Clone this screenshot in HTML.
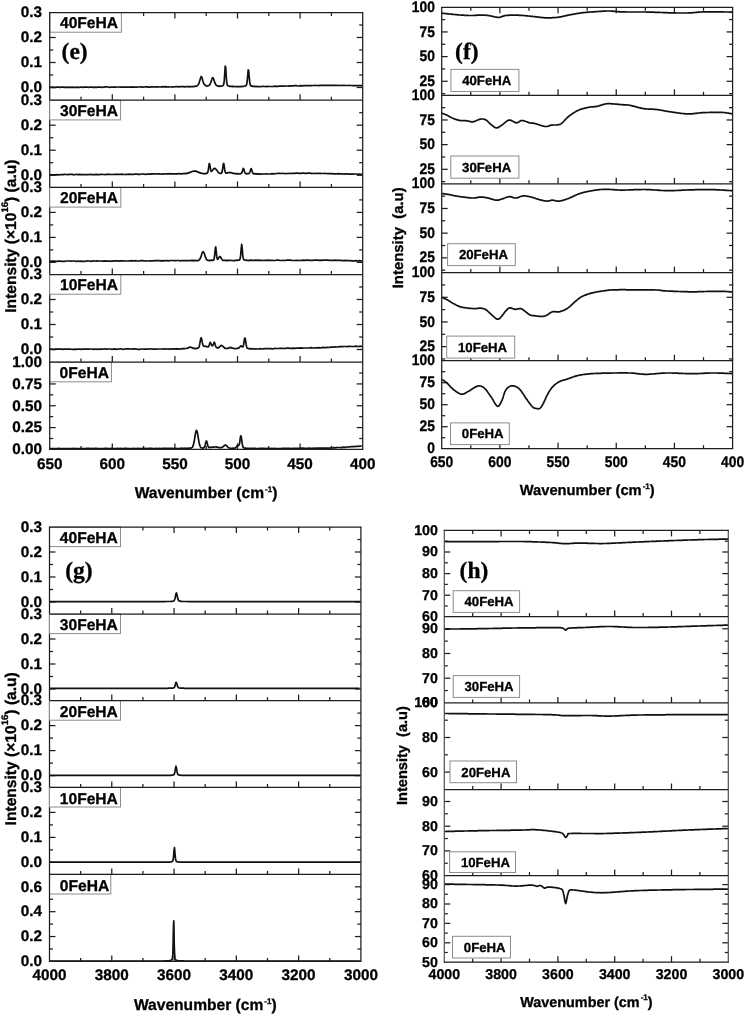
<!DOCTYPE html>
<html><head><meta charset="utf-8"><style>
html,body{margin:0;padding:0;background:#fff;}
svg{display:block;will-change:transform;}
text{text-rendering:geometricPrecision;stroke:#000;stroke-width:0.3px;}
</style></head><body>
<svg width="745" height="1015" viewBox="0 0 745 1015">
<rect width="745" height="1015" fill="#fff"/>
<line x1="81.00" y1="12.50" x2="81.00" y2="16.00" stroke="#1e1e1e" stroke-width="1.25"/>
<line x1="81.00" y1="100.20" x2="81.00" y2="96.70" stroke="#1e1e1e" stroke-width="1.25"/>
<line x1="112.30" y1="12.50" x2="112.30" y2="18.50" stroke="#1e1e1e" stroke-width="1.25"/>
<line x1="112.30" y1="100.20" x2="112.30" y2="94.20" stroke="#1e1e1e" stroke-width="1.25"/>
<line x1="143.60" y1="12.50" x2="143.60" y2="16.00" stroke="#1e1e1e" stroke-width="1.25"/>
<line x1="143.60" y1="100.20" x2="143.60" y2="96.70" stroke="#1e1e1e" stroke-width="1.25"/>
<line x1="174.90" y1="12.50" x2="174.90" y2="18.50" stroke="#1e1e1e" stroke-width="1.25"/>
<line x1="174.90" y1="100.20" x2="174.90" y2="94.20" stroke="#1e1e1e" stroke-width="1.25"/>
<line x1="206.20" y1="12.50" x2="206.20" y2="16.00" stroke="#1e1e1e" stroke-width="1.25"/>
<line x1="206.20" y1="100.20" x2="206.20" y2="96.70" stroke="#1e1e1e" stroke-width="1.25"/>
<line x1="237.50" y1="12.50" x2="237.50" y2="18.50" stroke="#1e1e1e" stroke-width="1.25"/>
<line x1="237.50" y1="100.20" x2="237.50" y2="94.20" stroke="#1e1e1e" stroke-width="1.25"/>
<line x1="268.80" y1="12.50" x2="268.80" y2="16.00" stroke="#1e1e1e" stroke-width="1.25"/>
<line x1="268.80" y1="100.20" x2="268.80" y2="96.70" stroke="#1e1e1e" stroke-width="1.25"/>
<line x1="300.10" y1="12.50" x2="300.10" y2="18.50" stroke="#1e1e1e" stroke-width="1.25"/>
<line x1="300.10" y1="100.20" x2="300.10" y2="94.20" stroke="#1e1e1e" stroke-width="1.25"/>
<line x1="331.40" y1="12.50" x2="331.40" y2="16.00" stroke="#1e1e1e" stroke-width="1.25"/>
<line x1="331.40" y1="100.20" x2="331.40" y2="96.70" stroke="#1e1e1e" stroke-width="1.25"/>
<line x1="49.70" y1="87.50" x2="55.70" y2="87.50" stroke="#1e1e1e" stroke-width="1.25"/>
<line x1="362.70" y1="87.50" x2="356.70" y2="87.50" stroke="#1e1e1e" stroke-width="1.25"/>
<line x1="49.70" y1="75.00" x2="53.20" y2="75.00" stroke="#1e1e1e" stroke-width="1.25"/>
<line x1="362.70" y1="75.00" x2="359.20" y2="75.00" stroke="#1e1e1e" stroke-width="1.25"/>
<line x1="49.70" y1="62.50" x2="55.70" y2="62.50" stroke="#1e1e1e" stroke-width="1.25"/>
<line x1="362.70" y1="62.50" x2="356.70" y2="62.50" stroke="#1e1e1e" stroke-width="1.25"/>
<line x1="49.70" y1="50.00" x2="53.20" y2="50.00" stroke="#1e1e1e" stroke-width="1.25"/>
<line x1="362.70" y1="50.00" x2="359.20" y2="50.00" stroke="#1e1e1e" stroke-width="1.25"/>
<line x1="49.70" y1="37.50" x2="55.70" y2="37.50" stroke="#1e1e1e" stroke-width="1.25"/>
<line x1="362.70" y1="37.50" x2="356.70" y2="37.50" stroke="#1e1e1e" stroke-width="1.25"/>
<line x1="49.70" y1="25.00" x2="53.20" y2="25.00" stroke="#1e1e1e" stroke-width="1.25"/>
<line x1="362.70" y1="25.00" x2="359.20" y2="25.00" stroke="#1e1e1e" stroke-width="1.25"/>
<line x1="81.00" y1="187.40" x2="81.00" y2="183.90" stroke="#1e1e1e" stroke-width="1.25"/>
<line x1="112.30" y1="187.40" x2="112.30" y2="181.40" stroke="#1e1e1e" stroke-width="1.25"/>
<line x1="143.60" y1="187.40" x2="143.60" y2="183.90" stroke="#1e1e1e" stroke-width="1.25"/>
<line x1="174.90" y1="187.40" x2="174.90" y2="181.40" stroke="#1e1e1e" stroke-width="1.25"/>
<line x1="206.20" y1="187.40" x2="206.20" y2="183.90" stroke="#1e1e1e" stroke-width="1.25"/>
<line x1="237.50" y1="187.40" x2="237.50" y2="181.40" stroke="#1e1e1e" stroke-width="1.25"/>
<line x1="268.80" y1="187.40" x2="268.80" y2="183.90" stroke="#1e1e1e" stroke-width="1.25"/>
<line x1="300.10" y1="187.40" x2="300.10" y2="181.40" stroke="#1e1e1e" stroke-width="1.25"/>
<line x1="331.40" y1="187.40" x2="331.40" y2="183.90" stroke="#1e1e1e" stroke-width="1.25"/>
<line x1="49.70" y1="175.20" x2="55.70" y2="175.20" stroke="#1e1e1e" stroke-width="1.25"/>
<line x1="362.70" y1="175.20" x2="356.70" y2="175.20" stroke="#1e1e1e" stroke-width="1.25"/>
<line x1="49.70" y1="162.70" x2="53.20" y2="162.70" stroke="#1e1e1e" stroke-width="1.25"/>
<line x1="362.70" y1="162.70" x2="359.20" y2="162.70" stroke="#1e1e1e" stroke-width="1.25"/>
<line x1="49.70" y1="150.20" x2="55.70" y2="150.20" stroke="#1e1e1e" stroke-width="1.25"/>
<line x1="362.70" y1="150.20" x2="356.70" y2="150.20" stroke="#1e1e1e" stroke-width="1.25"/>
<line x1="49.70" y1="137.70" x2="53.20" y2="137.70" stroke="#1e1e1e" stroke-width="1.25"/>
<line x1="362.70" y1="137.70" x2="359.20" y2="137.70" stroke="#1e1e1e" stroke-width="1.25"/>
<line x1="49.70" y1="125.20" x2="55.70" y2="125.20" stroke="#1e1e1e" stroke-width="1.25"/>
<line x1="362.70" y1="125.20" x2="356.70" y2="125.20" stroke="#1e1e1e" stroke-width="1.25"/>
<line x1="49.70" y1="112.70" x2="53.20" y2="112.70" stroke="#1e1e1e" stroke-width="1.25"/>
<line x1="362.70" y1="112.70" x2="359.20" y2="112.70" stroke="#1e1e1e" stroke-width="1.25"/>
<line x1="81.00" y1="274.50" x2="81.00" y2="271.00" stroke="#1e1e1e" stroke-width="1.25"/>
<line x1="112.30" y1="274.50" x2="112.30" y2="268.50" stroke="#1e1e1e" stroke-width="1.25"/>
<line x1="143.60" y1="274.50" x2="143.60" y2="271.00" stroke="#1e1e1e" stroke-width="1.25"/>
<line x1="174.90" y1="274.50" x2="174.90" y2="268.50" stroke="#1e1e1e" stroke-width="1.25"/>
<line x1="206.20" y1="274.50" x2="206.20" y2="271.00" stroke="#1e1e1e" stroke-width="1.25"/>
<line x1="237.50" y1="274.50" x2="237.50" y2="268.50" stroke="#1e1e1e" stroke-width="1.25"/>
<line x1="268.80" y1="274.50" x2="268.80" y2="271.00" stroke="#1e1e1e" stroke-width="1.25"/>
<line x1="300.10" y1="274.50" x2="300.10" y2="268.50" stroke="#1e1e1e" stroke-width="1.25"/>
<line x1="331.40" y1="274.50" x2="331.40" y2="271.00" stroke="#1e1e1e" stroke-width="1.25"/>
<line x1="49.70" y1="262.40" x2="55.70" y2="262.40" stroke="#1e1e1e" stroke-width="1.25"/>
<line x1="362.70" y1="262.40" x2="356.70" y2="262.40" stroke="#1e1e1e" stroke-width="1.25"/>
<line x1="49.70" y1="249.90" x2="53.20" y2="249.90" stroke="#1e1e1e" stroke-width="1.25"/>
<line x1="362.70" y1="249.90" x2="359.20" y2="249.90" stroke="#1e1e1e" stroke-width="1.25"/>
<line x1="49.70" y1="237.40" x2="55.70" y2="237.40" stroke="#1e1e1e" stroke-width="1.25"/>
<line x1="362.70" y1="237.40" x2="356.70" y2="237.40" stroke="#1e1e1e" stroke-width="1.25"/>
<line x1="49.70" y1="224.90" x2="53.20" y2="224.90" stroke="#1e1e1e" stroke-width="1.25"/>
<line x1="362.70" y1="224.90" x2="359.20" y2="224.90" stroke="#1e1e1e" stroke-width="1.25"/>
<line x1="49.70" y1="212.40" x2="55.70" y2="212.40" stroke="#1e1e1e" stroke-width="1.25"/>
<line x1="362.70" y1="212.40" x2="356.70" y2="212.40" stroke="#1e1e1e" stroke-width="1.25"/>
<line x1="49.70" y1="199.90" x2="53.20" y2="199.90" stroke="#1e1e1e" stroke-width="1.25"/>
<line x1="362.70" y1="199.90" x2="359.20" y2="199.90" stroke="#1e1e1e" stroke-width="1.25"/>
<line x1="81.00" y1="362.10" x2="81.00" y2="358.60" stroke="#1e1e1e" stroke-width="1.25"/>
<line x1="112.30" y1="362.10" x2="112.30" y2="356.10" stroke="#1e1e1e" stroke-width="1.25"/>
<line x1="143.60" y1="362.10" x2="143.60" y2="358.60" stroke="#1e1e1e" stroke-width="1.25"/>
<line x1="174.90" y1="362.10" x2="174.90" y2="356.10" stroke="#1e1e1e" stroke-width="1.25"/>
<line x1="206.20" y1="362.10" x2="206.20" y2="358.60" stroke="#1e1e1e" stroke-width="1.25"/>
<line x1="237.50" y1="362.10" x2="237.50" y2="356.10" stroke="#1e1e1e" stroke-width="1.25"/>
<line x1="268.80" y1="362.10" x2="268.80" y2="358.60" stroke="#1e1e1e" stroke-width="1.25"/>
<line x1="300.10" y1="362.10" x2="300.10" y2="356.10" stroke="#1e1e1e" stroke-width="1.25"/>
<line x1="331.40" y1="362.10" x2="331.40" y2="358.60" stroke="#1e1e1e" stroke-width="1.25"/>
<line x1="49.70" y1="349.50" x2="55.70" y2="349.50" stroke="#1e1e1e" stroke-width="1.25"/>
<line x1="362.70" y1="349.50" x2="356.70" y2="349.50" stroke="#1e1e1e" stroke-width="1.25"/>
<line x1="49.70" y1="337.00" x2="53.20" y2="337.00" stroke="#1e1e1e" stroke-width="1.25"/>
<line x1="362.70" y1="337.00" x2="359.20" y2="337.00" stroke="#1e1e1e" stroke-width="1.25"/>
<line x1="49.70" y1="324.50" x2="55.70" y2="324.50" stroke="#1e1e1e" stroke-width="1.25"/>
<line x1="362.70" y1="324.50" x2="356.70" y2="324.50" stroke="#1e1e1e" stroke-width="1.25"/>
<line x1="49.70" y1="312.00" x2="53.20" y2="312.00" stroke="#1e1e1e" stroke-width="1.25"/>
<line x1="362.70" y1="312.00" x2="359.20" y2="312.00" stroke="#1e1e1e" stroke-width="1.25"/>
<line x1="49.70" y1="299.50" x2="55.70" y2="299.50" stroke="#1e1e1e" stroke-width="1.25"/>
<line x1="362.70" y1="299.50" x2="356.70" y2="299.50" stroke="#1e1e1e" stroke-width="1.25"/>
<line x1="49.70" y1="287.00" x2="53.20" y2="287.00" stroke="#1e1e1e" stroke-width="1.25"/>
<line x1="362.70" y1="287.00" x2="359.20" y2="287.00" stroke="#1e1e1e" stroke-width="1.25"/>
<line x1="81.00" y1="449.40" x2="81.00" y2="445.90" stroke="#1e1e1e" stroke-width="1.25"/>
<line x1="112.30" y1="449.40" x2="112.30" y2="443.40" stroke="#1e1e1e" stroke-width="1.25"/>
<line x1="143.60" y1="449.40" x2="143.60" y2="445.90" stroke="#1e1e1e" stroke-width="1.25"/>
<line x1="174.90" y1="449.40" x2="174.90" y2="443.40" stroke="#1e1e1e" stroke-width="1.25"/>
<line x1="206.20" y1="449.40" x2="206.20" y2="445.90" stroke="#1e1e1e" stroke-width="1.25"/>
<line x1="237.50" y1="449.40" x2="237.50" y2="443.40" stroke="#1e1e1e" stroke-width="1.25"/>
<line x1="268.80" y1="449.40" x2="268.80" y2="445.90" stroke="#1e1e1e" stroke-width="1.25"/>
<line x1="300.10" y1="449.40" x2="300.10" y2="443.40" stroke="#1e1e1e" stroke-width="1.25"/>
<line x1="331.40" y1="449.40" x2="331.40" y2="445.90" stroke="#1e1e1e" stroke-width="1.25"/>
<line x1="49.70" y1="438.49" x2="53.20" y2="438.49" stroke="#1e1e1e" stroke-width="1.25"/>
<line x1="362.70" y1="438.49" x2="359.20" y2="438.49" stroke="#1e1e1e" stroke-width="1.25"/>
<line x1="49.70" y1="427.58" x2="55.70" y2="427.58" stroke="#1e1e1e" stroke-width="1.25"/>
<line x1="362.70" y1="427.58" x2="356.70" y2="427.58" stroke="#1e1e1e" stroke-width="1.25"/>
<line x1="49.70" y1="416.66" x2="53.20" y2="416.66" stroke="#1e1e1e" stroke-width="1.25"/>
<line x1="362.70" y1="416.66" x2="359.20" y2="416.66" stroke="#1e1e1e" stroke-width="1.25"/>
<line x1="49.70" y1="405.75" x2="55.70" y2="405.75" stroke="#1e1e1e" stroke-width="1.25"/>
<line x1="362.70" y1="405.75" x2="356.70" y2="405.75" stroke="#1e1e1e" stroke-width="1.25"/>
<line x1="49.70" y1="394.84" x2="53.20" y2="394.84" stroke="#1e1e1e" stroke-width="1.25"/>
<line x1="362.70" y1="394.84" x2="359.20" y2="394.84" stroke="#1e1e1e" stroke-width="1.25"/>
<line x1="49.70" y1="383.93" x2="55.70" y2="383.93" stroke="#1e1e1e" stroke-width="1.25"/>
<line x1="362.70" y1="383.93" x2="356.70" y2="383.93" stroke="#1e1e1e" stroke-width="1.25"/>
<line x1="49.70" y1="373.01" x2="53.20" y2="373.01" stroke="#1e1e1e" stroke-width="1.25"/>
<line x1="362.70" y1="373.01" x2="359.20" y2="373.01" stroke="#1e1e1e" stroke-width="1.25"/>
<path d="M49.7,87.2 L51.2,87.3 L52.7,87.2 L54.2,87.3 L55.7,87.3 L57.2,87.1 L58.7,87.1 L60.2,87.4 L61.7,87.2 L63.2,87.1 L64.7,87.4 L66.2,87.2 L67.7,87.4 L69.2,87.2 L70.7,87.3 L72.2,87.1 L73.7,87.3 L75.2,87.4 L76.7,87.2 L78.2,87.3 L79.7,87.3 L81.2,87.0 L82.7,87.3 L84.2,87.2 L85.7,87.1 L87.2,87.0 L88.7,87.3 L90.2,87.1 L91.7,87.2 L93.2,87.3 L94.7,87.2 L96.2,87.3 L97.7,87.1 L99.2,87.2 L100.7,87.1 L102.2,87.3 L103.7,87.2 L105.2,86.9 L106.7,86.9 L108.2,87.0 L109.7,87.3 L111.2,87.0 L112.7,87.1 L114.2,87.0 L115.7,87.1 L117.2,87.0 L118.7,87.0 L120.2,87.1 L121.7,87.1 L123.2,87.2 L124.7,87.1 L126.2,87.2 L127.7,87.1 L129.2,87.2 L130.7,87.1 L132.2,86.9 L133.7,87.1 L135.2,87.2 L136.7,87.1 L138.2,87.0 L139.7,87.0 L141.2,86.8 L142.7,87.1 L144.2,87.0 L145.7,86.8 L147.2,86.8 L148.7,87.1 L150.2,87.1 L151.7,86.7 L153.2,87.0 L154.7,86.9 L156.2,86.8 L157.7,86.8 L159.2,87.0 L160.7,87.0 L162.2,86.7 L163.7,86.9 L165.2,86.7 L166.7,86.9 L168.2,86.8 L169.7,87.0 L171.2,87.0 L172.7,86.8 L174.2,87.0 L175.7,86.7 L177.2,86.6 L178.7,86.8 L180.2,86.6 L181.7,86.6 L183.2,86.7 L184.7,86.8 L186.2,86.6 L187.7,86.5 L188.2,86.8 L188.7,86.6 L189.2,86.8 L189.7,86.8 L190.2,86.6 L190.7,86.6 L191.2,86.6 L191.7,86.6 L192.2,86.6 L192.7,86.6 L193.2,86.5 L193.7,86.6 L194.2,86.4 L194.7,86.3 L195.2,86.4 L195.7,86.1 L196.2,86.1 L196.7,86.2 L197.2,85.8 L197.7,85.4 L198.2,84.6 L198.7,83.8 L199.2,82.6 L199.7,80.8 L200.2,79.2 L200.7,77.6 L201.2,76.5 L201.7,77.1 L202.2,78.4 L202.7,80.3 L203.2,81.9 L203.7,83.4 L204.2,84.4 L204.7,84.8 L205.2,85.2 L205.7,85.7 L206.2,86.0 L206.7,85.8 L207.2,85.8 L207.7,85.9 L208.2,85.7 L208.7,85.5 L209.2,85.2 L209.7,84.7 L210.2,84.0 L210.7,82.8 L211.2,81.4 L211.7,79.9 L212.2,78.2 L212.7,77.6 L213.2,78.0 L213.7,79.1 L214.2,80.7 L214.7,82.5 L215.2,83.5 L215.7,84.5 L216.2,85.2 L216.7,85.7 L217.2,85.7 L217.7,85.9 L218.2,86.0 L218.7,86.3 L219.2,86.2 L219.7,86.3 L220.2,86.1 L220.7,86.1 L221.2,86.2 L221.7,86.2 L222.2,86.0 L222.7,85.7 L223.2,85.3 L223.7,84.4 L224.2,81.0 L224.7,74.2 L225.2,66.2 L225.7,67.1 L226.2,75.7 L226.7,82.2 L227.2,84.8 L227.7,85.7 L228.2,85.9 L228.7,86.0 L229.2,86.1 L229.7,86.4 L230.2,86.3 L230.7,86.3 L231.2,86.4 L231.7,86.4 L232.2,86.4 L232.7,86.7 L233.2,86.4 L233.7,86.3 L235.2,86.7 L236.7,86.7 L238.2,86.7 L239.7,86.5 L241.2,86.7 L241.7,86.6 L242.2,86.3 L242.7,86.5 L243.2,86.5 L243.7,86.4 L244.2,86.3 L244.7,86.1 L245.2,86.0 L245.7,85.8 L246.2,85.3 L246.7,84.2 L247.2,81.0 L247.7,75.6 L248.2,69.8 L248.7,70.9 L249.2,76.8 L249.7,82.1 L250.2,84.7 L250.7,85.7 L251.2,86.0 L251.7,85.9 L252.2,86.3 L252.7,86.2 L253.2,86.3 L253.7,86.5 L254.2,86.4 L254.7,86.4 L255.2,86.6 L255.7,86.5 L256.2,86.4 L256.7,86.4 L257.2,86.7 L258.7,86.5 L260.2,86.7 L261.7,86.5 L263.2,86.4 L264.7,86.5 L266.2,86.6 L267.7,86.3 L269.2,86.5 L270.7,86.5 L272.2,86.5 L273.7,86.4 L275.2,86.1 L276.7,86.3 L278.2,86.4 L279.7,86.0 L281.2,86.1 L282.7,86.0 L284.2,86.1 L285.7,86.0 L287.2,86.0 L288.7,86.1 L290.2,85.8 L291.7,85.8 L293.2,85.8 L294.7,85.7 L296.2,85.7 L297.7,86.0 L299.2,86.0 L300.7,85.6 L302.2,85.8 L303.7,85.7 L305.2,85.6 L306.7,85.6 L308.2,85.7 L309.7,85.7 L311.2,85.6 L312.7,85.5 L314.2,85.5 L315.7,85.4 L317.2,85.5 L318.7,85.6 L320.2,85.4 L321.7,85.3 L323.2,85.3 L324.7,85.3 L326.2,85.4 L327.7,85.4 L329.2,85.3 L330.7,85.4 L332.2,85.4 L333.7,85.3 L335.2,85.3 L336.7,85.4 L338.2,85.5 L339.7,85.4 L341.2,85.5 L342.7,85.4 L344.2,85.3 L345.7,85.5 L347.2,85.5 L348.7,85.3 L350.2,85.5 L351.7,85.5 L353.2,85.7 L354.7,85.7 L356.2,85.5 L357.7,85.7 L359.2,85.7 L360.7,85.5 L362.2,85.6" fill="none" stroke="#111" stroke-width="1.7" stroke-linejoin="round"/>
<path d="M49.7,174.5 L51.2,174.8 L52.7,174.8 L54.2,174.8 L55.7,174.8 L57.2,174.7 L58.7,174.8 L60.2,174.7 L61.7,174.5 L63.2,174.7 L64.7,174.4 L66.2,174.5 L67.7,174.7 L69.2,174.4 L70.7,174.4 L72.2,174.4 L73.7,174.8 L75.2,174.5 L76.7,174.4 L78.2,174.7 L79.7,174.4 L81.2,174.7 L82.7,174.6 L84.2,174.7 L85.7,174.7 L87.2,174.6 L88.7,174.7 L90.2,174.3 L91.7,174.6 L93.2,174.5 L94.7,174.6 L96.2,174.3 L97.7,174.6 L99.2,174.7 L100.7,174.3 L102.2,174.4 L103.7,174.5 L105.2,174.6 L106.7,174.4 L108.2,174.3 L109.7,174.3 L111.2,174.5 L112.7,174.5 L114.2,174.4 L115.7,174.4 L117.2,174.4 L118.7,174.3 L120.2,174.4 L121.7,174.2 L123.2,174.4 L124.7,174.5 L126.2,174.3 L127.7,174.4 L129.2,174.2 L130.7,174.4 L132.2,174.4 L133.7,174.3 L135.2,174.2 L136.7,174.2 L138.2,174.3 L139.7,174.3 L141.2,174.0 L142.7,174.0 L144.2,174.2 L145.7,174.3 L147.2,174.1 L148.7,174.1 L150.2,174.2 L151.7,173.9 L153.2,173.9 L154.7,173.9 L156.2,174.0 L157.7,173.9 L159.2,173.9 L160.7,174.0 L162.2,174.1 L163.7,173.8 L165.2,174.0 L165.7,173.9 L166.2,174.0 L166.7,173.9 L167.2,173.8 L167.7,173.8 L168.2,173.7 L168.7,173.9 L169.2,173.8 L169.7,173.7 L170.2,173.8 L170.7,173.8 L171.2,174.0 L171.7,173.7 L172.2,174.0 L172.7,173.8 L173.2,173.9 L173.7,173.8 L174.2,173.9 L174.7,173.9 L175.2,173.8 L175.7,173.8 L176.2,173.9 L176.7,173.9 L177.2,173.7 L177.7,173.9 L178.2,174.0 L178.7,173.7 L179.2,173.6 L179.7,173.6 L180.2,173.8 L180.7,173.8 L181.2,173.9 L181.7,173.9 L182.2,173.6 L182.7,173.6 L183.2,173.6 L183.7,173.5 L184.2,173.7 L184.7,173.7 L185.2,173.7 L185.7,173.4 L186.2,173.6 L186.7,173.3 L187.2,173.3 L187.7,173.3 L188.2,172.9 L188.7,172.7 L189.2,172.8 L189.7,172.4 L190.2,172.3 L190.7,172.2 L191.2,172.0 L191.7,171.5 L192.2,171.5 L192.7,171.4 L193.2,171.3 L193.7,171.1 L194.2,171.2 L194.7,171.3 L195.2,171.1 L195.7,171.3 L196.2,171.2 L196.7,171.4 L197.2,171.8 L197.7,171.7 L198.2,172.3 L198.7,172.5 L199.2,172.3 L199.7,172.9 L200.2,172.8 L200.7,173.1 L201.2,173.3 L201.7,173.2 L202.2,173.4 L202.7,173.5 L203.2,173.6 L203.7,173.5 L204.2,173.7 L204.7,173.8 L205.2,173.7 L205.7,173.6 L206.2,173.4 L206.7,173.4 L207.2,173.1 L207.7,172.5 L208.2,170.6 L208.7,167.0 L209.2,163.5 L209.7,164.0 L210.2,167.3 L210.7,169.9 L211.2,171.4 L211.7,171.3 L212.2,170.5 L212.7,170.2 L213.2,169.3 L213.7,168.8 L214.2,168.6 L214.7,168.4 L215.2,168.6 L215.7,169.0 L216.2,169.5 L216.7,170.1 L217.2,170.8 L217.7,171.4 L218.2,172.3 L218.7,172.8 L219.2,173.0 L219.7,173.3 L220.2,173.3 L220.7,173.3 L221.2,173.3 L221.7,173.0 L222.2,171.3 L222.7,168.5 L223.2,164.6 L223.7,163.4 L224.2,166.0 L224.7,169.7 L225.2,172.0 L225.7,172.9 L226.2,173.2 L226.7,173.0 L227.2,173.1 L227.7,172.8 L228.2,172.7 L228.7,172.5 L229.2,172.5 L229.7,172.7 L230.2,172.7 L230.7,172.5 L231.2,172.6 L231.7,172.8 L232.2,173.1 L232.7,173.3 L233.2,173.4 L233.7,173.5 L234.2,173.4 L234.7,173.6 L235.2,173.6 L235.7,173.8 L236.2,173.8 L236.7,173.7 L237.2,173.7 L237.7,173.9 L238.2,173.6 L238.7,173.9 L239.2,174.0 L239.7,174.0 L240.2,173.7 L240.7,173.7 L241.2,173.5 L241.7,173.0 L242.2,172.0 L242.7,170.1 L243.2,168.4 L243.7,168.8 L244.2,170.4 L244.7,172.1 L245.2,173.2 L245.7,173.3 L246.2,173.8 L246.7,173.8 L247.2,173.7 L247.7,173.7 L248.2,173.7 L248.7,173.5 L249.2,173.4 L249.7,172.5 L250.2,171.3 L250.7,169.6 L251.2,168.6 L251.7,169.6 L252.2,171.5 L252.7,172.8 L253.2,173.3 L253.7,173.8 L254.2,173.8 L254.7,173.7 L255.2,173.8 L255.7,173.8 L256.2,173.7 L256.7,173.9 L257.2,174.1 L257.7,173.9 L258.2,174.1 L258.7,174.0 L259.2,173.8 L259.7,174.1 L260.2,174.0 L261.7,174.1 L263.2,174.0 L264.7,174.0 L266.2,173.8 L267.7,174.0 L269.2,174.0 L270.7,173.9 L272.2,173.7 L273.7,173.8 L275.2,173.7 L276.7,173.5 L278.2,173.4 L279.7,173.4 L281.2,173.5 L282.7,173.4 L284.2,173.5 L285.7,173.6 L287.2,173.5 L288.7,173.4 L290.2,173.5 L291.7,173.3 L293.2,173.3 L294.7,173.4 L296.2,173.2 L297.7,173.1 L299.2,173.4 L300.7,173.3 L302.2,173.2 L303.7,173.2 L305.2,173.3 L306.7,173.4 L308.2,173.2 L309.7,173.2 L311.2,173.3 L312.7,173.5 L314.2,173.3 L315.7,173.5 L317.2,173.4 L318.7,173.4 L320.2,173.4 L321.7,173.5 L323.2,173.5 L324.7,173.4 L326.2,173.5 L327.7,173.6 L329.2,173.7 L330.7,173.6 L332.2,173.6 L333.7,173.8 L335.2,173.8 L336.7,173.9 L338.2,173.7 L339.7,173.9 L341.2,173.9 L342.7,173.8 L344.2,174.2 L345.7,173.9 L347.2,173.9 L348.7,174.1 L350.2,174.0 L351.7,174.2 L353.2,174.1 L354.7,174.0 L356.2,174.0 L357.7,174.3 L359.2,174.2 L360.7,174.4 L362.2,174.3" fill="none" stroke="#111" stroke-width="1.7" stroke-linejoin="round"/>
<path d="M49.7,261.5 L51.2,261.2 L52.7,261.2 L54.2,261.2 L55.7,261.4 L57.2,261.3 L58.7,261.2 L60.2,261.1 L61.7,261.3 L63.2,261.4 L64.7,261.3 L66.2,261.0 L67.7,261.0 L69.2,261.0 L70.7,261.1 L72.2,261.0 L73.7,261.0 L75.2,261.2 L76.7,261.3 L78.2,261.0 L79.7,261.3 L81.2,261.1 L82.7,261.3 L84.2,261.3 L85.7,261.3 L87.2,260.9 L88.7,261.0 L90.2,261.1 L91.7,261.3 L93.2,260.9 L94.7,261.0 L96.2,261.2 L97.7,260.9 L99.2,261.0 L100.7,261.0 L102.2,261.1 L103.7,261.2 L105.2,260.9 L106.7,261.1 L108.2,261.1 L109.7,261.1 L111.2,261.0 L112.7,261.2 L114.2,260.9 L115.7,260.9 L117.2,260.9 L118.7,261.1 L120.2,260.9 L121.7,260.8 L123.2,260.8 L124.7,261.0 L126.2,261.0 L127.7,261.0 L129.2,260.9 L130.7,260.9 L132.2,260.7 L133.7,261.0 L135.2,260.7 L136.7,260.9 L138.2,261.0 L139.7,260.9 L141.2,260.7 L142.7,260.7 L144.2,261.0 L145.7,260.9 L147.2,261.0 L148.7,261.0 L150.2,260.8 L151.7,260.9 L153.2,260.9 L154.7,260.7 L156.2,260.7 L157.7,260.6 L159.2,260.7 L160.7,260.9 L162.2,260.6 L163.7,260.8 L165.2,260.6 L166.7,260.5 L168.2,260.8 L169.7,260.6 L171.2,260.5 L172.7,260.5 L174.2,260.7 L175.7,260.7 L177.2,260.5 L178.7,260.5 L180.2,260.8 L181.7,260.5 L183.2,260.7 L184.7,260.6 L186.2,260.7 L187.7,260.6 L189.2,260.7 L189.7,260.6 L190.2,260.5 L190.7,260.5 L191.2,260.4 L191.7,260.7 L192.2,260.4 L192.7,260.4 L193.2,260.8 L193.7,260.5 L194.2,260.7 L194.7,260.4 L195.2,260.6 L195.7,260.5 L196.2,260.7 L196.7,260.6 L197.2,260.6 L197.7,260.6 L198.2,260.6 L198.7,260.2 L199.2,260.0 L199.7,259.4 L200.2,258.4 L200.7,257.4 L201.2,255.9 L201.7,254.4 L202.2,252.8 L202.7,252.0 L203.2,251.7 L203.7,252.4 L204.2,253.2 L204.7,254.8 L205.2,256.4 L205.7,257.6 L206.2,258.9 L206.7,259.7 L207.2,260.0 L207.7,260.3 L208.2,260.4 L208.7,260.3 L209.2,260.4 L209.7,260.7 L210.2,260.4 L210.7,260.4 L211.2,260.2 L211.7,260.3 L212.2,260.2 L212.7,260.4 L213.2,260.2 L213.7,259.9 L214.2,258.5 L214.7,254.7 L215.2,249.3 L215.7,246.9 L216.2,251.3 L216.7,256.6 L217.2,258.9 L217.7,259.4 L218.2,258.7 L218.7,258.0 L219.2,256.9 L219.7,256.6 L220.2,256.7 L220.7,257.1 L221.2,258.4 L221.7,259.0 L222.2,259.7 L222.7,260.3 L223.2,260.3 L223.7,260.4 L224.2,260.5 L224.7,260.3 L225.2,260.6 L225.7,260.4 L226.2,260.4 L226.7,260.4 L227.2,260.6 L227.7,260.6 L228.2,260.4 L228.7,260.3 L229.2,260.4 L229.7,260.4 L230.2,260.3 L230.7,260.3 L231.2,260.5 L231.7,260.5 L233.2,260.6 L234.7,260.6 L235.2,260.5 L235.7,260.3 L236.2,260.2 L236.7,260.3 L237.2,260.3 L237.7,260.3 L238.2,260.2 L238.7,260.1 L239.2,260.1 L239.7,259.6 L240.2,258.4 L240.7,254.9 L241.2,248.6 L241.7,244.4 L242.2,248.3 L242.7,254.9 L243.2,258.2 L243.7,259.5 L244.2,260.0 L244.7,260.1 L245.2,260.1 L245.7,260.1 L246.2,260.2 L246.7,260.4 L247.2,260.3 L247.7,260.5 L248.2,260.5 L248.7,260.6 L249.2,260.2 L249.7,260.3 L251.2,260.2 L252.7,260.4 L254.2,260.3 L255.7,260.2 L257.2,260.4 L258.7,260.2 L260.2,260.3 L261.7,260.3 L263.2,260.5 L264.7,260.3 L266.2,260.3 L267.7,260.2 L269.2,260.3 L270.7,260.4 L272.2,260.4 L273.7,260.5 L275.2,260.5 L276.7,260.2 L278.2,260.2 L279.7,260.4 L281.2,260.5 L282.7,260.3 L284.2,260.5 L285.7,260.3 L287.2,260.2 L288.7,260.2 L290.2,260.1 L291.7,260.4 L293.2,260.5 L294.7,260.5 L296.2,260.3 L297.7,260.4 L299.2,260.5 L300.7,260.4 L302.2,260.3 L303.7,260.2 L305.2,260.3 L306.7,260.1 L308.2,260.1 L309.7,260.3 L311.2,260.4 L312.7,260.3 L314.2,260.2 L315.7,260.2 L317.2,260.2 L318.7,260.4 L320.2,260.2 L321.7,260.4 L323.2,260.1 L324.7,260.1 L326.2,260.2 L327.7,260.2 L329.2,260.3 L330.7,260.3 L332.2,260.4 L333.7,260.3 L335.2,260.1 L336.7,260.4 L338.2,260.4 L339.7,260.4 L341.2,260.4 L342.7,260.6 L344.2,260.7 L345.7,260.4 L347.2,260.6 L348.7,260.6 L350.2,260.6 L351.7,260.8 L353.2,260.9 L354.7,260.8 L356.2,260.7 L357.7,261.0 L359.2,260.7 L360.7,260.8 L362.2,261.0" fill="none" stroke="#111" stroke-width="1.7" stroke-linejoin="round"/>
<path d="M49.7,349.1 L51.2,349.1 L52.7,349.4 L54.2,349.4 L55.7,349.1 L57.2,349.1 L58.7,349.1 L60.2,349.0 L61.7,349.1 L63.2,349.4 L64.7,349.0 L66.2,349.1 L67.7,349.1 L69.2,349.0 L70.7,349.2 L72.2,349.3 L73.7,349.3 L75.2,349.2 L76.7,349.3 L78.2,349.0 L79.7,349.1 L81.2,349.3 L82.7,349.0 L84.2,349.1 L85.7,349.1 L87.2,349.1 L88.7,349.2 L90.2,349.0 L91.7,349.0 L93.2,349.3 L94.7,349.0 L96.2,349.3 L97.7,349.0 L99.2,349.3 L100.7,349.2 L102.2,349.2 L103.7,349.0 L105.2,348.9 L106.7,349.2 L108.2,349.0 L109.7,349.0 L111.2,349.2 L112.7,349.3 L114.2,348.9 L115.7,349.3 L117.2,349.1 L118.7,349.0 L120.2,348.9 L121.7,349.0 L123.2,349.3 L124.7,349.0 L126.2,348.9 L127.7,348.9 L129.2,348.9 L130.7,349.0 L132.2,349.2 L133.7,348.9 L135.2,348.9 L136.7,349.2 L138.2,349.3 L139.7,349.3 L141.2,349.0 L142.7,349.0 L144.2,349.2 L145.7,349.0 L147.2,349.1 L148.7,349.0 L150.2,348.9 L151.7,349.0 L153.2,349.1 L154.7,349.1 L156.2,349.1 L157.7,349.0 L159.2,349.0 L160.7,349.0 L162.2,349.0 L163.7,349.1 L165.2,348.9 L166.7,349.0 L168.2,349.2 L169.7,349.1 L171.2,348.8 L172.7,349.2 L173.2,349.1 L173.7,348.8 L174.2,348.9 L174.7,348.8 L175.2,348.8 L175.7,349.1 L176.2,348.9 L176.7,349.1 L177.2,348.8 L177.7,348.7 L178.2,349.1 L178.7,349.0 L179.2,349.1 L179.7,349.0 L180.2,348.9 L180.7,349.0 L181.2,348.7 L181.7,348.8 L182.2,348.8 L182.7,348.6 L183.2,348.8 L183.7,348.7 L184.2,348.7 L184.7,348.6 L185.2,348.5 L185.7,348.5 L186.2,348.5 L186.7,348.5 L187.2,348.3 L187.7,348.1 L188.2,347.9 L188.7,347.5 L189.2,347.5 L189.7,347.1 L190.2,347.0 L190.7,347.2 L191.2,347.5 L191.7,347.5 L192.2,347.9 L192.7,347.9 L193.2,348.3 L193.7,348.2 L194.2,348.3 L194.7,348.4 L195.2,348.6 L195.7,348.6 L196.2,348.4 L196.7,348.4 L197.2,348.4 L197.7,348.1 L198.2,348.0 L198.7,347.6 L199.2,346.5 L199.7,344.2 L200.2,341.6 L200.7,338.6 L201.2,337.8 L201.7,339.2 L202.2,341.8 L202.7,344.2 L203.2,345.6 L203.7,346.0 L204.2,346.3 L204.7,346.3 L205.2,346.2 L205.7,346.3 L206.2,346.5 L206.7,346.6 L207.2,346.7 L207.7,346.9 L208.2,346.8 L208.7,346.3 L209.2,345.1 L209.7,343.6 L210.2,342.3 L210.7,343.0 L211.2,344.4 L211.7,345.4 L212.2,345.9 L212.7,345.7 L213.2,344.7 L213.7,343.3 L214.2,342.2 L214.7,342.8 L215.2,344.8 L215.7,346.3 L216.2,347.2 L216.7,347.7 L217.2,347.8 L217.7,348.0 L218.2,347.7 L218.7,347.8 L219.2,347.2 L219.7,346.7 L220.2,346.4 L220.7,345.7 L221.2,345.4 L221.7,345.6 L222.2,345.8 L222.7,346.0 L223.2,346.6 L223.7,347.3 L224.2,347.6 L224.7,348.3 L225.2,348.2 L225.7,348.4 L226.2,348.5 L226.7,348.5 L227.2,348.4 L227.7,348.4 L228.2,348.3 L228.7,348.0 L229.2,347.7 L229.7,347.8 L230.2,347.6 L230.7,347.3 L231.2,347.6 L231.7,348.0 L232.2,348.3 L232.7,348.1 L233.2,348.2 L233.7,348.5 L234.2,348.5 L234.7,348.7 L235.2,348.7 L235.7,348.5 L236.2,348.5 L236.7,348.6 L237.2,348.6 L237.7,348.3 L238.2,348.2 L238.7,347.9 L239.2,347.8 L239.7,347.1 L240.2,346.7 L240.7,345.8 L241.2,345.8 L241.7,346.3 L242.2,346.9 L242.7,347.0 L243.2,346.4 L243.7,344.2 L244.2,340.7 L244.7,338.0 L245.2,338.4 L245.7,341.7 L246.2,344.9 L246.7,347.0 L247.2,348.1 L247.7,348.2 L248.2,348.5 L248.7,348.7 L249.2,348.6 L249.7,348.8 L250.2,348.9 L250.7,348.9 L251.2,348.9 L251.7,348.7 L252.2,348.7 L252.7,348.8 L253.2,348.8 L253.7,348.8 L254.2,349.0 L255.7,348.8 L257.2,349.0 L258.7,349.0 L260.2,348.7 L261.7,349.0 L263.2,348.8 L264.7,348.7 L266.2,348.6 L267.7,348.5 L269.2,348.7 L270.7,348.6 L272.2,348.8 L273.7,348.7 L275.2,348.4 L276.7,348.5 L278.2,348.5 L279.7,348.4 L281.2,348.4 L282.7,348.3 L284.2,348.5 L285.7,348.3 L287.2,348.2 L288.7,348.2 L290.2,348.3 L291.7,348.3 L293.2,348.1 L294.7,348.3 L296.2,348.1 L297.7,348.2 L299.2,348.2 L300.7,347.9 L302.2,348.1 L303.7,348.0 L305.2,348.0 L306.7,348.0 L308.2,348.0 L309.7,347.9 L311.2,347.7 L312.7,348.0 L314.2,348.0 L315.7,347.8 L317.2,347.8 L318.7,347.6 L320.2,347.8 L321.7,347.7 L323.2,347.4 L324.7,347.6 L326.2,347.6 L327.7,347.3 L329.2,347.5 L330.7,347.2 L332.2,347.0 L333.7,347.1 L335.2,346.9 L336.7,347.0 L338.2,346.9 L339.7,346.6 L341.2,346.7 L342.7,346.7 L344.2,346.5 L345.7,346.5 L347.2,346.6 L348.7,346.4 L350.2,346.4 L351.7,346.5 L353.2,346.5 L354.7,346.3 L356.2,346.2 L357.7,346.5 L359.2,346.4 L360.7,346.2 L362.2,346.5" fill="none" stroke="#111" stroke-width="1.7" stroke-linejoin="round"/>
<path d="M49.7,448.7 L51.2,448.6 L52.7,448.7 L54.2,448.7 L55.7,448.7 L57.2,448.5 L58.7,448.4 L60.2,448.6 L61.7,448.7 L63.2,448.5 L64.7,448.6 L66.2,448.6 L67.7,448.5 L69.2,448.6 L70.7,448.6 L72.2,448.5 L73.7,448.4 L75.2,448.6 L76.7,448.5 L78.2,448.6 L79.7,448.5 L81.2,448.5 L82.7,448.5 L84.2,448.5 L85.7,448.6 L87.2,448.4 L88.7,448.4 L90.2,448.5 L91.7,448.4 L93.2,448.5 L94.7,448.4 L96.2,448.4 L97.7,448.5 L99.2,448.7 L100.7,448.6 L102.2,448.5 L103.7,448.5 L105.2,448.4 L106.7,448.4 L108.2,448.5 L109.7,448.6 L111.2,448.4 L112.7,448.6 L114.2,448.5 L115.7,448.5 L117.2,448.4 L118.7,448.6 L120.2,448.4 L121.7,448.5 L123.2,448.5 L124.7,448.4 L126.2,448.4 L127.7,448.6 L129.2,448.6 L130.7,448.5 L132.2,448.6 L133.7,448.4 L135.2,448.5 L136.7,448.5 L138.2,448.4 L139.7,448.5 L141.2,448.6 L142.7,448.4 L144.2,448.5 L145.7,448.4 L147.2,448.5 L148.7,448.4 L150.2,448.4 L151.7,448.4 L153.2,448.6 L154.7,448.5 L156.2,448.4 L157.7,448.5 L159.2,448.4 L160.7,448.5 L162.2,448.4 L163.7,448.4 L165.2,448.4 L166.7,448.4 L168.2,448.3 L169.7,448.3 L171.2,448.4 L172.7,448.3 L174.2,448.5 L175.7,448.4 L177.2,448.5 L178.7,448.5 L180.2,448.4 L181.7,448.3 L182.2,448.2 L182.7,448.4 L183.2,448.4 L183.7,448.5 L184.2,448.3 L184.7,448.2 L185.2,448.5 L185.7,448.4 L186.2,448.3 L186.7,448.4 L187.2,448.2 L187.7,448.3 L188.2,448.3 L188.7,448.3 L189.2,448.2 L189.7,448.1 L190.2,448.2 L190.7,448.3 L191.2,447.9 L191.7,447.7 L192.2,447.3 L192.7,446.8 L193.2,445.4 L193.7,443.6 L194.2,441.3 L194.7,438.2 L195.2,435.0 L195.7,432.4 L196.2,430.5 L196.7,430.4 L197.2,432.0 L197.7,434.3 L198.2,437.4 L198.7,440.6 L199.2,443.1 L199.7,445.2 L200.2,446.3 L200.7,447.3 L201.2,447.7 L201.7,448.0 L202.2,448.0 L202.7,448.1 L203.2,447.9 L203.7,447.8 L204.2,447.5 L204.7,446.7 L205.2,444.9 L205.7,442.7 L206.2,441.0 L206.7,441.1 L207.2,443.1 L207.7,445.2 L208.2,446.6 L208.7,447.3 L209.2,447.4 L209.7,447.4 L210.2,447.3 L210.7,447.4 L211.2,447.3 L211.7,447.3 L212.2,447.1 L212.7,447.2 L213.2,447.1 L213.7,447.1 L214.2,447.1 L214.7,447.0 L215.2,447.0 L215.7,446.9 L216.2,446.9 L216.7,447.2 L217.2,447.2 L217.7,447.1 L218.2,447.5 L218.7,447.5 L219.2,447.6 L219.7,447.6 L220.2,447.6 L220.7,447.8 L221.2,447.6 L221.7,447.5 L222.2,447.5 L222.7,446.9 L223.2,446.6 L223.7,446.1 L224.2,445.6 L224.7,445.4 L225.2,445.1 L225.7,445.0 L226.2,445.4 L226.7,445.7 L227.2,446.4 L227.7,447.0 L228.2,447.5 L228.7,447.6 L229.2,448.0 L229.7,448.1 L230.2,448.3 L230.7,448.3 L231.2,448.3 L231.7,448.3 L232.2,448.4 L232.7,448.2 L233.2,448.5 L233.7,448.2 L234.2,448.5 L234.7,448.2 L235.2,447.9 L235.7,447.8 L236.2,447.1 L236.7,446.5 L237.2,445.8 L237.7,445.6 L238.2,445.5 L238.7,445.7 L239.2,444.7 L239.7,442.5 L240.2,438.6 L240.7,435.8 L241.2,436.4 L241.7,439.9 L242.2,443.4 L242.7,446.1 L243.2,447.3 L243.7,447.8 L244.2,448.0 L244.7,448.2 L245.2,448.1 L245.7,448.2 L246.2,448.4 L246.7,448.3 L247.2,448.3 L247.7,448.3 L248.2,448.3 L248.7,448.4 L249.2,448.5 L249.7,448.5 L250.2,448.4 L250.7,448.3 L252.2,448.4 L253.7,448.3 L255.2,448.4 L256.7,448.5 L258.2,448.5 L259.7,448.4 L261.2,448.4 L262.7,448.3 L264.2,448.4 L265.7,448.5 L267.2,448.4 L268.7,448.6 L270.2,448.5 L271.7,448.4 L273.2,448.5 L274.7,448.4 L276.2,448.6 L277.7,448.6 L279.2,448.5 L280.7,448.6 L282.2,448.4 L283.7,448.4 L285.2,448.4 L286.7,448.3 L288.2,448.4 L289.7,448.4 L291.2,448.5 L292.7,448.3 L294.2,448.4 L295.7,448.3 L297.2,448.3 L298.7,448.3 L300.2,448.3 L301.7,448.2 L303.2,448.2 L304.7,448.3 L306.2,448.3 L307.7,448.3 L309.2,448.1 L310.7,448.3 L312.2,448.3 L313.7,448.2 L315.2,448.3 L316.7,448.0 L318.2,448.2 L319.7,448.2 L321.2,448.0 L322.7,448.1 L324.2,448.2 L325.7,448.0 L327.2,448.1 L328.7,448.1 L330.2,448.0 L331.7,447.8 L333.2,447.7 L334.7,447.8 L336.2,447.6 L337.7,447.5 L339.2,447.5 L340.7,447.6 L342.2,447.3 L343.7,447.1 L345.2,447.3 L346.7,447.0 L348.2,446.9 L349.7,447.0 L351.2,446.7 L352.7,446.5 L354.2,446.7 L355.7,446.4 L357.2,446.3 L358.7,446.4 L360.2,446.0 L361.7,446.1" fill="none" stroke="#111" stroke-width="1.7" stroke-linejoin="round"/>
<rect x="49.70" y="12.50" width="71.70" height="19.70" fill="#fff" stroke="#8c8c8c" stroke-width="1"/>
<text x="60.00" y="28.10" font-family="'Liberation Sans', sans-serif" font-size="15.6" font-weight="bold" text-anchor="start">40FeHA</text>
<rect x="49.70" y="362.10" width="61.70" height="19.70" fill="#fff" stroke="#8c8c8c" stroke-width="1"/>
<text x="59.60" y="377.70" font-family="'Liberation Sans', sans-serif" font-size="15.6" font-weight="bold" text-anchor="start">0FeHA</text>
<line x1="49.70" y1="12.50" x2="49.70" y2="449.40" stroke="#1e1e1e" stroke-width="1.25"/>
<line x1="362.70" y1="12.50" x2="362.70" y2="449.40" stroke="#1e1e1e" stroke-width="1.25"/>
<rect x="49.70" y="100.20" width="70.90" height="19.70" fill="#fff" stroke="#8c8c8c" stroke-width="1"/>
<text x="60.00" y="115.80" font-family="'Liberation Sans', sans-serif" font-size="15.6" font-weight="bold" text-anchor="start">30FeHA</text>
<rect x="49.70" y="187.40" width="71.10" height="19.70" fill="#fff" stroke="#8c8c8c" stroke-width="1"/>
<text x="60.00" y="203.00" font-family="'Liberation Sans', sans-serif" font-size="15.6" font-weight="bold" text-anchor="start">20FeHA</text>
<rect x="49.70" y="274.50" width="71.10" height="19.70" fill="#fff" stroke="#8c8c8c" stroke-width="1"/>
<text x="60.00" y="290.10" font-family="'Liberation Sans', sans-serif" font-size="15.6" font-weight="bold" text-anchor="start">10FeHA</text>
<line x1="49.10" y1="12.50" x2="363.30" y2="12.50" stroke="#1e1e1e" stroke-width="1.25"/>
<line x1="49.70" y1="100.20" x2="362.70" y2="100.20" stroke="#1e1e1e" stroke-width="1.25"/>
<line x1="49.70" y1="187.40" x2="362.70" y2="187.40" stroke="#1e1e1e" stroke-width="1.25"/>
<line x1="49.70" y1="274.50" x2="362.70" y2="274.50" stroke="#1e1e1e" stroke-width="1.25"/>
<line x1="49.70" y1="362.10" x2="362.70" y2="362.10" stroke="#1e1e1e" stroke-width="1.25"/>
<line x1="49.10" y1="449.40" x2="363.30" y2="449.40" stroke="#1e1e1e" stroke-width="1.25"/>
<text x="42.10" y="17.30" font-family="'Liberation Sans', sans-serif" font-size="15.3" font-weight="bold" text-anchor="end">0.3</text>
<text x="42.10" y="42.30" font-family="'Liberation Sans', sans-serif" font-size="15.3" font-weight="bold" text-anchor="end">0.2</text>
<text x="42.10" y="67.30" font-family="'Liberation Sans', sans-serif" font-size="15.3" font-weight="bold" text-anchor="end">0.1</text>
<text x="42.10" y="92.30" font-family="'Liberation Sans', sans-serif" font-size="15.3" font-weight="bold" text-anchor="end">0.0</text>
<text x="42.10" y="105.00" font-family="'Liberation Sans', sans-serif" font-size="15.3" font-weight="bold" text-anchor="end">0.3</text>
<text x="42.10" y="130.00" font-family="'Liberation Sans', sans-serif" font-size="15.3" font-weight="bold" text-anchor="end">0.2</text>
<text x="42.10" y="155.00" font-family="'Liberation Sans', sans-serif" font-size="15.3" font-weight="bold" text-anchor="end">0.1</text>
<text x="42.10" y="180.00" font-family="'Liberation Sans', sans-serif" font-size="15.3" font-weight="bold" text-anchor="end">0.0</text>
<text x="42.10" y="192.20" font-family="'Liberation Sans', sans-serif" font-size="15.3" font-weight="bold" text-anchor="end">0.3</text>
<text x="42.10" y="217.20" font-family="'Liberation Sans', sans-serif" font-size="15.3" font-weight="bold" text-anchor="end">0.2</text>
<text x="42.10" y="242.20" font-family="'Liberation Sans', sans-serif" font-size="15.3" font-weight="bold" text-anchor="end">0.1</text>
<text x="42.10" y="267.20" font-family="'Liberation Sans', sans-serif" font-size="15.3" font-weight="bold" text-anchor="end">0.0</text>
<text x="42.10" y="279.30" font-family="'Liberation Sans', sans-serif" font-size="15.3" font-weight="bold" text-anchor="end">0.3</text>
<text x="42.10" y="304.30" font-family="'Liberation Sans', sans-serif" font-size="15.3" font-weight="bold" text-anchor="end">0.2</text>
<text x="42.10" y="329.30" font-family="'Liberation Sans', sans-serif" font-size="15.3" font-weight="bold" text-anchor="end">0.1</text>
<text x="42.10" y="354.30" font-family="'Liberation Sans', sans-serif" font-size="15.3" font-weight="bold" text-anchor="end">0.0</text>
<text x="42.10" y="366.90" font-family="'Liberation Sans', sans-serif" font-size="15.3" font-weight="bold" text-anchor="end">1.00</text>
<text x="42.10" y="388.73" font-family="'Liberation Sans', sans-serif" font-size="15.3" font-weight="bold" text-anchor="end">0.75</text>
<text x="42.10" y="410.55" font-family="'Liberation Sans', sans-serif" font-size="15.3" font-weight="bold" text-anchor="end">0.50</text>
<text x="42.10" y="432.38" font-family="'Liberation Sans', sans-serif" font-size="15.3" font-weight="bold" text-anchor="end">0.25</text>
<text x="42.10" y="454.20" font-family="'Liberation Sans', sans-serif" font-size="15.3" font-weight="bold" text-anchor="end">0.00</text>
<text x="49.70" y="468.60" font-family="'Liberation Sans', sans-serif" font-size="15.3" font-weight="bold" text-anchor="middle">650</text>
<text x="112.30" y="468.60" font-family="'Liberation Sans', sans-serif" font-size="15.3" font-weight="bold" text-anchor="middle">600</text>
<text x="174.90" y="468.60" font-family="'Liberation Sans', sans-serif" font-size="15.3" font-weight="bold" text-anchor="middle">550</text>
<text x="237.50" y="468.60" font-family="'Liberation Sans', sans-serif" font-size="15.3" font-weight="bold" text-anchor="middle">500</text>
<text x="300.10" y="468.60" font-family="'Liberation Sans', sans-serif" font-size="15.3" font-weight="bold" text-anchor="middle">450</text>
<text x="362.70" y="468.60" font-family="'Liberation Sans', sans-serif" font-size="15.3" font-weight="bold" text-anchor="middle">400</text>
<line x1="470.79" y1="7.25" x2="470.79" y2="10.75" stroke="#1e1e1e" stroke-width="1.25"/>
<line x1="470.79" y1="95.30" x2="470.79" y2="91.80" stroke="#1e1e1e" stroke-width="1.25"/>
<line x1="499.88" y1="7.25" x2="499.88" y2="13.25" stroke="#1e1e1e" stroke-width="1.25"/>
<line x1="499.88" y1="95.30" x2="499.88" y2="89.30" stroke="#1e1e1e" stroke-width="1.25"/>
<line x1="528.97" y1="7.25" x2="528.97" y2="10.75" stroke="#1e1e1e" stroke-width="1.25"/>
<line x1="528.97" y1="95.30" x2="528.97" y2="91.80" stroke="#1e1e1e" stroke-width="1.25"/>
<line x1="558.06" y1="7.25" x2="558.06" y2="13.25" stroke="#1e1e1e" stroke-width="1.25"/>
<line x1="558.06" y1="95.30" x2="558.06" y2="89.30" stroke="#1e1e1e" stroke-width="1.25"/>
<line x1="587.15" y1="7.25" x2="587.15" y2="10.75" stroke="#1e1e1e" stroke-width="1.25"/>
<line x1="587.15" y1="95.30" x2="587.15" y2="91.80" stroke="#1e1e1e" stroke-width="1.25"/>
<line x1="616.24" y1="7.25" x2="616.24" y2="13.25" stroke="#1e1e1e" stroke-width="1.25"/>
<line x1="616.24" y1="95.30" x2="616.24" y2="89.30" stroke="#1e1e1e" stroke-width="1.25"/>
<line x1="645.33" y1="7.25" x2="645.33" y2="10.75" stroke="#1e1e1e" stroke-width="1.25"/>
<line x1="645.33" y1="95.30" x2="645.33" y2="91.80" stroke="#1e1e1e" stroke-width="1.25"/>
<line x1="674.42" y1="7.25" x2="674.42" y2="13.25" stroke="#1e1e1e" stroke-width="1.25"/>
<line x1="674.42" y1="95.30" x2="674.42" y2="89.30" stroke="#1e1e1e" stroke-width="1.25"/>
<line x1="703.51" y1="7.25" x2="703.51" y2="10.75" stroke="#1e1e1e" stroke-width="1.25"/>
<line x1="703.51" y1="95.30" x2="703.51" y2="91.80" stroke="#1e1e1e" stroke-width="1.25"/>
<line x1="441.70" y1="93.61" x2="445.20" y2="93.61" stroke="#1e1e1e" stroke-width="1.25"/>
<line x1="732.60" y1="93.61" x2="729.10" y2="93.61" stroke="#1e1e1e" stroke-width="1.25"/>
<line x1="441.70" y1="81.28" x2="447.70" y2="81.28" stroke="#1e1e1e" stroke-width="1.25"/>
<line x1="732.60" y1="81.28" x2="726.60" y2="81.28" stroke="#1e1e1e" stroke-width="1.25"/>
<line x1="441.70" y1="68.94" x2="445.20" y2="68.94" stroke="#1e1e1e" stroke-width="1.25"/>
<line x1="732.60" y1="68.94" x2="729.10" y2="68.94" stroke="#1e1e1e" stroke-width="1.25"/>
<line x1="441.70" y1="56.60" x2="447.70" y2="56.60" stroke="#1e1e1e" stroke-width="1.25"/>
<line x1="732.60" y1="56.60" x2="726.60" y2="56.60" stroke="#1e1e1e" stroke-width="1.25"/>
<line x1="441.70" y1="44.26" x2="445.20" y2="44.26" stroke="#1e1e1e" stroke-width="1.25"/>
<line x1="732.60" y1="44.26" x2="729.10" y2="44.26" stroke="#1e1e1e" stroke-width="1.25"/>
<line x1="441.70" y1="31.93" x2="447.70" y2="31.93" stroke="#1e1e1e" stroke-width="1.25"/>
<line x1="732.60" y1="31.93" x2="726.60" y2="31.93" stroke="#1e1e1e" stroke-width="1.25"/>
<line x1="441.70" y1="19.59" x2="445.20" y2="19.59" stroke="#1e1e1e" stroke-width="1.25"/>
<line x1="732.60" y1="19.59" x2="729.10" y2="19.59" stroke="#1e1e1e" stroke-width="1.25"/>
<line x1="470.79" y1="183.80" x2="470.79" y2="180.30" stroke="#1e1e1e" stroke-width="1.25"/>
<line x1="499.88" y1="183.80" x2="499.88" y2="177.80" stroke="#1e1e1e" stroke-width="1.25"/>
<line x1="528.97" y1="183.80" x2="528.97" y2="180.30" stroke="#1e1e1e" stroke-width="1.25"/>
<line x1="558.06" y1="183.80" x2="558.06" y2="177.80" stroke="#1e1e1e" stroke-width="1.25"/>
<line x1="587.15" y1="183.80" x2="587.15" y2="180.30" stroke="#1e1e1e" stroke-width="1.25"/>
<line x1="616.24" y1="183.80" x2="616.24" y2="177.80" stroke="#1e1e1e" stroke-width="1.25"/>
<line x1="645.33" y1="183.80" x2="645.33" y2="180.30" stroke="#1e1e1e" stroke-width="1.25"/>
<line x1="674.42" y1="183.80" x2="674.42" y2="177.80" stroke="#1e1e1e" stroke-width="1.25"/>
<line x1="703.51" y1="183.80" x2="703.51" y2="180.30" stroke="#1e1e1e" stroke-width="1.25"/>
<line x1="441.70" y1="181.66" x2="445.20" y2="181.66" stroke="#1e1e1e" stroke-width="1.25"/>
<line x1="732.60" y1="181.66" x2="729.10" y2="181.66" stroke="#1e1e1e" stroke-width="1.25"/>
<line x1="441.70" y1="169.32" x2="447.70" y2="169.32" stroke="#1e1e1e" stroke-width="1.25"/>
<line x1="732.60" y1="169.32" x2="726.60" y2="169.32" stroke="#1e1e1e" stroke-width="1.25"/>
<line x1="441.70" y1="156.99" x2="445.20" y2="156.99" stroke="#1e1e1e" stroke-width="1.25"/>
<line x1="732.60" y1="156.99" x2="729.10" y2="156.99" stroke="#1e1e1e" stroke-width="1.25"/>
<line x1="441.70" y1="144.65" x2="447.70" y2="144.65" stroke="#1e1e1e" stroke-width="1.25"/>
<line x1="732.60" y1="144.65" x2="726.60" y2="144.65" stroke="#1e1e1e" stroke-width="1.25"/>
<line x1="441.70" y1="132.31" x2="445.20" y2="132.31" stroke="#1e1e1e" stroke-width="1.25"/>
<line x1="732.60" y1="132.31" x2="729.10" y2="132.31" stroke="#1e1e1e" stroke-width="1.25"/>
<line x1="441.70" y1="119.97" x2="447.70" y2="119.97" stroke="#1e1e1e" stroke-width="1.25"/>
<line x1="732.60" y1="119.97" x2="726.60" y2="119.97" stroke="#1e1e1e" stroke-width="1.25"/>
<line x1="441.70" y1="107.64" x2="445.20" y2="107.64" stroke="#1e1e1e" stroke-width="1.25"/>
<line x1="732.60" y1="107.64" x2="729.10" y2="107.64" stroke="#1e1e1e" stroke-width="1.25"/>
<line x1="470.79" y1="272.60" x2="470.79" y2="269.10" stroke="#1e1e1e" stroke-width="1.25"/>
<line x1="499.88" y1="272.60" x2="499.88" y2="266.60" stroke="#1e1e1e" stroke-width="1.25"/>
<line x1="528.97" y1="272.60" x2="528.97" y2="269.10" stroke="#1e1e1e" stroke-width="1.25"/>
<line x1="558.06" y1="272.60" x2="558.06" y2="266.60" stroke="#1e1e1e" stroke-width="1.25"/>
<line x1="587.15" y1="272.60" x2="587.15" y2="269.10" stroke="#1e1e1e" stroke-width="1.25"/>
<line x1="616.24" y1="272.60" x2="616.24" y2="266.60" stroke="#1e1e1e" stroke-width="1.25"/>
<line x1="645.33" y1="272.60" x2="645.33" y2="269.10" stroke="#1e1e1e" stroke-width="1.25"/>
<line x1="674.42" y1="272.60" x2="674.42" y2="266.60" stroke="#1e1e1e" stroke-width="1.25"/>
<line x1="703.51" y1="272.60" x2="703.51" y2="269.10" stroke="#1e1e1e" stroke-width="1.25"/>
<line x1="441.70" y1="270.16" x2="445.20" y2="270.16" stroke="#1e1e1e" stroke-width="1.25"/>
<line x1="732.60" y1="270.16" x2="729.10" y2="270.16" stroke="#1e1e1e" stroke-width="1.25"/>
<line x1="441.70" y1="257.83" x2="447.70" y2="257.83" stroke="#1e1e1e" stroke-width="1.25"/>
<line x1="732.60" y1="257.83" x2="726.60" y2="257.83" stroke="#1e1e1e" stroke-width="1.25"/>
<line x1="441.70" y1="245.49" x2="445.20" y2="245.49" stroke="#1e1e1e" stroke-width="1.25"/>
<line x1="732.60" y1="245.49" x2="729.10" y2="245.49" stroke="#1e1e1e" stroke-width="1.25"/>
<line x1="441.70" y1="233.15" x2="447.70" y2="233.15" stroke="#1e1e1e" stroke-width="1.25"/>
<line x1="732.60" y1="233.15" x2="726.60" y2="233.15" stroke="#1e1e1e" stroke-width="1.25"/>
<line x1="441.70" y1="220.81" x2="445.20" y2="220.81" stroke="#1e1e1e" stroke-width="1.25"/>
<line x1="732.60" y1="220.81" x2="729.10" y2="220.81" stroke="#1e1e1e" stroke-width="1.25"/>
<line x1="441.70" y1="208.48" x2="447.70" y2="208.48" stroke="#1e1e1e" stroke-width="1.25"/>
<line x1="732.60" y1="208.48" x2="726.60" y2="208.48" stroke="#1e1e1e" stroke-width="1.25"/>
<line x1="441.70" y1="196.14" x2="445.20" y2="196.14" stroke="#1e1e1e" stroke-width="1.25"/>
<line x1="732.60" y1="196.14" x2="729.10" y2="196.14" stroke="#1e1e1e" stroke-width="1.25"/>
<line x1="470.79" y1="360.70" x2="470.79" y2="357.20" stroke="#1e1e1e" stroke-width="1.25"/>
<line x1="499.88" y1="360.70" x2="499.88" y2="354.70" stroke="#1e1e1e" stroke-width="1.25"/>
<line x1="528.97" y1="360.70" x2="528.97" y2="357.20" stroke="#1e1e1e" stroke-width="1.25"/>
<line x1="558.06" y1="360.70" x2="558.06" y2="354.70" stroke="#1e1e1e" stroke-width="1.25"/>
<line x1="587.15" y1="360.70" x2="587.15" y2="357.20" stroke="#1e1e1e" stroke-width="1.25"/>
<line x1="616.24" y1="360.70" x2="616.24" y2="354.70" stroke="#1e1e1e" stroke-width="1.25"/>
<line x1="645.33" y1="360.70" x2="645.33" y2="357.20" stroke="#1e1e1e" stroke-width="1.25"/>
<line x1="674.42" y1="360.70" x2="674.42" y2="354.70" stroke="#1e1e1e" stroke-width="1.25"/>
<line x1="703.51" y1="360.70" x2="703.51" y2="357.20" stroke="#1e1e1e" stroke-width="1.25"/>
<line x1="441.70" y1="358.96" x2="445.20" y2="358.96" stroke="#1e1e1e" stroke-width="1.25"/>
<line x1="732.60" y1="358.96" x2="729.10" y2="358.96" stroke="#1e1e1e" stroke-width="1.25"/>
<line x1="441.70" y1="346.62" x2="447.70" y2="346.62" stroke="#1e1e1e" stroke-width="1.25"/>
<line x1="732.60" y1="346.62" x2="726.60" y2="346.62" stroke="#1e1e1e" stroke-width="1.25"/>
<line x1="441.70" y1="334.29" x2="445.20" y2="334.29" stroke="#1e1e1e" stroke-width="1.25"/>
<line x1="732.60" y1="334.29" x2="729.10" y2="334.29" stroke="#1e1e1e" stroke-width="1.25"/>
<line x1="441.70" y1="321.95" x2="447.70" y2="321.95" stroke="#1e1e1e" stroke-width="1.25"/>
<line x1="732.60" y1="321.95" x2="726.60" y2="321.95" stroke="#1e1e1e" stroke-width="1.25"/>
<line x1="441.70" y1="309.61" x2="445.20" y2="309.61" stroke="#1e1e1e" stroke-width="1.25"/>
<line x1="732.60" y1="309.61" x2="729.10" y2="309.61" stroke="#1e1e1e" stroke-width="1.25"/>
<line x1="441.70" y1="297.28" x2="447.70" y2="297.28" stroke="#1e1e1e" stroke-width="1.25"/>
<line x1="732.60" y1="297.28" x2="726.60" y2="297.28" stroke="#1e1e1e" stroke-width="1.25"/>
<line x1="441.70" y1="284.94" x2="445.20" y2="284.94" stroke="#1e1e1e" stroke-width="1.25"/>
<line x1="732.60" y1="284.94" x2="729.10" y2="284.94" stroke="#1e1e1e" stroke-width="1.25"/>
<line x1="470.79" y1="448.70" x2="470.79" y2="445.20" stroke="#1e1e1e" stroke-width="1.25"/>
<line x1="499.88" y1="448.70" x2="499.88" y2="442.70" stroke="#1e1e1e" stroke-width="1.25"/>
<line x1="528.97" y1="448.70" x2="528.97" y2="445.20" stroke="#1e1e1e" stroke-width="1.25"/>
<line x1="558.06" y1="448.70" x2="558.06" y2="442.70" stroke="#1e1e1e" stroke-width="1.25"/>
<line x1="587.15" y1="448.70" x2="587.15" y2="445.20" stroke="#1e1e1e" stroke-width="1.25"/>
<line x1="616.24" y1="448.70" x2="616.24" y2="442.70" stroke="#1e1e1e" stroke-width="1.25"/>
<line x1="645.33" y1="448.70" x2="645.33" y2="445.20" stroke="#1e1e1e" stroke-width="1.25"/>
<line x1="674.42" y1="448.70" x2="674.42" y2="442.70" stroke="#1e1e1e" stroke-width="1.25"/>
<line x1="703.51" y1="448.70" x2="703.51" y2="445.20" stroke="#1e1e1e" stroke-width="1.25"/>
<line x1="441.70" y1="437.70" x2="445.20" y2="437.70" stroke="#1e1e1e" stroke-width="1.25"/>
<line x1="732.60" y1="437.70" x2="729.10" y2="437.70" stroke="#1e1e1e" stroke-width="1.25"/>
<line x1="441.70" y1="426.70" x2="447.70" y2="426.70" stroke="#1e1e1e" stroke-width="1.25"/>
<line x1="732.60" y1="426.70" x2="726.60" y2="426.70" stroke="#1e1e1e" stroke-width="1.25"/>
<line x1="441.70" y1="415.70" x2="445.20" y2="415.70" stroke="#1e1e1e" stroke-width="1.25"/>
<line x1="732.60" y1="415.70" x2="729.10" y2="415.70" stroke="#1e1e1e" stroke-width="1.25"/>
<line x1="441.70" y1="404.70" x2="447.70" y2="404.70" stroke="#1e1e1e" stroke-width="1.25"/>
<line x1="732.60" y1="404.70" x2="726.60" y2="404.70" stroke="#1e1e1e" stroke-width="1.25"/>
<line x1="441.70" y1="393.70" x2="445.20" y2="393.70" stroke="#1e1e1e" stroke-width="1.25"/>
<line x1="732.60" y1="393.70" x2="729.10" y2="393.70" stroke="#1e1e1e" stroke-width="1.25"/>
<line x1="441.70" y1="382.70" x2="447.70" y2="382.70" stroke="#1e1e1e" stroke-width="1.25"/>
<line x1="732.60" y1="382.70" x2="726.60" y2="382.70" stroke="#1e1e1e" stroke-width="1.25"/>
<line x1="441.70" y1="371.70" x2="445.20" y2="371.70" stroke="#1e1e1e" stroke-width="1.25"/>
<line x1="732.60" y1="371.70" x2="729.10" y2="371.70" stroke="#1e1e1e" stroke-width="1.25"/>
<path d="M441.7,13.2 L442.0,13.2 L442.3,13.3 L442.7,13.3 L443.1,13.3 L443.5,13.4 L444.0,13.4 L444.5,13.5 L445.1,13.5 L445.6,13.6 L446.2,13.7 L446.8,13.7 L447.3,13.8 L447.9,13.8 L448.5,13.9 L449.1,13.9 L449.6,14.0 L450.2,14.0 L450.7,14.1 L451.2,14.2 L451.7,14.2 L452.2,14.3 L452.7,14.3 L453.2,14.4 L453.8,14.4 L454.3,14.5 L454.8,14.5 L455.3,14.6 L455.8,14.6 L456.3,14.7 L456.8,14.7 L457.4,14.8 L457.9,14.8 L458.4,14.9 L459.0,14.9 L459.5,15.0 L460.1,15.0 L460.6,15.0 L461.1,15.1 L461.6,15.1 L462.1,15.1 L462.6,15.2 L463.1,15.2 L463.6,15.2 L464.2,15.3 L464.7,15.3 L465.2,15.3 L465.8,15.3 L466.3,15.4 L466.8,15.4 L467.4,15.4 L467.9,15.4 L468.4,15.5 L468.9,15.5 L469.4,15.5 L469.9,15.5 L470.4,15.5 L470.9,15.5 L471.5,15.5 L472.0,15.5 L472.6,15.5 L473.1,15.5 L473.7,15.4 L474.2,15.4 L474.7,15.4 L475.3,15.3 L475.8,15.3 L476.3,15.3 L476.8,15.2 L477.3,15.2 L477.8,15.2 L478.3,15.2 L478.8,15.1 L479.3,15.1 L479.8,15.1 L480.3,15.1 L480.8,15.1 L481.4,15.1 L481.9,15.1 L482.4,15.1 L482.9,15.1 L483.4,15.1 L483.9,15.1 L484.4,15.2 L484.9,15.2 L485.4,15.2 L485.8,15.3 L486.3,15.3 L486.8,15.3 L487.3,15.4 L487.8,15.4 L488.3,15.5 L488.8,15.6 L489.3,15.7 L489.9,15.8 L490.4,15.9 L491.0,16.0 L491.5,16.1 L492.1,16.2 L492.6,16.4 L493.2,16.5 L493.7,16.6 L494.2,16.7 L494.7,16.9 L495.2,17.0 L495.6,17.1 L496.0,17.1 L496.4,17.2 L497.2,17.3 L497.8,17.4 L498.2,17.5 L498.6,17.5 L499.0,17.4 L499.7,17.3 L500.1,17.2 L500.5,17.1 L501.0,16.9 L501.4,16.8 L501.9,16.6 L502.4,16.4 L502.9,16.2 L503.4,16.1 L504.0,15.9 L504.6,15.7 L505.2,15.6 L505.8,15.5 L506.2,15.4 L506.7,15.4 L507.2,15.4 L507.7,15.3 L508.2,15.3 L508.7,15.3 L509.3,15.2 L509.8,15.2 L510.4,15.2 L510.9,15.2 L511.5,15.2 L512.0,15.2 L512.6,15.2 L513.1,15.2 L513.7,15.2 L514.2,15.2 L514.7,15.2 L515.2,15.2 L515.7,15.2 L516.2,15.2 L516.7,15.2 L517.2,15.2 L517.7,15.2 L518.2,15.2 L518.6,15.2 L519.1,15.3 L519.6,15.3 L520.1,15.3 L520.5,15.3 L521.0,15.4 L521.5,15.4 L522.1,15.4 L522.6,15.5 L523.2,15.5 L523.7,15.5 L524.1,15.6 L524.6,15.6 L525.1,15.7 L525.6,15.7 L526.1,15.8 L526.6,15.8 L527.1,15.9 L527.6,15.9 L528.1,16.0 L528.6,16.0 L529.2,16.1 L529.7,16.1 L530.2,16.2 L530.8,16.3 L531.3,16.3 L531.8,16.4 L532.4,16.4 L532.9,16.5 L533.5,16.5 L534.0,16.6 L534.5,16.7 L535.0,16.7 L535.5,16.8 L536.0,16.8 L536.5,16.9 L537.0,16.9 L537.5,17.0 L538.0,17.1 L538.5,17.1 L539.0,17.2 L539.5,17.3 L540.0,17.3 L540.5,17.4 L541.1,17.4 L541.6,17.5 L542.1,17.6 L542.6,17.6 L543.1,17.7 L543.6,17.7 L544.1,17.7 L544.7,17.8 L545.2,17.8 L545.7,17.8 L546.2,17.8 L546.7,17.8 L547.2,17.8 L547.7,17.8 L548.2,17.8 L548.7,17.8 L549.2,17.8 L549.8,17.8 L550.3,17.8 L550.8,17.8 L551.3,17.8 L551.8,17.8 L552.3,17.7 L552.8,17.7 L553.3,17.7 L553.8,17.7 L554.4,17.6 L554.9,17.6 L555.4,17.5 L555.9,17.5 L556.3,17.5 L556.8,17.4 L557.3,17.4 L557.8,17.3 L558.3,17.2 L558.9,17.2 L559.4,17.1 L559.9,17.0 L560.4,16.9 L560.9,16.8 L561.4,16.7 L561.9,16.6 L562.4,16.5 L562.9,16.4 L563.4,16.3 L563.9,16.1 L564.4,16.0 L564.9,15.9 L565.4,15.8 L565.9,15.7 L566.4,15.6 L566.9,15.4 L567.5,15.3 L568.0,15.2 L568.6,15.1 L569.1,15.0 L569.5,14.9 L570.0,14.8 L570.5,14.7 L571.0,14.6 L571.5,14.6 L572.0,14.5 L572.5,14.4 L573.0,14.3 L573.6,14.2 L574.1,14.1 L574.6,14.0 L575.1,13.9 L575.7,13.8 L576.2,13.7 L576.7,13.6 L577.3,13.5 L577.8,13.4 L578.3,13.3 L578.9,13.3 L579.4,13.2 L579.9,13.1 L580.4,13.0 L581.0,12.9 L581.5,12.9 L582.0,12.8 L582.5,12.7 L583.0,12.7 L583.5,12.6 L584.1,12.6 L584.6,12.5 L585.1,12.5 L585.6,12.4 L586.1,12.4 L586.6,12.3 L587.2,12.3 L587.7,12.2 L588.2,12.2 L588.7,12.2 L589.2,12.1 L589.7,12.1 L590.2,12.0 L590.8,12.0 L591.3,12.0 L591.8,11.9 L592.3,11.9 L592.8,11.9 L593.3,11.8 L593.9,11.8 L594.4,11.8 L594.9,11.7 L595.4,11.7 L595.9,11.7 L596.4,11.6 L597.0,11.6 L597.5,11.6 L598.0,11.5 L598.6,11.5 L599.1,11.4 L599.7,11.4 L600.2,11.4 L600.7,11.3 L601.3,11.3 L601.8,11.3 L602.3,11.2 L602.9,11.2 L603.4,11.2 L603.9,11.1 L604.5,11.1 L605.0,11.1 L605.5,11.1 L606.0,11.1 L606.5,11.0 L607.0,11.0 L607.4,11.0 L607.9,11.0 L608.4,11.0 L608.8,11.0 L609.4,11.0 L610.0,11.0 L610.6,11.0 L611.1,11.1 L611.7,11.1 L612.2,11.1 L612.7,11.2 L613.2,11.2 L613.7,11.3 L614.1,11.3 L614.6,11.4 L615.1,11.4 L615.6,11.5 L616.1,11.5 L616.6,11.6 L617.1,11.6 L617.6,11.7 L618.2,11.7 L618.7,11.7 L619.1,11.7 L619.6,11.8 L620.0,11.8 L620.5,11.8 L620.9,11.8 L621.3,11.8 L621.8,11.9 L622.2,11.9 L622.7,11.9 L623.2,11.9 L623.6,11.9 L624.1,11.9 L624.7,11.9 L625.2,11.9 L625.7,12.0 L626.3,12.0 L627.0,12.0 L627.6,12.0 L628.3,12.0 L629.0,12.0 L629.4,12.0 L629.8,12.0 L630.2,12.0 L630.6,12.0 L631.0,12.0 L631.5,12.0 L631.9,12.0 L632.4,12.0 L632.8,12.0 L633.3,12.0 L633.8,12.0 L634.2,12.0 L634.7,12.0 L635.2,12.0 L635.7,12.0 L636.2,12.0 L636.7,12.0 L637.2,12.0 L637.7,12.0 L638.3,12.0 L638.8,12.0 L639.3,12.0 L639.9,12.0 L640.4,12.0 L640.9,12.0 L641.5,12.0 L642.0,12.0 L642.6,12.0 L643.1,12.0 L643.7,12.0 L644.2,12.0 L644.8,12.0 L645.3,12.0 L645.9,12.0 L646.4,12.1 L647.0,12.1 L647.5,12.1 L648.1,12.1 L648.6,12.1 L649.2,12.1 L649.7,12.1 L650.1,12.1 L650.6,12.1 L651.1,12.1 L651.6,12.2 L652.1,12.2 L652.6,12.2 L653.1,12.2 L653.6,12.2 L654.1,12.2 L654.6,12.3 L655.1,12.3 L655.7,12.3 L656.2,12.3 L656.7,12.3 L657.2,12.3 L657.8,12.4 L658.3,12.4 L658.8,12.4 L659.4,12.4 L659.9,12.4 L660.4,12.5 L661.0,12.5 L661.5,12.5 L662.0,12.5 L662.6,12.5 L663.1,12.6 L663.6,12.6 L664.2,12.6 L664.7,12.6 L665.2,12.6 L665.7,12.7 L666.2,12.7 L666.7,12.7 L667.2,12.7 L667.7,12.7 L668.2,12.8 L668.7,12.8 L669.2,12.8 L669.7,12.8 L670.2,12.8 L670.6,12.8 L671.1,12.8 L671.6,12.9 L672.0,12.9 L672.4,12.9 L672.9,12.9 L673.3,12.9 L673.9,12.9 L674.5,12.9 L675.1,12.9 L675.7,12.9 L676.3,13.0 L676.8,13.0 L677.4,13.0 L677.9,13.0 L678.4,13.0 L678.9,13.0 L679.4,13.0 L679.9,13.0 L680.4,13.0 L680.9,13.0 L681.4,13.0 L681.8,13.0 L682.3,13.0 L682.8,13.0 L683.3,13.0 L683.7,13.0 L684.2,13.0 L684.6,13.0 L685.1,13.0 L685.6,13.0 L686.0,13.0 L686.5,13.0 L687.0,13.0 L687.4,13.0 L687.9,12.9 L688.4,12.9 L688.9,12.9 L689.4,12.9 L689.9,12.9 L690.4,12.9 L690.9,12.8 L691.3,12.8 L691.8,12.8 L692.3,12.7 L692.7,12.7 L693.2,12.7 L693.6,12.6 L694.1,12.6 L694.5,12.5 L695.0,12.5 L695.4,12.5 L695.9,12.4 L696.3,12.4 L696.8,12.3 L697.2,12.3 L697.7,12.2 L698.2,12.2 L698.7,12.2 L699.2,12.1 L699.7,12.1 L700.2,12.0 L700.7,12.0 L701.3,12.0 L701.8,11.9 L702.4,11.9 L703.0,11.9 L703.6,11.9 L704.2,11.8 L704.8,11.8 L705.5,11.8 L705.9,11.8 L706.3,11.8 L706.8,11.8 L707.3,11.8 L707.7,11.8 L708.2,11.8 L708.7,11.8 L709.2,11.8 L709.8,11.8 L710.3,11.8 L710.8,11.8 L711.4,11.8 L712.0,11.8 L712.5,11.8 L713.1,11.8 L713.7,11.8 L714.3,11.8 L714.9,11.8 L715.5,11.8 L716.1,11.8 L716.7,11.8 L717.3,11.8 L717.9,11.8 L718.5,11.9 L719.1,11.9 L719.7,11.9 L720.3,11.9 L720.8,11.9 L721.4,11.9 L722.0,11.9 L722.6,11.9 L723.2,11.9 L723.7,11.9 L724.3,12.0 L724.8,12.0 L725.4,12.0 L725.9,12.0 L726.4,12.0 L726.9,12.0 L727.4,12.0 L727.9,12.0 L728.4,12.0 L728.8,12.0 L729.3,12.0 L729.7,12.1 L730.1,12.1 L730.5,12.1 L730.9,12.1 L731.2,12.1 L731.5,12.1 L731.8,12.1 L732.1,12.1 L732.4,12.1" fill="none" stroke="#111" stroke-width="1.7" stroke-linejoin="round"/>
<path d="M441.7,113.1 L442.0,113.2 L442.4,113.3 L442.8,113.5 L443.3,113.7 L443.8,113.9 L444.3,114.1 L444.9,114.3 L445.5,114.6 L446.1,114.8 L446.7,115.1 L447.2,115.3 L447.6,115.6 L448.1,115.8 L448.6,116.1 L449.2,116.4 L449.7,116.7 L450.2,116.9 L450.7,117.2 L451.3,117.5 L451.8,117.8 L452.4,118.0 L452.9,118.3 L453.4,118.5 L453.9,118.7 L454.4,118.9 L454.9,119.1 L455.5,119.3 L456.0,119.4 L456.5,119.6 L457.0,119.8 L457.5,119.9 L458.0,120.1 L458.6,120.2 L459.1,120.3 L459.6,120.4 L460.1,120.5 L460.6,120.6 L461.1,120.6 L461.7,120.7 L462.2,120.7 L462.7,120.7 L463.2,120.7 L463.7,120.7 L464.3,120.7 L464.8,120.7 L465.3,120.7 L465.8,120.7 L466.3,120.8 L466.8,120.8 L467.3,120.9 L467.8,121.0 L468.3,121.1 L468.8,121.2 L469.3,121.3 L469.8,121.5 L470.3,121.6 L470.8,121.7 L471.3,121.8 L471.8,121.8 L472.3,121.8 L472.9,121.8 L473.4,121.7 L473.9,121.6 L474.4,121.4 L475.0,121.2 L475.5,121.0 L476.1,120.8 L476.6,120.5 L477.2,120.3 L477.8,120.0 L478.3,119.8 L478.8,119.6 L479.3,119.4 L479.8,119.3 L480.3,119.2 L480.9,119.1 L481.5,119.0 L482.0,119.0 L482.6,119.0 L483.1,119.0 L483.6,119.1 L484.1,119.2 L484.6,119.4 L485.1,119.6 L485.6,119.8 L486.1,120.1 L486.7,120.5 L487.2,120.9 L487.8,121.4 L488.3,122.0 L488.8,122.5 L489.4,123.1 L489.9,123.6 L490.5,124.1 L491.0,124.5 L491.5,124.9 L492.1,125.4 L492.6,125.8 L493.2,126.2 L493.7,126.7 L494.2,127.0 L494.8,127.4 L495.3,127.6 L495.9,127.8 L496.4,127.9 L496.9,127.9 L497.4,127.8 L497.9,127.6 L498.4,127.4 L498.9,127.1 L499.4,126.7 L500.0,126.4 L500.5,126.0 L501.1,125.6 L501.7,125.2 L502.2,124.9 L502.6,124.5 L503.1,124.1 L503.7,123.7 L504.2,123.2 L504.7,122.8 L505.3,122.3 L505.8,121.9 L506.4,121.4 L506.9,121.1 L507.5,120.7 L508.0,120.4 L508.6,120.2 L509.1,120.1 L509.6,120.1 L510.2,120.1 L510.7,120.3 L511.3,120.4 L511.8,120.7 L512.4,121.0 L512.9,121.3 L513.5,121.6 L514.0,121.9 L514.5,122.2 L515.0,122.4 L515.5,122.6 L516.0,122.7 L516.5,122.8 L517.1,122.8 L517.7,122.6 L518.2,122.3 L518.7,122.0 L519.2,121.7 L519.6,121.3 L520.2,121.0 L520.7,120.7 L521.3,120.6 L521.9,120.5 L522.3,120.5 L522.8,120.6 L523.3,120.7 L523.8,120.8 L524.3,121.0 L524.8,121.1 L525.4,121.3 L525.9,121.5 L526.5,121.7 L527.0,121.9 L527.5,122.1 L528.0,122.3 L528.5,122.5 L529.0,122.7 L529.5,122.8 L529.9,122.9 L530.5,123.0 L531.0,123.1 L531.5,123.1 L531.9,123.2 L532.3,123.2 L532.7,123.2 L533.2,123.2 L533.7,123.3 L534.3,123.4 L535.0,123.5 L535.4,123.6 L535.8,123.7 L536.3,123.9 L536.8,124.0 L537.3,124.2 L537.8,124.4 L538.3,124.5 L538.9,124.7 L539.4,124.9 L540.0,125.1 L540.6,125.3 L541.1,125.5 L541.7,125.7 L542.2,125.8 L542.7,126.0 L543.3,126.1 L543.8,126.3 L544.2,126.4 L544.7,126.4 L545.1,126.5 L545.7,126.5 L546.3,126.5 L546.9,126.5 L547.4,126.4 L547.9,126.2 L548.3,126.1 L548.8,125.9 L549.2,125.7 L549.6,125.6 L550.1,125.4 L550.6,125.3 L551.1,125.2 L551.6,125.1 L552.1,125.1 L552.7,125.1 L553.2,125.0 L553.7,125.0 L554.3,125.0 L554.8,125.0 L555.4,125.0 L555.9,125.0 L556.4,125.0 L556.9,124.9 L557.4,124.9 L557.8,124.8 L558.4,124.7 L558.9,124.6 L559.4,124.5 L559.8,124.4 L560.2,124.2 L560.7,124.0 L561.2,123.7 L561.8,123.2 L562.2,122.9 L562.7,122.4 L563.1,122.0 L563.6,121.5 L564.1,121.0 L564.6,120.4 L565.1,119.8 L565.7,119.3 L566.2,118.7 L566.8,118.1 L567.4,117.5 L568.0,117.0 L568.6,116.5 L569.1,116.1 L569.5,115.8 L570.0,115.4 L570.5,115.0 L571.0,114.7 L571.5,114.3 L572.0,113.9 L572.5,113.6 L573.1,113.2 L573.6,112.9 L574.1,112.5 L574.7,112.2 L575.2,111.9 L575.8,111.5 L576.3,111.2 L576.9,110.9 L577.4,110.7 L578.0,110.4 L578.5,110.2 L579.0,110.0 L579.5,109.8 L580.0,109.6 L580.5,109.4 L581.0,109.2 L581.6,109.1 L582.1,108.9 L582.6,108.7 L583.2,108.6 L583.7,108.5 L584.2,108.3 L584.8,108.2 L585.3,108.1 L585.8,107.9 L586.3,107.8 L586.8,107.7 L587.3,107.6 L587.8,107.5 L588.2,107.4 L588.7,107.3 L589.3,107.2 L589.8,107.1 L590.4,107.0 L590.9,107.0 L591.4,106.9 L591.9,106.9 L592.4,106.8 L592.9,106.8 L593.3,106.8 L593.8,106.7 L594.3,106.7 L594.8,106.7 L595.2,106.6 L595.7,106.6 L596.2,106.5 L596.7,106.4 L597.2,106.3 L597.7,106.2 L598.3,106.0 L598.8,105.9 L599.3,105.7 L599.8,105.6 L600.4,105.4 L600.9,105.2 L601.4,105.1 L602.0,104.9 L602.5,104.7 L603.0,104.6 L603.4,104.4 L603.9,104.3 L604.4,104.2 L604.8,104.1 L605.4,104.0 L605.9,103.9 L606.4,103.8 L606.8,103.7 L607.3,103.7 L607.7,103.7 L608.2,103.7 L608.7,103.7 L609.4,103.7 L610.2,103.7 L610.6,103.7 L611.0,103.7 L611.4,103.8 L611.9,103.8 L612.3,103.8 L612.8,103.9 L613.3,103.9 L613.9,103.9 L614.4,104.0 L614.9,104.0 L615.5,104.1 L616.1,104.1 L616.6,104.2 L617.2,104.2 L617.7,104.3 L618.3,104.3 L618.8,104.4 L619.3,104.4 L619.9,104.5 L620.4,104.5 L620.9,104.6 L621.3,104.6 L621.8,104.7 L622.2,104.7 L622.8,104.7 L623.4,104.8 L623.9,104.8 L624.4,104.8 L624.9,104.8 L625.4,104.8 L625.8,104.8 L626.2,104.9 L626.7,104.9 L627.1,104.9 L627.6,105.0 L628.2,105.0 L628.7,105.1 L629.3,105.2 L630.0,105.3 L630.4,105.4 L630.8,105.5 L631.3,105.6 L631.7,105.7 L632.2,105.8 L632.7,105.9 L633.2,106.1 L633.7,106.2 L634.2,106.3 L634.7,106.5 L635.2,106.6 L635.8,106.8 L636.3,106.9 L636.8,107.1 L637.4,107.2 L637.9,107.4 L638.5,107.5 L639.0,107.7 L639.6,107.8 L640.1,107.9 L640.7,108.1 L641.2,108.2 L641.7,108.3 L642.3,108.4 L642.8,108.5 L643.3,108.6 L643.8,108.7 L644.3,108.7 L644.8,108.8 L645.4,108.9 L645.9,108.9 L646.4,108.9 L646.9,109.0 L647.4,109.0 L648.0,109.0 L648.5,109.1 L649.0,109.1 L649.5,109.1 L650.0,109.1 L650.6,109.1 L651.1,109.2 L651.6,109.2 L652.1,109.2 L652.6,109.2 L653.1,109.2 L653.6,109.3 L654.1,109.3 L654.6,109.3 L655.1,109.4 L655.6,109.4 L656.1,109.4 L656.6,109.5 L657.1,109.6 L657.7,109.6 L658.2,109.7 L658.6,109.8 L659.1,109.9 L659.6,109.9 L660.1,110.0 L660.5,110.1 L661.0,110.2 L661.4,110.3 L661.9,110.4 L662.4,110.5 L662.8,110.5 L663.3,110.6 L663.8,110.7 L664.3,110.8 L664.8,110.9 L665.4,111.0 L665.9,111.1 L666.5,111.2 L667.1,111.3 L667.7,111.4 L668.4,111.5 L668.8,111.6 L669.2,111.6 L669.7,111.7 L670.1,111.8 L670.6,111.8 L671.1,111.9 L671.5,112.0 L672.0,112.0 L672.5,112.1 L673.0,112.2 L673.6,112.3 L674.1,112.4 L674.6,112.4 L675.1,112.5 L675.7,112.6 L676.2,112.7 L676.7,112.7 L677.3,112.8 L677.8,112.9 L678.4,113.0 L678.9,113.1 L679.5,113.1 L680.0,113.2 L680.5,113.3 L681.1,113.3 L681.6,113.4 L682.2,113.5 L682.7,113.5 L683.2,113.6 L683.7,113.6 L684.2,113.7 L684.7,113.7 L685.2,113.8 L685.7,113.8 L686.2,113.8 L686.7,113.9 L687.1,113.9 L687.6,113.9 L688.2,113.9 L688.7,113.9 L689.3,113.9 L689.8,113.9 L690.3,113.9 L690.9,113.9 L691.4,113.8 L691.9,113.8 L692.3,113.8 L692.8,113.7 L693.3,113.7 L693.8,113.6 L694.2,113.6 L694.7,113.5 L695.2,113.4 L695.7,113.4 L696.1,113.3 L696.6,113.3 L697.1,113.2 L697.6,113.1 L698.0,113.1 L698.5,113.0 L699.0,113.0 L699.6,112.9 L700.1,112.8 L700.6,112.8 L701.2,112.8 L701.7,112.7 L702.3,112.7 L702.8,112.7 L703.2,112.7 L703.7,112.6 L704.2,112.6 L704.7,112.6 L705.2,112.6 L705.7,112.6 L706.2,112.5 L706.7,112.5 L707.2,112.5 L707.8,112.5 L708.3,112.5 L708.9,112.5 L709.4,112.4 L709.9,112.4 L710.5,112.4 L711.0,112.4 L711.6,112.4 L712.1,112.4 L712.7,112.4 L713.2,112.4 L713.8,112.4 L714.3,112.3 L714.8,112.3 L715.4,112.3 L715.9,112.3 L716.4,112.3 L716.9,112.3 L717.4,112.3 L717.9,112.3 L718.4,112.3 L718.9,112.3 L719.4,112.3 L719.8,112.4 L720.2,112.4 L720.7,112.4 L721.1,112.4 L721.5,112.4 L722.2,112.4 L722.9,112.5 L723.6,112.5 L724.3,112.6 L724.9,112.7 L725.5,112.7 L726.2,112.8 L726.7,112.9 L727.3,113.0 L727.9,113.1 L728.4,113.2 L728.9,113.3 L729.4,113.4 L729.9,113.4 L730.3,113.5 L730.7,113.6 L731.1,113.7 L731.5,113.7 L731.8,113.8 L732.1,113.9 L732.4,113.9" fill="none" stroke="#111" stroke-width="1.7" stroke-linejoin="round"/>
<path d="M441.7,193.5 L442.0,193.5 L442.4,193.6 L442.8,193.6 L443.3,193.7 L443.8,193.8 L444.3,193.8 L444.9,193.9 L445.5,194.0 L446.1,194.1 L446.8,194.2 L447.4,194.3 L448.1,194.4 L448.5,194.5 L449.0,194.6 L449.4,194.6 L449.9,194.7 L450.3,194.8 L450.8,194.9 L451.3,195.0 L451.7,195.1 L452.2,195.2 L452.7,195.4 L453.2,195.5 L453.8,195.6 L454.3,195.7 L454.9,195.8 L455.5,195.9 L456.1,196.0 L456.7,196.1 L457.4,196.2 L457.8,196.3 L458.3,196.3 L458.7,196.4 L459.2,196.5 L459.7,196.5 L460.2,196.6 L460.7,196.7 L461.3,196.8 L461.8,196.8 L462.4,196.9 L462.9,197.0 L463.5,197.1 L464.0,197.2 L464.6,197.2 L465.2,197.3 L465.7,197.4 L466.3,197.4 L466.8,197.5 L467.4,197.6 L467.9,197.6 L468.5,197.7 L469.0,197.8 L469.5,197.8 L470.0,197.8 L470.5,197.9 L470.9,197.9 L471.4,198.0 L471.8,198.0 L472.2,198.0 L472.9,198.0 L473.5,198.0 L474.2,198.0 L474.7,197.9 L475.3,197.9 L475.8,197.8 L476.3,197.7 L476.8,197.6 L477.2,197.5 L477.7,197.4 L478.1,197.4 L478.5,197.3 L479.0,197.2 L479.4,197.2 L479.8,197.1 L480.3,197.1 L480.9,197.1 L481.4,197.1 L481.9,197.1 L482.4,197.1 L482.9,197.2 L483.3,197.2 L483.8,197.3 L484.3,197.3 L484.8,197.4 L485.3,197.5 L485.8,197.6 L486.4,197.7 L487.0,197.8 L487.5,197.9 L487.9,198.0 L488.5,198.1 L489.0,198.3 L489.5,198.4 L490.1,198.6 L490.6,198.8 L491.2,198.9 L491.8,199.1 L492.4,199.3 L492.9,199.4 L493.5,199.6 L494.0,199.7 L494.5,199.9 L495.0,200.0 L495.5,200.1 L496.0,200.2 L496.4,200.2 L497.1,200.2 L497.7,200.2 L498.2,200.2 L498.7,200.1 L499.2,199.9 L499.6,199.8 L500.1,199.6 L500.6,199.5 L501.1,199.3 L501.7,199.1 L502.2,199.0 L502.7,198.8 L503.2,198.6 L503.7,198.4 L504.2,198.2 L504.8,198.0 L505.3,197.8 L505.9,197.5 L506.4,197.3 L507.0,197.2 L507.5,197.0 L508.1,196.9 L508.6,196.8 L509.1,196.7 L509.6,196.7 L510.2,196.7 L510.7,196.8 L511.2,196.9 L511.7,197.1 L512.2,197.2 L512.7,197.4 L513.2,197.6 L513.7,197.7 L514.2,197.9 L514.7,198.0 L515.3,198.0 L515.8,198.0 L516.3,197.9 L516.8,197.8 L517.3,197.7 L517.8,197.6 L518.4,197.4 L518.9,197.2 L519.4,197.0 L519.9,196.7 L520.5,196.5 L521.0,196.4 L521.6,196.2 L522.1,196.1 L522.6,196.0 L523.2,195.9 L523.7,195.9 L524.2,195.9 L524.7,195.9 L525.2,195.9 L525.7,196.0 L526.2,196.0 L526.7,196.1 L527.2,196.2 L527.7,196.3 L528.2,196.4 L528.7,196.5 L529.2,196.6 L529.7,196.7 L530.3,196.9 L530.8,197.0 L531.3,197.1 L531.8,197.2 L532.3,197.4 L532.8,197.5 L533.3,197.7 L533.9,197.8 L534.4,198.0 L534.9,198.2 L535.4,198.4 L536.0,198.5 L536.5,198.7 L537.0,198.9 L537.5,199.1 L538.1,199.2 L538.6,199.4 L539.0,199.5 L539.5,199.7 L540.0,199.8 L540.6,199.9 L541.1,200.1 L541.7,200.2 L542.2,200.3 L542.7,200.5 L543.2,200.6 L543.8,200.7 L544.3,200.8 L544.8,200.9 L545.2,200.9 L545.7,201.0 L546.2,201.0 L546.7,201.1 L547.1,201.1 L547.7,201.1 L548.3,201.0 L548.8,200.9 L549.3,200.8 L549.8,200.7 L550.3,200.5 L550.8,200.4 L551.3,200.3 L551.8,200.2 L552.4,200.2 L552.9,200.2 L553.3,200.3 L553.8,200.4 L554.3,200.5 L554.8,200.6 L555.3,200.7 L555.8,200.8 L556.3,200.9 L556.9,201.0 L557.4,201.1 L558.0,201.1 L558.6,201.1 L559.2,201.1 L559.7,201.0 L560.1,201.0 L560.6,200.9 L561.1,200.8 L561.6,200.7 L562.1,200.5 L562.6,200.4 L563.1,200.3 L563.7,200.1 L564.2,199.9 L564.7,199.8 L565.3,199.6 L565.8,199.4 L566.4,199.2 L566.9,199.0 L567.5,198.8 L568.0,198.6 L568.6,198.4 L569.1,198.2 L569.6,198.0 L570.0,197.8 L570.5,197.6 L571.0,197.4 L571.5,197.2 L572.0,196.9 L572.5,196.7 L573.0,196.4 L573.5,196.2 L574.0,195.9 L574.5,195.7 L575.1,195.4 L575.6,195.2 L576.1,195.0 L576.6,194.7 L577.2,194.5 L577.7,194.3 L578.2,194.1 L578.8,193.9 L579.3,193.7 L579.8,193.5 L580.3,193.4 L580.7,193.2 L581.2,193.1 L581.7,193.0 L582.2,192.8 L582.7,192.7 L583.2,192.5 L583.7,192.4 L584.2,192.3 L584.7,192.2 L585.2,192.0 L585.7,191.9 L586.2,191.8 L586.7,191.7 L587.2,191.6 L587.7,191.5 L588.3,191.4 L588.8,191.3 L589.3,191.2 L589.8,191.1 L590.3,191.0 L590.9,190.9 L591.4,190.8 L591.9,190.7 L592.4,190.6 L592.9,190.6 L593.4,190.5 L593.9,190.4 L594.3,190.3 L594.8,190.2 L595.3,190.2 L595.8,190.1 L596.3,190.0 L596.8,189.9 L597.3,189.9 L597.8,189.8 L598.4,189.8 L598.9,189.7 L599.4,189.6 L599.9,189.6 L600.4,189.5 L601.0,189.5 L601.5,189.5 L602.0,189.4 L602.6,189.4 L603.1,189.4 L603.7,189.3 L604.2,189.3 L604.8,189.3 L605.3,189.3 L605.7,189.3 L606.2,189.3 L606.7,189.3 L607.2,189.3 L607.7,189.3 L608.2,189.3 L608.7,189.4 L609.2,189.4 L609.7,189.4 L610.2,189.5 L610.7,189.5 L611.2,189.5 L611.8,189.6 L612.3,189.6 L612.8,189.6 L613.3,189.7 L613.8,189.7 L614.4,189.7 L614.9,189.8 L615.4,189.8 L615.9,189.9 L616.4,189.9 L617.0,189.9 L617.5,190.0 L618.0,190.0 L618.5,190.0 L619.0,190.0 L619.5,190.1 L619.9,190.1 L620.4,190.1 L620.9,190.1 L621.4,190.1 L622.0,190.1 L622.5,190.1 L623.0,190.1 L623.6,190.1 L624.1,190.1 L624.6,190.1 L625.1,190.1 L625.6,190.0 L626.1,190.0 L626.6,190.0 L627.2,190.0 L627.7,190.0 L628.2,190.0 L628.7,189.9 L629.2,189.9 L629.7,189.9 L630.1,189.9 L630.6,189.8 L631.1,189.8 L631.6,189.8 L632.1,189.8 L632.6,189.8 L633.1,189.8 L633.6,189.7 L634.0,189.7 L634.5,189.7 L635.0,189.7 L635.5,189.7 L636.0,189.7 L636.5,189.7 L637.0,189.7 L637.5,189.6 L638.0,189.6 L638.4,189.6 L638.9,189.6 L639.3,189.6 L639.8,189.6 L640.3,189.6 L640.7,189.6 L641.2,189.6 L641.6,189.5 L642.1,189.5 L642.6,189.5 L643.1,189.5 L643.6,189.5 L644.1,189.5 L644.7,189.5 L645.2,189.5 L645.8,189.6 L646.4,189.6 L647.0,189.6 L647.7,189.6 L648.1,189.6 L648.5,189.6 L649.0,189.6 L649.4,189.7 L649.8,189.7 L650.3,189.7 L650.8,189.7 L651.2,189.8 L651.7,189.8 L652.2,189.8 L652.7,189.9 L653.2,189.9 L653.7,189.9 L654.2,190.0 L654.7,190.0 L655.2,190.0 L655.7,190.1 L656.2,190.1 L656.8,190.1 L657.3,190.2 L657.8,190.2 L658.3,190.2 L658.9,190.3 L659.4,190.3 L660.0,190.4 L660.5,190.4 L661.0,190.4 L661.6,190.5 L662.1,190.5 L662.6,190.5 L663.2,190.5 L663.7,190.6 L664.2,190.6 L664.8,190.6 L665.3,190.6 L665.8,190.6 L666.3,190.7 L666.9,190.7 L667.4,190.7 L667.9,190.7 L668.4,190.7 L668.9,190.7 L669.4,190.7 L669.9,190.7 L670.4,190.7 L670.9,190.7 L671.4,190.7 L671.9,190.7 L672.4,190.7 L672.9,190.6 L673.4,190.6 L673.9,190.6 L674.4,190.6 L674.9,190.6 L675.4,190.5 L675.9,190.5 L676.4,190.5 L676.9,190.5 L677.4,190.5 L677.9,190.4 L678.4,190.4 L678.9,190.4 L679.4,190.3 L679.9,190.3 L680.4,190.3 L680.9,190.3 L681.4,190.2 L681.9,190.2 L682.4,190.2 L682.9,190.2 L683.4,190.1 L684.0,190.1 L684.5,190.1 L685.0,190.1 L685.5,190.0 L686.0,190.0 L686.5,190.0 L687.0,190.0 L687.5,189.9 L688.1,189.9 L688.6,189.9 L689.1,189.9 L689.6,189.9 L690.1,189.9 L690.6,189.9 L691.1,189.8 L691.6,189.8 L692.0,189.8 L692.5,189.8 L693.0,189.8 L693.5,189.8 L694.0,189.8 L694.5,189.8 L695.1,189.7 L695.6,189.7 L696.1,189.7 L696.6,189.7 L697.1,189.7 L697.6,189.7 L698.1,189.7 L698.6,189.7 L699.1,189.7 L699.6,189.6 L700.1,189.6 L700.6,189.6 L701.1,189.6 L701.6,189.6 L702.2,189.6 L702.7,189.6 L703.2,189.6 L703.7,189.6 L704.2,189.6 L704.7,189.6 L705.2,189.6 L705.7,189.6 L706.2,189.6 L706.7,189.6 L707.2,189.6 L707.7,189.6 L708.2,189.6 L708.7,189.6 L709.2,189.6 L709.7,189.6 L710.2,189.6 L710.7,189.6 L711.2,189.6 L711.7,189.6 L712.3,189.6 L712.8,189.6 L713.3,189.7 L713.9,189.7 L714.5,189.7 L715.0,189.7 L715.6,189.7 L716.2,189.8 L716.8,189.8 L717.4,189.8 L717.9,189.8 L718.5,189.9 L719.1,189.9 L719.7,189.9 L720.3,190.0 L720.9,190.0 L721.5,190.0 L722.0,190.1 L722.6,190.1 L723.2,190.1 L723.7,190.2 L724.3,190.2 L724.8,190.2 L725.4,190.3 L725.9,190.3 L726.4,190.3 L726.9,190.4 L727.4,190.4 L727.9,190.4 L728.4,190.5 L728.8,190.5 L729.3,190.5 L729.7,190.5 L730.1,190.6 L730.5,190.6 L730.9,190.6 L731.2,190.6 L731.5,190.7 L731.8,190.7 L732.1,190.7 L732.4,190.7" fill="none" stroke="#111" stroke-width="1.7" stroke-linejoin="round"/>
<path d="M441.7,297.4 L442.0,297.5 L442.4,297.7 L442.8,297.8 L443.3,298.0 L443.8,298.2 L444.3,298.4 L444.9,298.7 L445.5,298.9 L446.1,299.2 L446.7,299.5 L447.2,299.7 L447.6,300.0 L448.1,300.3 L448.6,300.6 L449.1,300.9 L449.6,301.2 L450.1,301.6 L450.6,301.9 L451.2,302.2 L451.7,302.6 L452.3,302.9 L452.8,303.2 L453.4,303.5 L453.9,303.7 L454.3,304.0 L454.8,304.2 L455.2,304.5 L455.7,304.7 L456.2,305.0 L456.6,305.2 L457.1,305.5 L457.6,305.7 L458.1,305.9 L458.6,306.1 L459.2,306.4 L459.7,306.6 L460.3,306.8 L460.9,306.9 L461.5,307.1 L461.9,307.2 L462.4,307.3 L462.9,307.4 L463.3,307.5 L463.9,307.6 L464.4,307.7 L464.9,307.7 L465.4,307.8 L466.0,307.9 L466.5,308.0 L467.1,308.0 L467.6,308.1 L468.2,308.2 L468.7,308.2 L469.3,308.3 L469.8,308.3 L470.3,308.4 L470.9,308.4 L471.4,308.4 L471.8,308.5 L472.3,308.5 L472.8,308.5 L473.2,308.6 L473.6,308.6 L474.3,308.6 L474.9,308.6 L475.5,308.6 L476.1,308.6 L476.6,308.5 L477.1,308.4 L477.6,308.4 L478.1,308.3 L478.5,308.3 L479.0,308.2 L479.4,308.2 L479.8,308.2 L480.3,308.2 L480.9,308.2 L481.4,308.3 L482.0,308.4 L482.5,308.4 L483.0,308.5 L483.5,308.7 L484.0,308.8 L484.6,309.0 L485.1,309.2 L485.6,309.5 L486.1,309.8 L486.7,310.2 L487.2,310.7 L487.7,311.1 L488.2,311.6 L488.8,312.1 L489.3,312.7 L489.9,313.2 L490.4,313.7 L491.0,314.2 L491.5,314.6 L492.0,315.1 L492.6,315.6 L493.1,316.1 L493.7,316.7 L494.3,317.2 L494.8,317.7 L495.4,318.1 L495.9,318.5 L496.4,318.8 L496.9,319.1 L497.4,319.2 L498.0,319.2 L498.6,319.1 L499.2,318.8 L499.7,318.3 L500.2,317.8 L500.7,317.3 L501.2,316.7 L501.7,316.2 L502.2,315.6 L502.7,315.0 L503.3,314.3 L503.8,313.5 L504.3,312.8 L504.8,312.1 L505.3,311.5 L505.8,310.9 L506.3,310.4 L506.8,309.9 L507.2,309.4 L507.7,309.0 L508.2,308.6 L508.7,308.3 L509.2,308.0 L509.8,307.9 L510.3,307.9 L510.8,307.9 L511.3,308.1 L511.9,308.2 L512.4,308.5 L513.0,308.7 L513.5,308.9 L514.1,309.1 L514.7,309.2 L515.2,309.3 L515.7,309.3 L516.3,309.2 L516.8,309.1 L517.4,309.0 L517.9,308.9 L518.5,308.8 L519.0,308.7 L519.5,308.6 L520.0,308.6 L520.5,308.6 L521.1,308.7 L521.6,308.9 L522.1,309.2 L522.6,309.5 L523.0,309.8 L523.5,310.1 L524.0,310.5 L524.6,310.9 L525.1,311.2 L525.6,311.6 L526.1,312.1 L526.6,312.5 L527.2,313.0 L527.7,313.4 L528.3,313.9 L528.8,314.3 L529.4,314.6 L529.9,314.9 L530.4,315.1 L530.9,315.3 L531.3,315.4 L531.7,315.5 L532.2,315.6 L532.7,315.6 L533.2,315.7 L533.7,315.7 L534.3,315.7 L535.0,315.8 L535.4,315.8 L535.9,315.9 L536.3,316.0 L536.8,316.0 L537.3,316.1 L537.9,316.1 L538.4,316.2 L539.0,316.3 L539.5,316.3 L540.1,316.4 L540.6,316.4 L541.2,316.4 L541.8,316.5 L542.3,316.4 L542.9,316.4 L543.4,316.4 L543.9,316.3 L544.4,316.2 L544.9,316.0 L545.5,315.8 L546.0,315.6 L546.5,315.3 L547.0,315.0 L547.6,314.7 L548.1,314.4 L548.6,314.0 L549.1,313.7 L549.5,313.3 L550.0,313.0 L550.5,312.7 L551.0,312.4 L551.5,312.2 L551.9,312.0 L552.4,311.8 L553.0,311.7 L553.5,311.6 L554.0,311.6 L554.5,311.6 L555.0,311.6 L555.5,311.7 L556.1,311.8 L556.6,311.8 L557.1,311.9 L557.6,311.9 L558.1,311.9 L558.6,311.9 L559.2,311.8 L559.7,311.7 L560.1,311.6 L560.6,311.4 L561.1,311.3 L561.6,311.1 L562.1,311.0 L562.6,310.8 L563.1,310.6 L563.6,310.4 L564.1,310.2 L564.7,309.9 L565.2,309.7 L565.7,309.4 L566.2,309.1 L566.7,308.8 L567.2,308.5 L567.7,308.2 L568.2,307.8 L568.7,307.4 L569.3,307.0 L569.8,306.5 L570.3,306.1 L570.8,305.6 L571.3,305.1 L571.8,304.6 L572.4,304.1 L572.9,303.7 L573.4,303.2 L573.9,302.7 L574.4,302.3 L574.8,301.9 L575.3,301.5 L575.9,301.0 L576.4,300.6 L576.9,300.2 L577.3,299.8 L577.8,299.4 L578.3,299.0 L578.7,298.6 L579.2,298.2 L579.7,297.9 L580.2,297.5 L580.8,297.2 L581.4,296.8 L582.0,296.5 L582.4,296.3 L582.9,296.1 L583.3,295.9 L583.7,295.7 L584.2,295.5 L584.7,295.3 L585.2,295.1 L585.7,294.9 L586.2,294.7 L586.7,294.6 L587.2,294.4 L587.7,294.2 L588.2,294.0 L588.8,293.9 L589.3,293.7 L589.9,293.6 L590.4,293.4 L591.0,293.2 L591.6,293.1 L592.1,292.9 L592.7,292.8 L593.2,292.7 L593.7,292.6 L594.1,292.5 L594.7,292.4 L595.2,292.2 L595.7,292.1 L596.2,292.0 L596.8,291.9 L597.3,291.8 L597.8,291.7 L598.4,291.6 L598.9,291.6 L599.5,291.5 L600.0,291.4 L600.6,291.3 L601.1,291.2 L601.7,291.1 L602.2,291.0 L602.7,291.0 L603.2,290.9 L603.7,290.8 L604.2,290.8 L604.7,290.7 L605.2,290.6 L605.7,290.6 L606.1,290.5 L606.7,290.4 L607.3,290.3 L607.8,290.3 L608.3,290.2 L608.7,290.2 L609.2,290.1 L609.6,290.1 L610.0,290.0 L610.4,290.0 L610.8,290.0 L611.3,289.9 L611.8,289.9 L612.3,289.9 L612.8,289.9 L613.4,289.9 L614.0,289.8 L614.7,289.8 L615.5,289.8 L615.9,289.8 L616.3,289.8 L616.7,289.8 L617.1,289.8 L617.5,289.8 L617.9,289.8 L618.4,289.8 L618.8,289.8 L619.3,289.7 L619.7,289.7 L620.2,289.7 L620.7,289.7 L621.2,289.7 L621.7,289.7 L622.2,289.7 L622.7,289.7 L623.2,289.7 L623.7,289.7 L624.2,289.7 L624.8,289.7 L625.3,289.7 L625.8,289.7 L626.3,289.8 L626.9,289.8 L627.4,289.8 L628.0,289.8 L628.5,289.8 L629.1,289.8 L629.6,289.8 L630.1,289.8 L630.7,289.8 L631.2,289.8 L631.8,289.8 L632.3,289.8 L632.9,289.8 L633.4,289.8 L633.9,289.8 L634.5,289.8 L635.0,289.8 L635.5,289.8 L636.0,289.8 L636.5,289.8 L637.0,289.8 L637.5,289.8 L638.0,289.8 L638.5,289.8 L639.1,289.8 L639.6,289.8 L640.1,289.8 L640.7,289.8 L641.2,289.8 L641.8,289.8 L642.3,289.8 L642.9,289.8 L643.4,289.8 L644.0,289.8 L644.5,289.8 L645.1,289.8 L645.6,289.8 L646.2,289.8 L646.7,289.8 L647.3,289.8 L647.8,289.9 L648.4,289.9 L648.9,289.9 L649.4,289.9 L649.9,289.9 L650.4,289.9 L650.9,289.9 L651.4,289.9 L651.9,289.9 L652.4,289.9 L652.9,289.9 L653.3,289.9 L653.8,289.9 L654.2,289.9 L654.7,289.9 L655.1,290.0 L655.5,290.0 L655.9,290.0 L656.2,290.0 L656.6,290.0 L657.4,290.0 L658.1,290.1 L658.7,290.1 L659.2,290.2 L659.6,290.2 L660.0,290.3 L660.3,290.3 L660.6,290.4 L660.9,290.4 L661.3,290.5 L661.6,290.6 L662.0,290.6 L662.5,290.7 L663.0,290.7 L663.7,290.8 L664.5,290.8 L665.4,290.9 L665.7,290.9 L666.1,290.9 L666.5,291.0 L666.9,291.0 L667.3,291.0 L667.7,291.0 L668.1,291.0 L668.6,291.1 L669.0,291.1 L669.5,291.1 L669.9,291.1 L670.4,291.1 L670.9,291.2 L671.4,291.2 L671.9,291.2 L672.4,291.2 L673.0,291.3 L673.5,291.3 L674.0,291.3 L674.5,291.3 L675.1,291.3 L675.6,291.4 L676.2,291.4 L676.7,291.4 L677.3,291.4 L677.9,291.5 L678.4,291.5 L679.0,291.5 L679.5,291.5 L680.1,291.5 L680.7,291.6 L681.2,291.6 L681.8,291.6 L682.3,291.6 L682.9,291.6 L683.4,291.6 L684.0,291.7 L684.5,291.7 L685.1,291.7 L685.6,291.7 L686.1,291.7 L686.6,291.7 L687.2,291.7 L687.7,291.8 L688.2,291.8 L688.6,291.8 L689.1,291.8 L689.6,291.8 L690.1,291.8 L690.5,291.8 L691.1,291.8 L691.7,291.8 L692.2,291.8 L692.8,291.8 L693.4,291.8 L693.9,291.8 L694.5,291.8 L695.0,291.8 L695.5,291.8 L696.1,291.8 L696.6,291.8 L697.1,291.8 L697.7,291.7 L698.2,291.7 L698.7,291.7 L699.2,291.7 L699.7,291.7 L700.2,291.7 L700.7,291.7 L701.2,291.6 L701.7,291.6 L702.2,291.6 L702.7,291.6 L703.2,291.6 L703.7,291.6 L704.2,291.5 L704.6,291.5 L705.1,291.5 L705.6,291.5 L706.0,291.5 L706.5,291.5 L707.0,291.5 L707.4,291.4 L707.9,291.4 L708.3,291.4 L708.8,291.4 L709.3,291.4 L709.7,291.4 L710.3,291.4 L710.9,291.4 L711.4,291.4 L712.0,291.4 L712.6,291.4 L713.2,291.4 L713.7,291.4 L714.3,291.4 L714.8,291.3 L715.4,291.3 L715.9,291.3 L716.5,291.3 L717.0,291.3 L717.5,291.3 L718.1,291.3 L718.6,291.3 L719.1,291.3 L719.6,291.3 L720.1,291.3 L720.6,291.3 L721.0,291.3 L721.5,291.3 L722.0,291.3 L722.4,291.4 L722.8,291.4 L723.3,291.4 L723.7,291.4 L724.1,291.4 L724.5,291.4 L725.2,291.4 L726.0,291.5 L726.6,291.5 L727.3,291.6 L727.9,291.6 L728.5,291.7 L729.1,291.7 L729.6,291.8 L730.1,291.8 L730.6,291.9 L731.0,291.9 L731.4,292.0 L731.8,292.0 L732.1,292.1 L732.4,292.1" fill="none" stroke="#111" stroke-width="1.7" stroke-linejoin="round"/>
<path d="M442.0,379.4 L442.3,379.6 L442.7,379.9 L443.1,380.2 L443.7,380.5 L444.2,380.9 L444.8,381.3 L445.4,381.8 L446.1,382.3 L446.7,382.8 L447.1,383.2 L447.6,383.7 L448.1,384.2 L448.6,384.7 L449.1,385.2 L449.6,385.8 L450.1,386.4 L450.6,386.9 L451.2,387.5 L451.7,388.0 L452.3,388.5 L452.8,389.0 L453.4,389.5 L453.9,389.9 L454.4,390.2 L454.9,390.6 L455.4,391.0 L455.9,391.4 L456.4,391.7 L456.9,392.1 L457.4,392.4 L458.0,392.8 L458.5,393.1 L459.0,393.3 L459.5,393.6 L460.0,393.8 L460.5,394.0 L461.0,394.1 L461.5,394.2 L462.1,394.2 L462.6,394.2 L463.1,394.1 L463.6,394.0 L464.1,393.8 L464.5,393.6 L465.0,393.4 L465.5,393.1 L466.0,392.8 L466.5,392.5 L467.0,392.1 L467.6,391.8 L468.2,391.5 L468.7,391.3 L469.1,391.0 L469.6,390.7 L470.2,390.3 L470.7,390.0 L471.2,389.6 L471.8,389.3 L472.3,388.9 L472.9,388.5 L473.5,388.1 L474.0,387.8 L474.6,387.5 L475.1,387.1 L475.6,386.9 L476.2,386.6 L476.7,386.4 L477.1,386.2 L477.6,386.1 L478.2,386.0 L478.8,385.9 L479.3,385.9 L479.9,386.0 L480.4,386.0 L480.9,386.1 L481.4,386.3 L481.8,386.5 L482.3,386.7 L482.8,387.0 L483.3,387.3 L483.8,387.7 L484.3,388.1 L484.8,388.5 L485.3,389.1 L485.9,389.6 L486.4,390.3 L486.9,390.9 L487.4,391.6 L487.9,392.4 L488.4,393.1 L489.0,393.9 L489.5,394.6 L490.0,395.4 L490.5,396.1 L491.0,396.8 L491.6,397.6 L492.1,398.5 L492.7,399.4 L493.2,400.4 L493.8,401.4 L494.3,402.4 L494.9,403.3 L495.4,404.1 L496.0,404.9 L496.5,405.5 L496.9,405.9 L497.4,406.2 L498.0,406.3 L498.6,406.0 L499.2,405.5 L499.7,404.8 L500.2,403.9 L500.7,403.0 L501.2,401.9 L501.7,400.9 L502.2,399.8 L502.7,398.4 L503.2,397.0 L503.6,395.4 L504.1,393.9 L504.6,392.5 L505.2,391.2 L505.8,390.1 L506.2,389.5 L506.7,388.9 L507.1,388.4 L507.6,387.9 L508.1,387.5 L508.6,387.1 L509.1,386.7 L509.6,386.5 L510.2,386.2 L510.7,386.0 L511.2,385.9 L511.8,385.8 L512.3,385.8 L512.8,385.8 L513.3,385.8 L513.8,385.9 L514.4,386.1 L514.9,386.2 L515.5,386.4 L516.0,386.7 L516.6,387.0 L517.1,387.3 L517.6,387.6 L518.2,388.0 L518.7,388.4 L519.2,388.8 L519.7,389.3 L520.3,389.9 L520.8,390.5 L521.3,391.2 L521.8,392.0 L522.3,392.8 L522.8,393.5 L523.4,394.3 L523.9,395.1 L524.4,395.9 L524.9,396.7 L525.4,397.5 L525.9,398.2 L526.4,398.9 L527.0,399.6 L527.5,400.4 L528.0,401.2 L528.6,401.9 L529.1,402.7 L529.7,403.4 L530.2,404.1 L530.7,404.8 L531.2,405.4 L531.7,406.0 L532.2,406.5 L532.6,406.9 L533.3,407.5 L533.9,407.9 L534.5,408.1 L535.0,408.3 L535.6,408.4 L536.1,408.5 L536.5,408.5 L537.0,408.6 L537.6,408.7 L538.1,408.8 L538.6,408.8 L539.0,408.7 L539.5,408.5 L540.0,408.2 L540.5,407.8 L541.0,407.2 L541.5,406.6 L542.0,405.8 L542.5,404.9 L543.1,403.9 L543.5,403.0 L544.0,402.0 L544.5,400.9 L545.0,399.8 L545.5,398.6 L546.0,397.4 L546.5,396.3 L547.1,395.2 L547.6,394.4 L548.1,393.5 L548.5,392.6 L549.1,391.8 L549.6,390.9 L550.1,390.1 L550.7,389.3 L551.2,388.5 L551.8,387.8 L552.4,387.1 L552.9,386.6 L553.4,386.1 L553.8,385.6 L554.3,385.2 L554.9,384.7 L555.4,384.3 L555.9,383.9 L556.4,383.5 L557.0,383.1 L557.5,382.8 L558.1,382.4 L558.6,382.1 L559.2,381.8 L559.7,381.6 L560.1,381.3 L560.6,381.1 L561.1,381.0 L561.5,380.8 L562.0,380.6 L562.5,380.5 L563.0,380.3 L563.4,380.2 L563.9,380.1 L564.5,379.9 L565.0,379.8 L565.5,379.6 L566.1,379.5 L566.6,379.3 L567.2,379.1 L567.7,378.9 L568.1,378.8 L568.6,378.6 L569.0,378.4 L569.5,378.3 L570.0,378.1 L570.5,377.9 L571.0,377.7 L571.5,377.5 L572.0,377.3 L572.5,377.2 L573.0,377.0 L573.6,376.8 L574.1,376.6 L574.6,376.4 L575.2,376.3 L575.7,376.1 L576.3,375.9 L576.9,375.8 L577.4,375.6 L578.0,375.5 L578.5,375.4 L578.9,375.3 L579.4,375.2 L579.9,375.1 L580.4,375.0 L580.8,374.9 L581.3,374.9 L581.8,374.8 L582.3,374.7 L582.8,374.6 L583.3,374.5 L583.8,374.5 L584.3,374.4 L584.8,374.3 L585.3,374.3 L585.8,374.2 L586.4,374.2 L586.9,374.1 L587.4,374.1 L588.0,374.0 L588.5,373.9 L589.1,373.9 L589.7,373.8 L590.2,373.8 L590.8,373.7 L591.4,373.7 L591.9,373.7 L592.3,373.6 L592.8,373.6 L593.2,373.6 L593.7,373.5 L594.2,373.5 L594.7,373.5 L595.1,373.5 L595.6,373.4 L596.1,373.4 L596.6,373.4 L597.1,373.4 L597.6,373.4 L598.1,373.3 L598.6,373.3 L599.1,373.3 L599.6,373.3 L600.1,373.3 L600.6,373.3 L601.2,373.3 L601.7,373.2 L602.2,373.2 L602.7,373.2 L603.3,373.2 L603.8,373.2 L604.4,373.2 L604.9,373.2 L605.5,373.2 L606.0,373.2 L606.6,373.1 L607.1,373.1 L607.7,373.1 L608.2,373.1 L608.8,373.1 L609.3,373.1 L609.7,373.1 L610.2,373.1 L610.7,373.1 L611.2,373.1 L611.7,373.0 L612.2,373.0 L612.7,373.0 L613.2,373.0 L613.7,373.0 L614.2,373.0 L614.7,373.0 L615.2,373.0 L615.8,373.0 L616.3,373.0 L616.8,373.0 L617.4,373.0 L617.9,372.9 L618.4,372.9 L618.9,372.9 L619.5,372.9 L620.0,372.9 L620.5,372.9 L621.1,372.9 L621.6,372.9 L622.1,372.9 L622.6,372.9 L623.2,372.9 L623.7,372.9 L624.2,372.9 L624.7,372.9 L625.2,372.9 L625.7,372.9 L626.2,372.9 L626.7,372.9 L627.2,372.9 L627.7,372.9 L628.2,373.0 L628.6,373.0 L629.1,373.0 L629.6,373.0 L630.0,373.0 L630.6,373.0 L631.1,373.0 L631.7,373.1 L632.2,373.1 L632.8,373.2 L633.3,373.2 L633.8,373.2 L634.3,373.3 L634.8,373.3 L635.3,373.4 L635.8,373.4 L636.2,373.5 L636.7,373.6 L637.2,373.6 L637.7,373.7 L638.1,373.7 L638.6,373.8 L639.1,373.8 L639.5,373.9 L640.0,373.9 L640.5,374.0 L641.0,374.0 L641.5,374.1 L642.0,374.1 L642.4,374.2 L643.0,374.2 L643.5,374.2 L644.0,374.3 L644.5,374.3 L645.1,374.3 L645.6,374.3 L646.2,374.3 L646.7,374.3 L647.1,374.3 L647.6,374.3 L648.0,374.3 L648.5,374.3 L648.9,374.2 L649.4,374.2 L649.9,374.2 L650.4,374.2 L650.8,374.1 L651.3,374.1 L651.8,374.0 L652.3,374.0 L652.8,374.0 L653.3,373.9 L653.7,373.9 L654.2,373.8 L654.7,373.8 L655.2,373.8 L655.7,373.7 L656.2,373.7 L656.8,373.6 L657.3,373.6 L657.8,373.5 L658.3,373.5 L658.8,373.4 L659.3,373.4 L659.9,373.4 L660.4,373.3 L660.9,373.3 L661.4,373.2 L662.0,373.2 L662.5,373.2 L663.1,373.1 L663.6,373.1 L664.1,373.1 L664.7,373.1 L665.2,373.0 L665.8,373.0 L666.3,373.0 L666.9,373.0 L667.4,373.0 L667.8,373.0 L668.3,373.0 L668.8,373.0 L669.3,373.0 L669.7,373.0 L670.2,373.0 L670.7,373.0 L671.2,373.0 L671.7,373.0 L672.2,373.0 L672.7,373.1 L673.2,373.1 L673.7,373.1 L674.2,373.1 L674.8,373.1 L675.3,373.1 L675.8,373.2 L676.3,373.2 L676.8,373.2 L677.4,373.2 L677.9,373.2 L678.4,373.3 L678.9,373.3 L679.4,373.3 L680.0,373.3 L680.5,373.4 L681.0,373.4 L681.5,373.4 L682.1,373.4 L682.6,373.4 L683.1,373.5 L683.6,373.5 L684.1,373.5 L684.7,373.5 L685.2,373.5 L685.7,373.6 L686.2,373.6 L686.7,373.6 L687.2,373.6 L687.7,373.6 L688.2,373.6 L688.7,373.7 L689.2,373.7 L689.6,373.7 L690.1,373.7 L690.6,373.7 L691.1,373.7 L691.5,373.7 L692.0,373.7 L692.6,373.7 L693.1,373.7 L693.7,373.7 L694.2,373.7 L694.7,373.7 L695.3,373.7 L695.8,373.6 L696.3,373.6 L696.9,373.6 L697.4,373.6 L697.9,373.6 L698.4,373.6 L698.9,373.5 L699.4,373.5 L699.9,373.5 L700.4,373.5 L700.9,373.4 L701.4,373.4 L701.9,373.4 L702.4,373.4 L702.9,373.3 L703.4,373.3 L703.9,373.3 L704.4,373.3 L704.9,373.2 L705.4,373.2 L705.9,373.2 L706.4,373.2 L706.8,373.2 L707.3,373.1 L707.8,373.1 L708.3,373.1 L708.8,373.1 L709.3,373.1 L709.8,373.0 L710.3,373.0 L710.7,373.0 L711.2,373.0 L711.7,373.0 L712.2,373.0 L712.7,373.0 L713.2,373.0 L713.8,373.0 L714.3,373.0 L714.9,373.0 L715.4,373.0 L716.0,373.0 L716.6,373.0 L717.1,373.0 L717.7,373.1 L718.3,373.1 L718.9,373.1 L719.5,373.1 L720.1,373.1 L720.7,373.1 L721.2,373.2 L721.8,373.2 L722.4,373.2 L723.0,373.2 L723.6,373.2 L724.1,373.3 L724.7,373.3 L725.2,373.3 L725.8,373.3 L726.3,373.4 L726.8,373.4 L727.3,373.4 L727.8,373.4 L728.3,373.4 L728.8,373.5 L729.2,373.5 L729.7,373.5 L730.1,373.5 L730.5,373.5 L730.8,373.5 L731.2,373.6 L731.5,373.6 L731.8,373.6 L732.1,373.6 L732.4,373.6" fill="none" stroke="#111" stroke-width="1.7" stroke-linejoin="round"/>
<rect x="450.90" y="69.40" width="68.00" height="22.10" fill="#fff" stroke="#8c8c8c" stroke-width="1"/>
<text x="462.20" y="84.90" font-family="'Liberation Sans', sans-serif" font-size="13.2" font-weight="bold" text-anchor="start">40FeHA</text>
<rect x="450.80" y="156.00" width="68.10" height="22.20" fill="#fff" stroke="#8c8c8c" stroke-width="1"/>
<text x="462.10" y="171.50" font-family="'Liberation Sans', sans-serif" font-size="13.2" font-weight="bold" text-anchor="start">30FeHA</text>
<rect x="447.60" y="243.70" width="67.70" height="21.90" fill="#fff" stroke="#8c8c8c" stroke-width="1"/>
<text x="458.90" y="259.20" font-family="'Liberation Sans', sans-serif" font-size="13.2" font-weight="bold" text-anchor="start">20FeHA</text>
<rect x="446.70" y="336.10" width="68.00" height="22.00" fill="#fff" stroke="#8c8c8c" stroke-width="1"/>
<text x="458.00" y="351.60" font-family="'Liberation Sans', sans-serif" font-size="13.2" font-weight="bold" text-anchor="start">10FeHA</text>
<rect x="450.50" y="422.90" width="58.80" height="21.70" fill="#fff" stroke="#8c8c8c" stroke-width="1"/>
<text x="461.80" y="438.40" font-family="'Liberation Sans', sans-serif" font-size="13.2" font-weight="bold" text-anchor="start">0FeHA</text>
<line x1="441.70" y1="7.25" x2="441.70" y2="448.70" stroke="#1e1e1e" stroke-width="1.25"/>
<line x1="732.60" y1="7.25" x2="732.60" y2="448.70" stroke="#1e1e1e" stroke-width="1.25"/>
<line x1="441.10" y1="7.25" x2="733.20" y2="7.25" stroke="#1e1e1e" stroke-width="1.25"/>
<line x1="441.70" y1="95.30" x2="732.60" y2="95.30" stroke="#1e1e1e" stroke-width="1.25"/>
<line x1="441.70" y1="183.80" x2="732.60" y2="183.80" stroke="#1e1e1e" stroke-width="1.25"/>
<line x1="441.70" y1="272.60" x2="732.60" y2="272.60" stroke="#1e1e1e" stroke-width="1.25"/>
<line x1="441.70" y1="360.70" x2="732.60" y2="360.70" stroke="#1e1e1e" stroke-width="1.25"/>
<line x1="441.10" y1="448.70" x2="733.20" y2="448.70" stroke="#1e1e1e" stroke-width="1.25"/>
<text transform="translate(434.90,11.85) scale(0.97,1.07)" font-family="'Liberation Sans', sans-serif" font-size="14.3" font-weight="bold" text-anchor="end">100</text>
<text transform="translate(434.90,36.52) scale(0.97,1.07)" font-family="'Liberation Sans', sans-serif" font-size="14.3" font-weight="bold" text-anchor="end">75</text>
<text transform="translate(434.90,61.20) scale(0.97,1.07)" font-family="'Liberation Sans', sans-serif" font-size="14.3" font-weight="bold" text-anchor="end">50</text>
<text transform="translate(434.90,85.88) scale(0.97,1.07)" font-family="'Liberation Sans', sans-serif" font-size="14.3" font-weight="bold" text-anchor="end">25</text>
<text transform="translate(434.90,99.90) scale(0.97,1.07)" font-family="'Liberation Sans', sans-serif" font-size="14.3" font-weight="bold" text-anchor="end">100</text>
<text transform="translate(434.90,124.57) scale(0.97,1.07)" font-family="'Liberation Sans', sans-serif" font-size="14.3" font-weight="bold" text-anchor="end">75</text>
<text transform="translate(434.90,149.25) scale(0.97,1.07)" font-family="'Liberation Sans', sans-serif" font-size="14.3" font-weight="bold" text-anchor="end">50</text>
<text transform="translate(434.90,173.92) scale(0.97,1.07)" font-family="'Liberation Sans', sans-serif" font-size="14.3" font-weight="bold" text-anchor="end">25</text>
<text transform="translate(434.90,188.40) scale(0.97,1.07)" font-family="'Liberation Sans', sans-serif" font-size="14.3" font-weight="bold" text-anchor="end">100</text>
<text transform="translate(434.90,213.08) scale(0.97,1.07)" font-family="'Liberation Sans', sans-serif" font-size="14.3" font-weight="bold" text-anchor="end">75</text>
<text transform="translate(434.90,237.75) scale(0.97,1.07)" font-family="'Liberation Sans', sans-serif" font-size="14.3" font-weight="bold" text-anchor="end">50</text>
<text transform="translate(434.90,262.43) scale(0.97,1.07)" font-family="'Liberation Sans', sans-serif" font-size="14.3" font-weight="bold" text-anchor="end">25</text>
<text transform="translate(434.90,277.20) scale(0.97,1.07)" font-family="'Liberation Sans', sans-serif" font-size="14.3" font-weight="bold" text-anchor="end">100</text>
<text transform="translate(434.90,301.88) scale(0.97,1.07)" font-family="'Liberation Sans', sans-serif" font-size="14.3" font-weight="bold" text-anchor="end">75</text>
<text transform="translate(434.90,326.55) scale(0.97,1.07)" font-family="'Liberation Sans', sans-serif" font-size="14.3" font-weight="bold" text-anchor="end">50</text>
<text transform="translate(434.90,351.23) scale(0.97,1.07)" font-family="'Liberation Sans', sans-serif" font-size="14.3" font-weight="bold" text-anchor="end">25</text>
<text transform="translate(434.90,365.30) scale(0.97,1.07)" font-family="'Liberation Sans', sans-serif" font-size="14.3" font-weight="bold" text-anchor="end">100</text>
<text transform="translate(434.90,387.30) scale(0.97,1.07)" font-family="'Liberation Sans', sans-serif" font-size="14.3" font-weight="bold" text-anchor="end">75</text>
<text transform="translate(434.90,409.30) scale(0.97,1.07)" font-family="'Liberation Sans', sans-serif" font-size="14.3" font-weight="bold" text-anchor="end">50</text>
<text transform="translate(434.90,431.30) scale(0.97,1.07)" font-family="'Liberation Sans', sans-serif" font-size="14.3" font-weight="bold" text-anchor="end">25</text>
<text transform="translate(434.90,453.30) scale(0.97,1.07)" font-family="'Liberation Sans', sans-serif" font-size="14.3" font-weight="bold" text-anchor="end">0</text>
<text transform="translate(441.70,467.10) scale(0.97,1.07)" font-family="'Liberation Sans', sans-serif" font-size="14.3" font-weight="bold" text-anchor="middle">650</text>
<text transform="translate(499.88,467.10) scale(0.97,1.07)" font-family="'Liberation Sans', sans-serif" font-size="14.3" font-weight="bold" text-anchor="middle">600</text>
<text transform="translate(558.06,467.10) scale(0.97,1.07)" font-family="'Liberation Sans', sans-serif" font-size="14.3" font-weight="bold" text-anchor="middle">550</text>
<text transform="translate(616.24,467.10) scale(0.97,1.07)" font-family="'Liberation Sans', sans-serif" font-size="14.3" font-weight="bold" text-anchor="middle">500</text>
<text transform="translate(674.42,467.10) scale(0.97,1.07)" font-family="'Liberation Sans', sans-serif" font-size="14.3" font-weight="bold" text-anchor="middle">450</text>
<text transform="translate(732.60,467.10) scale(0.97,1.07)" font-family="'Liberation Sans', sans-serif" font-size="14.3" font-weight="bold" text-anchor="middle">400</text>
<line x1="80.64" y1="527.00" x2="80.64" y2="530.50" stroke="#1e1e1e" stroke-width="1.25"/>
<line x1="80.64" y1="614.00" x2="80.64" y2="610.50" stroke="#1e1e1e" stroke-width="1.25"/>
<line x1="111.78" y1="527.00" x2="111.78" y2="533.00" stroke="#1e1e1e" stroke-width="1.25"/>
<line x1="111.78" y1="614.00" x2="111.78" y2="608.00" stroke="#1e1e1e" stroke-width="1.25"/>
<line x1="142.92" y1="527.00" x2="142.92" y2="530.50" stroke="#1e1e1e" stroke-width="1.25"/>
<line x1="142.92" y1="614.00" x2="142.92" y2="610.50" stroke="#1e1e1e" stroke-width="1.25"/>
<line x1="174.06" y1="527.00" x2="174.06" y2="533.00" stroke="#1e1e1e" stroke-width="1.25"/>
<line x1="174.06" y1="614.00" x2="174.06" y2="608.00" stroke="#1e1e1e" stroke-width="1.25"/>
<line x1="205.20" y1="527.00" x2="205.20" y2="530.50" stroke="#1e1e1e" stroke-width="1.25"/>
<line x1="205.20" y1="614.00" x2="205.20" y2="610.50" stroke="#1e1e1e" stroke-width="1.25"/>
<line x1="236.34" y1="527.00" x2="236.34" y2="533.00" stroke="#1e1e1e" stroke-width="1.25"/>
<line x1="236.34" y1="614.00" x2="236.34" y2="608.00" stroke="#1e1e1e" stroke-width="1.25"/>
<line x1="267.48" y1="527.00" x2="267.48" y2="530.50" stroke="#1e1e1e" stroke-width="1.25"/>
<line x1="267.48" y1="614.00" x2="267.48" y2="610.50" stroke="#1e1e1e" stroke-width="1.25"/>
<line x1="298.62" y1="527.00" x2="298.62" y2="533.00" stroke="#1e1e1e" stroke-width="1.25"/>
<line x1="298.62" y1="614.00" x2="298.62" y2="608.00" stroke="#1e1e1e" stroke-width="1.25"/>
<line x1="329.76" y1="527.00" x2="329.76" y2="530.50" stroke="#1e1e1e" stroke-width="1.25"/>
<line x1="329.76" y1="614.00" x2="329.76" y2="610.50" stroke="#1e1e1e" stroke-width="1.25"/>
<line x1="49.50" y1="602.00" x2="55.50" y2="602.00" stroke="#1e1e1e" stroke-width="1.25"/>
<line x1="360.90" y1="602.00" x2="354.90" y2="602.00" stroke="#1e1e1e" stroke-width="1.25"/>
<line x1="49.50" y1="589.50" x2="53.00" y2="589.50" stroke="#1e1e1e" stroke-width="1.25"/>
<line x1="360.90" y1="589.50" x2="357.40" y2="589.50" stroke="#1e1e1e" stroke-width="1.25"/>
<line x1="49.50" y1="577.00" x2="55.50" y2="577.00" stroke="#1e1e1e" stroke-width="1.25"/>
<line x1="360.90" y1="577.00" x2="354.90" y2="577.00" stroke="#1e1e1e" stroke-width="1.25"/>
<line x1="49.50" y1="564.50" x2="53.00" y2="564.50" stroke="#1e1e1e" stroke-width="1.25"/>
<line x1="360.90" y1="564.50" x2="357.40" y2="564.50" stroke="#1e1e1e" stroke-width="1.25"/>
<line x1="49.50" y1="552.00" x2="55.50" y2="552.00" stroke="#1e1e1e" stroke-width="1.25"/>
<line x1="360.90" y1="552.00" x2="354.90" y2="552.00" stroke="#1e1e1e" stroke-width="1.25"/>
<line x1="49.50" y1="539.50" x2="53.00" y2="539.50" stroke="#1e1e1e" stroke-width="1.25"/>
<line x1="360.90" y1="539.50" x2="357.40" y2="539.50" stroke="#1e1e1e" stroke-width="1.25"/>
<line x1="80.64" y1="700.60" x2="80.64" y2="697.10" stroke="#1e1e1e" stroke-width="1.25"/>
<line x1="111.78" y1="700.60" x2="111.78" y2="694.60" stroke="#1e1e1e" stroke-width="1.25"/>
<line x1="142.92" y1="700.60" x2="142.92" y2="697.10" stroke="#1e1e1e" stroke-width="1.25"/>
<line x1="174.06" y1="700.60" x2="174.06" y2="694.60" stroke="#1e1e1e" stroke-width="1.25"/>
<line x1="205.20" y1="700.60" x2="205.20" y2="697.10" stroke="#1e1e1e" stroke-width="1.25"/>
<line x1="236.34" y1="700.60" x2="236.34" y2="694.60" stroke="#1e1e1e" stroke-width="1.25"/>
<line x1="267.48" y1="700.60" x2="267.48" y2="697.10" stroke="#1e1e1e" stroke-width="1.25"/>
<line x1="298.62" y1="700.60" x2="298.62" y2="694.60" stroke="#1e1e1e" stroke-width="1.25"/>
<line x1="329.76" y1="700.60" x2="329.76" y2="697.10" stroke="#1e1e1e" stroke-width="1.25"/>
<line x1="49.50" y1="689.00" x2="55.50" y2="689.00" stroke="#1e1e1e" stroke-width="1.25"/>
<line x1="360.90" y1="689.00" x2="354.90" y2="689.00" stroke="#1e1e1e" stroke-width="1.25"/>
<line x1="49.50" y1="676.50" x2="53.00" y2="676.50" stroke="#1e1e1e" stroke-width="1.25"/>
<line x1="360.90" y1="676.50" x2="357.40" y2="676.50" stroke="#1e1e1e" stroke-width="1.25"/>
<line x1="49.50" y1="664.00" x2="55.50" y2="664.00" stroke="#1e1e1e" stroke-width="1.25"/>
<line x1="360.90" y1="664.00" x2="354.90" y2="664.00" stroke="#1e1e1e" stroke-width="1.25"/>
<line x1="49.50" y1="651.50" x2="53.00" y2="651.50" stroke="#1e1e1e" stroke-width="1.25"/>
<line x1="360.90" y1="651.50" x2="357.40" y2="651.50" stroke="#1e1e1e" stroke-width="1.25"/>
<line x1="49.50" y1="639.00" x2="55.50" y2="639.00" stroke="#1e1e1e" stroke-width="1.25"/>
<line x1="360.90" y1="639.00" x2="354.90" y2="639.00" stroke="#1e1e1e" stroke-width="1.25"/>
<line x1="49.50" y1="626.50" x2="53.00" y2="626.50" stroke="#1e1e1e" stroke-width="1.25"/>
<line x1="360.90" y1="626.50" x2="357.40" y2="626.50" stroke="#1e1e1e" stroke-width="1.25"/>
<line x1="80.64" y1="787.40" x2="80.64" y2="783.90" stroke="#1e1e1e" stroke-width="1.25"/>
<line x1="111.78" y1="787.40" x2="111.78" y2="781.40" stroke="#1e1e1e" stroke-width="1.25"/>
<line x1="142.92" y1="787.40" x2="142.92" y2="783.90" stroke="#1e1e1e" stroke-width="1.25"/>
<line x1="174.06" y1="787.40" x2="174.06" y2="781.40" stroke="#1e1e1e" stroke-width="1.25"/>
<line x1="205.20" y1="787.40" x2="205.20" y2="783.90" stroke="#1e1e1e" stroke-width="1.25"/>
<line x1="236.34" y1="787.40" x2="236.34" y2="781.40" stroke="#1e1e1e" stroke-width="1.25"/>
<line x1="267.48" y1="787.40" x2="267.48" y2="783.90" stroke="#1e1e1e" stroke-width="1.25"/>
<line x1="298.62" y1="787.40" x2="298.62" y2="781.40" stroke="#1e1e1e" stroke-width="1.25"/>
<line x1="329.76" y1="787.40" x2="329.76" y2="783.90" stroke="#1e1e1e" stroke-width="1.25"/>
<line x1="49.50" y1="775.60" x2="55.50" y2="775.60" stroke="#1e1e1e" stroke-width="1.25"/>
<line x1="360.90" y1="775.60" x2="354.90" y2="775.60" stroke="#1e1e1e" stroke-width="1.25"/>
<line x1="49.50" y1="763.10" x2="53.00" y2="763.10" stroke="#1e1e1e" stroke-width="1.25"/>
<line x1="360.90" y1="763.10" x2="357.40" y2="763.10" stroke="#1e1e1e" stroke-width="1.25"/>
<line x1="49.50" y1="750.60" x2="55.50" y2="750.60" stroke="#1e1e1e" stroke-width="1.25"/>
<line x1="360.90" y1="750.60" x2="354.90" y2="750.60" stroke="#1e1e1e" stroke-width="1.25"/>
<line x1="49.50" y1="738.10" x2="53.00" y2="738.10" stroke="#1e1e1e" stroke-width="1.25"/>
<line x1="360.90" y1="738.10" x2="357.40" y2="738.10" stroke="#1e1e1e" stroke-width="1.25"/>
<line x1="49.50" y1="725.60" x2="55.50" y2="725.60" stroke="#1e1e1e" stroke-width="1.25"/>
<line x1="360.90" y1="725.60" x2="354.90" y2="725.60" stroke="#1e1e1e" stroke-width="1.25"/>
<line x1="49.50" y1="713.10" x2="53.00" y2="713.10" stroke="#1e1e1e" stroke-width="1.25"/>
<line x1="360.90" y1="713.10" x2="357.40" y2="713.10" stroke="#1e1e1e" stroke-width="1.25"/>
<line x1="80.64" y1="874.40" x2="80.64" y2="870.90" stroke="#1e1e1e" stroke-width="1.25"/>
<line x1="111.78" y1="874.40" x2="111.78" y2="868.40" stroke="#1e1e1e" stroke-width="1.25"/>
<line x1="142.92" y1="874.40" x2="142.92" y2="870.90" stroke="#1e1e1e" stroke-width="1.25"/>
<line x1="174.06" y1="874.40" x2="174.06" y2="868.40" stroke="#1e1e1e" stroke-width="1.25"/>
<line x1="205.20" y1="874.40" x2="205.20" y2="870.90" stroke="#1e1e1e" stroke-width="1.25"/>
<line x1="236.34" y1="874.40" x2="236.34" y2="868.40" stroke="#1e1e1e" stroke-width="1.25"/>
<line x1="267.48" y1="874.40" x2="267.48" y2="870.90" stroke="#1e1e1e" stroke-width="1.25"/>
<line x1="298.62" y1="874.40" x2="298.62" y2="868.40" stroke="#1e1e1e" stroke-width="1.25"/>
<line x1="329.76" y1="874.40" x2="329.76" y2="870.90" stroke="#1e1e1e" stroke-width="1.25"/>
<line x1="49.50" y1="862.40" x2="55.50" y2="862.40" stroke="#1e1e1e" stroke-width="1.25"/>
<line x1="360.90" y1="862.40" x2="354.90" y2="862.40" stroke="#1e1e1e" stroke-width="1.25"/>
<line x1="49.50" y1="849.90" x2="53.00" y2="849.90" stroke="#1e1e1e" stroke-width="1.25"/>
<line x1="360.90" y1="849.90" x2="357.40" y2="849.90" stroke="#1e1e1e" stroke-width="1.25"/>
<line x1="49.50" y1="837.40" x2="55.50" y2="837.40" stroke="#1e1e1e" stroke-width="1.25"/>
<line x1="360.90" y1="837.40" x2="354.90" y2="837.40" stroke="#1e1e1e" stroke-width="1.25"/>
<line x1="49.50" y1="824.90" x2="53.00" y2="824.90" stroke="#1e1e1e" stroke-width="1.25"/>
<line x1="360.90" y1="824.90" x2="357.40" y2="824.90" stroke="#1e1e1e" stroke-width="1.25"/>
<line x1="49.50" y1="812.40" x2="55.50" y2="812.40" stroke="#1e1e1e" stroke-width="1.25"/>
<line x1="360.90" y1="812.40" x2="354.90" y2="812.40" stroke="#1e1e1e" stroke-width="1.25"/>
<line x1="49.50" y1="799.90" x2="53.00" y2="799.90" stroke="#1e1e1e" stroke-width="1.25"/>
<line x1="360.90" y1="799.90" x2="357.40" y2="799.90" stroke="#1e1e1e" stroke-width="1.25"/>
<line x1="80.64" y1="961.40" x2="80.64" y2="957.90" stroke="#1e1e1e" stroke-width="1.25"/>
<line x1="111.78" y1="961.40" x2="111.78" y2="955.40" stroke="#1e1e1e" stroke-width="1.25"/>
<line x1="142.92" y1="961.40" x2="142.92" y2="957.90" stroke="#1e1e1e" stroke-width="1.25"/>
<line x1="174.06" y1="961.40" x2="174.06" y2="955.40" stroke="#1e1e1e" stroke-width="1.25"/>
<line x1="205.20" y1="961.40" x2="205.20" y2="957.90" stroke="#1e1e1e" stroke-width="1.25"/>
<line x1="236.34" y1="961.40" x2="236.34" y2="955.40" stroke="#1e1e1e" stroke-width="1.25"/>
<line x1="267.48" y1="961.40" x2="267.48" y2="957.90" stroke="#1e1e1e" stroke-width="1.25"/>
<line x1="298.62" y1="961.40" x2="298.62" y2="955.40" stroke="#1e1e1e" stroke-width="1.25"/>
<line x1="329.76" y1="961.40" x2="329.76" y2="957.90" stroke="#1e1e1e" stroke-width="1.25"/>
<line x1="49.50" y1="948.97" x2="53.00" y2="948.97" stroke="#1e1e1e" stroke-width="1.25"/>
<line x1="360.90" y1="948.97" x2="357.40" y2="948.97" stroke="#1e1e1e" stroke-width="1.25"/>
<line x1="49.50" y1="936.54" x2="55.50" y2="936.54" stroke="#1e1e1e" stroke-width="1.25"/>
<line x1="360.90" y1="936.54" x2="354.90" y2="936.54" stroke="#1e1e1e" stroke-width="1.25"/>
<line x1="49.50" y1="924.11" x2="53.00" y2="924.11" stroke="#1e1e1e" stroke-width="1.25"/>
<line x1="360.90" y1="924.11" x2="357.40" y2="924.11" stroke="#1e1e1e" stroke-width="1.25"/>
<line x1="49.50" y1="911.68" x2="55.50" y2="911.68" stroke="#1e1e1e" stroke-width="1.25"/>
<line x1="360.90" y1="911.68" x2="354.90" y2="911.68" stroke="#1e1e1e" stroke-width="1.25"/>
<line x1="49.50" y1="899.25" x2="53.00" y2="899.25" stroke="#1e1e1e" stroke-width="1.25"/>
<line x1="360.90" y1="899.25" x2="357.40" y2="899.25" stroke="#1e1e1e" stroke-width="1.25"/>
<line x1="49.50" y1="886.82" x2="55.50" y2="886.82" stroke="#1e1e1e" stroke-width="1.25"/>
<line x1="360.90" y1="886.82" x2="354.90" y2="886.82" stroke="#1e1e1e" stroke-width="1.25"/>
<path d="M49.5,601.6 L51.0,601.6 L52.5,601.6 L54.0,601.6 L55.5,601.6 L57.0,601.6 L58.5,601.6 L60.0,601.6 L61.5,601.6 L63.0,601.6 L64.5,601.6 L66.0,601.6 L67.5,601.6 L69.0,601.6 L70.5,601.6 L72.0,601.6 L73.5,601.6 L75.0,601.6 L76.5,601.6 L78.0,601.6 L79.5,601.6 L81.0,601.6 L82.5,601.6 L84.0,601.6 L85.5,601.6 L87.0,601.6 L88.5,601.6 L90.0,601.6 L91.5,601.6 L93.0,601.6 L94.5,601.6 L96.0,601.6 L97.5,601.6 L99.0,601.6 L100.5,601.6 L102.0,601.6 L103.5,601.6 L105.0,601.6 L106.5,601.6 L108.0,601.6 L109.5,601.6 L111.0,601.6 L112.5,601.6 L114.0,601.6 L115.5,601.6 L117.0,601.6 L118.5,601.6 L120.0,601.6 L121.5,601.6 L123.0,601.6 L124.5,601.6 L126.0,601.6 L127.5,601.6 L129.0,601.6 L130.5,601.6 L132.0,601.6 L133.5,601.6 L135.0,601.6 L136.5,601.6 L138.0,601.6 L139.5,601.6 L141.0,601.6 L142.5,601.6 L144.0,601.6 L145.5,601.6 L147.0,601.6 L148.5,601.6 L150.0,601.6 L151.5,601.6 L153.0,601.6 L154.5,601.6 L156.0,601.6 L157.5,601.6 L159.0,601.6 L160.5,601.6 L162.0,601.6 L163.5,601.6 L165.0,601.6 L166.5,601.5 L168.0,601.5 L168.5,601.5 L169.0,601.5 L169.5,601.5 L170.0,601.5 L170.5,601.5 L171.0,601.4 L171.5,601.4 L172.0,601.3 L172.5,601.3 L173.0,601.2 L173.5,601.0 L174.0,600.7 L174.5,599.9 L175.0,598.5 L175.5,596.2 L176.0,593.7 L176.5,592.9 L177.0,594.6 L177.5,597.2 L178.0,599.2 L178.5,600.3 L179.0,600.8 L179.5,601.1 L180.0,601.2 L180.5,601.3 L181.0,601.4 L181.5,601.4 L182.0,601.4 L182.5,601.5 L183.0,601.5 L183.5,601.5 L184.0,601.5 L184.5,601.5 L185.0,601.5 L185.5,601.5 L186.0,601.5 L186.5,601.5 L188.0,601.6 L189.5,601.6 L191.0,601.6 L192.5,601.6 L194.0,601.6 L195.5,601.6 L197.0,601.6 L198.5,601.6 L200.0,601.6 L201.5,601.6 L203.0,601.6 L204.5,601.6 L206.0,601.6 L207.5,601.6 L209.0,601.6 L210.5,601.6 L212.0,601.6 L213.5,601.6 L215.0,601.6 L216.5,601.6 L218.0,601.6 L219.5,601.6 L221.0,601.6 L222.5,601.6 L224.0,601.6 L225.5,601.6 L227.0,601.6 L228.5,601.6 L230.0,601.6 L231.5,601.6 L233.0,601.6 L234.5,601.6 L236.0,601.6 L237.5,601.6 L239.0,601.6 L240.5,601.6 L242.0,601.6 L243.5,601.6 L245.0,601.6 L246.5,601.6 L248.0,601.6 L249.5,601.6 L251.0,601.6 L252.5,601.6 L254.0,601.6 L255.5,601.6 L257.0,601.6 L258.5,601.6 L260.0,601.6 L261.5,601.6 L263.0,601.6 L264.5,601.6 L266.0,601.6 L267.5,601.6 L269.0,601.6 L270.5,601.6 L272.0,601.6 L273.5,601.6 L275.0,601.6 L276.5,601.6 L278.0,601.6 L279.5,601.6 L281.0,601.6 L282.5,601.6 L284.0,601.6 L285.5,601.6 L287.0,601.6 L288.5,601.6 L290.0,601.6 L291.5,601.6 L293.0,601.6 L294.5,601.6 L296.0,601.6 L297.5,601.6 L299.0,601.6 L300.5,601.6 L302.0,601.6 L303.5,601.6 L305.0,601.6 L306.5,601.6 L308.0,601.6 L309.5,601.6 L311.0,601.6 L312.5,601.6 L314.0,601.6 L315.5,601.6 L317.0,601.6 L318.5,601.6 L320.0,601.6 L321.5,601.6 L323.0,601.6 L324.5,601.6 L326.0,601.6 L327.5,601.6 L329.0,601.6 L330.5,601.6 L332.0,601.6 L333.5,601.6 L335.0,601.6 L336.5,601.6 L338.0,601.6 L339.5,601.6 L341.0,601.6 L342.5,601.6 L344.0,601.6 L345.5,601.6 L347.0,601.6 L348.5,601.6 L350.0,601.6 L351.5,601.6 L353.0,601.6 L354.5,601.6 L356.0,601.6 L357.5,601.6 L359.0,601.6 L360.5,601.6" fill="none" stroke="#111" stroke-width="1.7" stroke-linejoin="round"/>
<path d="M49.5,688.3 L51.0,688.3 L52.5,688.3 L54.0,688.3 L55.5,688.3 L57.0,688.3 L58.5,688.3 L60.0,688.3 L61.5,688.3 L63.0,688.3 L64.5,688.3 L66.0,688.3 L67.5,688.3 L69.0,688.3 L70.5,688.3 L72.0,688.3 L73.5,688.3 L75.0,688.3 L76.5,688.3 L78.0,688.3 L79.5,688.3 L81.0,688.3 L82.5,688.3 L84.0,688.3 L85.5,688.3 L87.0,688.3 L88.5,688.3 L90.0,688.3 L91.5,688.3 L93.0,688.3 L94.5,688.3 L96.0,688.3 L97.5,688.3 L99.0,688.3 L100.5,688.3 L102.0,688.3 L103.5,688.3 L105.0,688.3 L106.5,688.3 L108.0,688.3 L109.5,688.3 L111.0,688.3 L112.5,688.3 L114.0,688.3 L115.5,688.3 L117.0,688.3 L118.5,688.3 L120.0,688.3 L121.5,688.3 L123.0,688.3 L124.5,688.3 L126.0,688.3 L127.5,688.3 L129.0,688.3 L130.5,688.3 L132.0,688.3 L133.5,688.3 L135.0,688.3 L136.5,688.3 L138.0,688.3 L139.5,688.3 L141.0,688.3 L142.5,688.3 L144.0,688.3 L145.5,688.3 L147.0,688.3 L148.5,688.3 L150.0,688.3 L151.5,688.3 L153.0,688.3 L154.5,688.3 L156.0,688.3 L157.5,688.3 L159.0,688.3 L160.5,688.3 L162.0,688.3 L163.5,688.3 L165.0,688.3 L166.5,688.3 L168.0,688.3 L168.5,688.2 L169.0,688.2 L169.5,688.2 L170.0,688.2 L170.5,688.2 L171.0,688.2 L171.5,688.2 L172.0,688.1 L172.5,688.1 L173.0,688.0 L173.5,687.9 L174.0,687.7 L174.5,687.1 L175.0,685.9 L175.5,684.0 L176.0,682.3 L176.5,682.5 L177.0,684.4 L177.5,686.2 L178.0,687.2 L178.5,687.7 L179.0,687.9 L179.5,688.0 L180.0,688.1 L180.5,688.1 L181.0,688.2 L181.5,688.2 L182.0,688.2 L182.5,688.2 L183.0,688.2 L183.5,688.2 L184.0,688.2 L184.5,688.3 L185.0,688.3 L185.5,688.3 L187.0,688.3 L188.5,688.3 L190.0,688.3 L191.5,688.3 L193.0,688.3 L194.5,688.3 L196.0,688.3 L197.5,688.3 L199.0,688.3 L200.5,688.3 L202.0,688.3 L203.5,688.3 L205.0,688.3 L206.5,688.3 L208.0,688.3 L209.5,688.3 L211.0,688.3 L212.5,688.3 L214.0,688.3 L215.5,688.3 L217.0,688.3 L218.5,688.3 L220.0,688.3 L221.5,688.3 L223.0,688.3 L224.5,688.3 L226.0,688.3 L227.5,688.3 L229.0,688.3 L230.5,688.3 L232.0,688.3 L233.5,688.3 L235.0,688.3 L236.5,688.3 L238.0,688.3 L239.5,688.3 L241.0,688.3 L242.5,688.3 L244.0,688.3 L245.5,688.3 L247.0,688.3 L248.5,688.3 L250.0,688.3 L251.5,688.3 L253.0,688.3 L254.5,688.3 L256.0,688.3 L257.5,688.3 L259.0,688.3 L260.5,688.3 L262.0,688.3 L263.5,688.3 L265.0,688.3 L266.5,688.3 L268.0,688.3 L269.5,688.3 L271.0,688.3 L272.5,688.3 L274.0,688.3 L275.5,688.3 L277.0,688.3 L278.5,688.3 L280.0,688.3 L281.5,688.3 L283.0,688.3 L284.5,688.3 L286.0,688.3 L287.5,688.3 L289.0,688.3 L290.5,688.3 L292.0,688.3 L293.5,688.3 L295.0,688.3 L296.5,688.3 L298.0,688.3 L299.5,688.3 L301.0,688.3 L302.5,688.3 L304.0,688.3 L305.5,688.3 L307.0,688.3 L308.5,688.3 L310.0,688.3 L311.5,688.3 L313.0,688.3 L314.5,688.3 L316.0,688.3 L317.5,688.3 L319.0,688.3 L320.5,688.3 L322.0,688.3 L323.5,688.3 L325.0,688.3 L326.5,688.3 L328.0,688.3 L329.5,688.3 L331.0,688.3 L332.5,688.3 L334.0,688.3 L335.5,688.3 L337.0,688.3 L338.5,688.3 L340.0,688.3 L341.5,688.3 L343.0,688.3 L344.5,688.3 L346.0,688.3 L347.5,688.3 L349.0,688.3 L350.5,688.3 L352.0,688.3 L353.5,688.3 L355.0,688.3 L356.5,688.3 L358.0,688.3 L359.5,688.3" fill="none" stroke="#111" stroke-width="1.7" stroke-linejoin="round"/>
<path d="M49.5,775.4 L51.0,775.4 L52.5,775.4 L54.0,775.4 L55.5,775.4 L57.0,775.4 L58.5,775.4 L60.0,775.4 L61.5,775.4 L63.0,775.4 L64.5,775.4 L66.0,775.4 L67.5,775.4 L69.0,775.4 L70.5,775.4 L72.0,775.4 L73.5,775.4 L75.0,775.4 L76.5,775.4 L78.0,775.4 L79.5,775.4 L81.0,775.4 L82.5,775.4 L84.0,775.4 L85.5,775.4 L87.0,775.4 L88.5,775.4 L90.0,775.4 L91.5,775.4 L93.0,775.4 L94.5,775.4 L96.0,775.4 L97.5,775.4 L99.0,775.4 L100.5,775.4 L102.0,775.4 L103.5,775.4 L105.0,775.4 L106.5,775.4 L108.0,775.4 L109.5,775.4 L111.0,775.4 L112.5,775.4 L114.0,775.4 L115.5,775.4 L117.0,775.4 L118.5,775.4 L120.0,775.4 L121.5,775.4 L123.0,775.4 L124.5,775.4 L126.0,775.4 L127.5,775.4 L129.0,775.4 L130.5,775.4 L132.0,775.4 L133.5,775.4 L135.0,775.4 L136.5,775.4 L138.0,775.4 L139.5,775.4 L141.0,775.4 L142.5,775.4 L144.0,775.4 L145.5,775.4 L147.0,775.4 L148.5,775.4 L150.0,775.4 L151.5,775.4 L153.0,775.4 L154.5,775.4 L156.0,775.4 L157.5,775.4 L159.0,775.4 L160.5,775.4 L162.0,775.4 L163.5,775.4 L165.0,775.4 L166.5,775.4 L168.0,775.3 L168.5,775.3 L169.0,775.3 L169.5,775.3 L170.0,775.3 L170.5,775.3 L171.0,775.3 L171.5,775.2 L172.0,775.2 L172.5,775.1 L173.0,775.0 L173.5,774.9 L174.0,774.5 L174.5,773.5 L175.0,771.4 L175.5,768.2 L176.0,766.2 L176.5,768.2 L177.0,771.4 L177.5,773.5 L178.0,774.5 L178.5,774.9 L179.0,775.0 L179.5,775.1 L180.0,775.2 L180.5,775.2 L181.0,775.3 L181.5,775.3 L182.0,775.3 L182.5,775.3 L183.0,775.3 L183.5,775.3 L184.0,775.3 L184.5,775.3 L186.0,775.4 L187.5,775.4 L189.0,775.4 L190.5,775.4 L192.0,775.4 L193.5,775.4 L195.0,775.4 L196.5,775.4 L198.0,775.4 L199.5,775.4 L201.0,775.4 L202.5,775.4 L204.0,775.4 L205.5,775.4 L207.0,775.4 L208.5,775.4 L210.0,775.4 L211.5,775.4 L213.0,775.4 L214.5,775.4 L216.0,775.4 L217.5,775.4 L219.0,775.4 L220.5,775.4 L222.0,775.4 L223.5,775.4 L225.0,775.4 L226.5,775.4 L228.0,775.4 L229.5,775.4 L231.0,775.4 L232.5,775.4 L234.0,775.4 L235.5,775.4 L237.0,775.4 L238.5,775.4 L240.0,775.4 L241.5,775.4 L243.0,775.4 L244.5,775.4 L246.0,775.4 L247.5,775.4 L249.0,775.4 L250.5,775.4 L252.0,775.4 L253.5,775.4 L255.0,775.4 L256.5,775.4 L258.0,775.4 L259.5,775.4 L261.0,775.4 L262.5,775.4 L264.0,775.4 L265.5,775.4 L267.0,775.4 L268.5,775.4 L270.0,775.4 L271.5,775.4 L273.0,775.4 L274.5,775.4 L276.0,775.4 L277.5,775.4 L279.0,775.4 L280.5,775.4 L282.0,775.4 L283.5,775.4 L285.0,775.4 L286.5,775.4 L288.0,775.4 L289.5,775.4 L291.0,775.4 L292.5,775.4 L294.0,775.4 L295.5,775.4 L297.0,775.4 L298.5,775.4 L300.0,775.4 L301.5,775.4 L303.0,775.4 L304.5,775.4 L306.0,775.4 L307.5,775.4 L309.0,775.4 L310.5,775.4 L312.0,775.4 L313.5,775.4 L315.0,775.4 L316.5,775.4 L318.0,775.4 L319.5,775.4 L321.0,775.4 L322.5,775.4 L324.0,775.4 L325.5,775.4 L327.0,775.4 L328.5,775.4 L330.0,775.4 L331.5,775.4 L333.0,775.4 L334.5,775.4 L336.0,775.4 L337.5,775.4 L339.0,775.4 L340.5,775.4 L342.0,775.4 L343.5,775.4 L345.0,775.4 L346.5,775.4 L348.0,775.4 L349.5,775.4 L351.0,775.4 L352.5,775.4 L354.0,775.4 L355.5,775.4 L357.0,775.4 L358.5,775.4 L360.0,775.4" fill="none" stroke="#111" stroke-width="1.7" stroke-linejoin="round"/>
<path d="M49.5,862.2 L51.0,862.2 L52.5,862.2 L54.0,862.2 L55.5,862.2 L57.0,862.2 L58.5,862.2 L60.0,862.2 L61.5,862.2 L63.0,862.2 L64.5,862.2 L66.0,862.2 L67.5,862.2 L69.0,862.2 L70.5,862.2 L72.0,862.2 L73.5,862.2 L75.0,862.2 L76.5,862.2 L78.0,862.2 L79.5,862.2 L81.0,862.2 L82.5,862.2 L84.0,862.2 L85.5,862.2 L87.0,862.2 L88.5,862.2 L90.0,862.2 L91.5,862.2 L93.0,862.2 L94.5,862.2 L96.0,862.2 L97.5,862.2 L99.0,862.2 L100.5,862.2 L102.0,862.2 L103.5,862.2 L105.0,862.2 L106.5,862.2 L108.0,862.2 L109.5,862.2 L111.0,862.2 L112.5,862.2 L114.0,862.2 L115.5,862.2 L117.0,862.2 L118.5,862.2 L120.0,862.2 L121.5,862.2 L123.0,862.2 L124.5,862.2 L126.0,862.2 L127.5,862.2 L129.0,862.2 L130.5,862.2 L132.0,862.2 L133.5,862.2 L135.0,862.2 L136.5,862.2 L138.0,862.2 L139.5,862.2 L141.0,862.2 L142.5,862.2 L144.0,862.2 L145.5,862.2 L147.0,862.2 L148.5,862.2 L150.0,862.2 L151.5,862.2 L153.0,862.2 L154.5,862.2 L156.0,862.2 L157.5,862.2 L159.0,862.2 L160.5,862.2 L162.0,862.2 L163.5,862.2 L165.0,862.2 L166.5,862.1 L168.0,862.1 L168.5,862.1 L169.0,862.1 L169.5,862.1 L170.0,862.0 L170.5,862.0 L171.0,861.9 L171.5,861.8 L172.0,861.6 L172.5,861.3 L173.0,860.3 L173.5,857.1 L174.0,850.7 L174.5,847.7 L175.0,853.5 L175.5,858.7 L176.0,860.8 L176.5,861.4 L177.0,861.7 L177.5,861.8 L178.0,861.9 L178.5,862.0 L179.0,862.0 L179.5,862.1 L180.0,862.1 L180.5,862.1 L181.0,862.1 L181.5,862.1 L182.0,862.1 L183.5,862.2 L185.0,862.2 L186.5,862.2 L188.0,862.2 L189.5,862.2 L191.0,862.2 L192.5,862.2 L194.0,862.2 L195.5,862.2 L197.0,862.2 L198.5,862.2 L200.0,862.2 L201.5,862.2 L203.0,862.2 L204.5,862.2 L206.0,862.2 L207.5,862.2 L209.0,862.2 L210.5,862.2 L212.0,862.2 L213.5,862.2 L215.0,862.2 L216.5,862.2 L218.0,862.2 L219.5,862.2 L221.0,862.2 L222.5,862.2 L224.0,862.2 L225.5,862.2 L227.0,862.2 L228.5,862.2 L230.0,862.2 L231.5,862.2 L233.0,862.2 L234.5,862.2 L236.0,862.2 L237.5,862.2 L239.0,862.2 L240.5,862.2 L242.0,862.2 L243.5,862.2 L245.0,862.2 L246.5,862.2 L248.0,862.2 L249.5,862.2 L251.0,862.2 L252.5,862.2 L254.0,862.2 L255.5,862.2 L257.0,862.2 L258.5,862.2 L260.0,862.2 L261.5,862.2 L263.0,862.2 L264.5,862.2 L266.0,862.2 L267.5,862.2 L269.0,862.2 L270.5,862.2 L272.0,862.2 L273.5,862.2 L275.0,862.2 L276.5,862.2 L278.0,862.2 L279.5,862.2 L281.0,862.2 L282.5,862.2 L284.0,862.2 L285.5,862.2 L287.0,862.2 L288.5,862.2 L290.0,862.2 L291.5,862.2 L293.0,862.2 L294.5,862.2 L296.0,862.2 L297.5,862.2 L299.0,862.2 L300.5,862.2 L302.0,862.2 L303.5,862.2 L305.0,862.2 L306.5,862.2 L308.0,862.2 L309.5,862.2 L311.0,862.2 L312.5,862.2 L314.0,862.2 L315.5,862.2 L317.0,862.2 L318.5,862.2 L320.0,862.2 L321.5,862.2 L323.0,862.2 L324.5,862.2 L326.0,862.2 L327.5,862.2 L329.0,862.2 L330.5,862.2 L332.0,862.2 L333.5,862.2 L335.0,862.2 L336.5,862.2 L338.0,862.2 L339.5,862.2 L341.0,862.2 L342.5,862.2 L344.0,862.2 L345.5,862.2 L347.0,862.2 L348.5,862.2 L350.0,862.2 L351.5,862.2 L353.0,862.2 L354.5,862.2 L356.0,862.2 L357.5,862.2 L359.0,862.2 L360.5,862.2" fill="none" stroke="#111" stroke-width="1.7" stroke-linejoin="round"/>
<path d="M49.5,961.0 L51.0,961.0 L52.5,961.0 L54.0,961.0 L55.5,961.0 L57.0,961.0 L58.5,961.0 L60.0,961.0 L61.5,961.0 L63.0,961.0 L64.5,961.0 L66.0,961.0 L67.5,961.0 L69.0,961.0 L70.5,961.0 L72.0,961.0 L73.5,961.0 L75.0,961.0 L76.5,961.0 L78.0,961.0 L79.5,961.0 L81.0,961.0 L82.5,961.0 L84.0,961.0 L85.5,961.0 L87.0,961.0 L88.5,961.0 L90.0,961.0 L91.5,961.0 L93.0,961.0 L94.5,961.0 L96.0,961.0 L97.5,961.0 L99.0,961.0 L100.5,961.0 L102.0,961.0 L103.5,961.0 L105.0,961.0 L106.5,961.0 L108.0,961.0 L109.5,961.0 L111.0,961.0 L112.5,961.0 L114.0,961.0 L115.5,961.0 L117.0,961.0 L118.5,961.0 L120.0,961.0 L121.5,961.0 L123.0,961.0 L124.5,961.0 L126.0,961.0 L127.5,961.0 L129.0,961.0 L130.5,961.0 L132.0,961.0 L133.5,961.0 L135.0,961.0 L136.5,961.0 L138.0,961.0 L139.5,961.0 L141.0,961.0 L142.5,961.0 L144.0,961.0 L145.5,961.0 L147.0,961.0 L148.5,961.0 L150.0,961.0 L151.5,961.0 L153.0,961.0 L154.5,961.0 L156.0,961.0 L157.5,961.0 L159.0,961.0 L160.5,961.0 L162.0,961.0 L163.5,961.0 L165.0,960.9 L166.5,960.9 L168.0,960.8 L168.2,960.8 L168.5,960.8 L168.8,960.8 L169.0,960.8 L169.2,960.7 L169.5,960.7 L169.8,960.7 L170.0,960.6 L170.2,960.6 L170.5,960.5 L170.8,960.4 L171.0,960.3 L171.2,960.2 L171.5,960.0 L171.8,959.8 L172.0,959.4 L172.2,958.8 L172.5,957.6 L172.8,954.9 L173.0,949.0 L173.2,938.3 L173.5,925.4 L173.8,920.8 L174.0,930.3 L174.2,943.1 L174.5,951.9 L174.8,956.3 L175.0,958.2 L175.2,959.1 L175.5,959.5 L175.8,959.9 L176.0,960.1 L176.2,960.3 L176.5,960.4 L176.8,960.5 L177.0,960.5 L177.2,960.6 L177.5,960.7 L177.8,960.7 L178.0,960.7 L178.2,960.8 L178.5,960.8 L178.8,960.8 L179.0,960.8 L179.2,960.8 L179.5,960.9 L179.8,960.9 L181.2,960.9 L182.8,960.9 L184.2,961.0 L185.8,961.0 L187.2,961.0 L188.8,961.0 L190.2,961.0 L191.8,961.0 L193.2,961.0 L194.8,961.0 L196.2,961.0 L197.8,961.0 L199.2,961.0 L200.8,961.0 L202.2,961.0 L203.8,961.0 L205.2,961.0 L206.8,961.0 L208.2,961.0 L209.8,961.0 L211.2,961.0 L212.8,961.0 L214.2,961.0 L215.8,961.0 L217.2,961.0 L218.8,961.0 L220.2,961.0 L221.8,961.0 L223.2,961.0 L224.8,961.0 L226.2,961.0 L227.8,961.0 L229.2,961.0 L230.8,961.0 L232.2,961.0 L233.8,961.0 L235.2,961.0 L236.8,961.0 L238.2,961.0 L239.8,961.0 L241.2,961.0 L242.8,961.0 L244.2,961.0 L245.8,961.0 L247.2,961.0 L248.8,961.0 L250.2,961.0 L251.8,961.0 L253.2,961.0 L254.8,961.0 L256.2,961.0 L257.8,961.0 L259.2,961.0 L260.8,961.0 L262.2,961.0 L263.8,961.0 L265.2,961.0 L266.8,961.0 L268.2,961.0 L269.8,961.0 L271.2,961.0 L272.8,961.0 L274.2,961.0 L275.8,961.0 L277.2,961.0 L278.8,961.0 L280.2,961.0 L281.8,961.0 L283.2,961.0 L284.8,961.0 L286.2,961.0 L287.8,961.0 L289.2,961.0 L290.8,961.0 L292.2,961.0 L293.8,961.0 L295.2,961.0 L296.8,961.0 L298.2,961.0 L299.8,961.0 L301.2,961.0 L302.8,961.0 L304.2,961.0 L305.8,961.0 L307.2,961.0 L308.8,961.0 L310.2,961.0 L311.8,961.0 L313.2,961.0 L314.8,961.0 L316.2,961.0 L317.8,961.0 L319.2,961.0 L320.8,961.0 L322.2,961.0 L323.8,961.0 L325.2,961.0 L326.8,961.0 L328.2,961.0 L329.8,961.0 L331.2,961.0 L332.8,961.0 L334.2,961.0 L335.8,961.0 L337.2,961.0 L338.8,961.0 L340.2,961.0 L341.8,961.0 L343.2,961.0 L344.8,961.0 L346.2,961.0 L347.8,961.0 L349.2,961.0 L350.8,961.0 L352.2,961.0 L353.8,961.0 L355.2,961.0 L356.8,961.0 L358.2,961.0 L359.8,961.0" fill="none" stroke="#111" stroke-width="1.7" stroke-linejoin="round"/>
<rect x="49.50" y="527.00" width="71.00" height="19.60" fill="#fff" stroke="#8c8c8c" stroke-width="1"/>
<text x="59.80" y="543.20" font-family="'Liberation Sans', sans-serif" font-size="15.6" font-weight="bold" text-anchor="start">40FeHA</text>
<rect x="49.50" y="874.40" width="61.30" height="19.60" fill="#fff" stroke="#8c8c8c" stroke-width="1"/>
<text x="59.80" y="890.60" font-family="'Liberation Sans', sans-serif" font-size="15.6" font-weight="bold" text-anchor="start">0FeHA</text>
<line x1="49.50" y1="527.00" x2="49.50" y2="961.40" stroke="#1e1e1e" stroke-width="1.25"/>
<line x1="360.90" y1="527.00" x2="360.90" y2="961.40" stroke="#1e1e1e" stroke-width="1.25"/>
<rect x="49.50" y="614.00" width="71.00" height="19.60" fill="#fff" stroke="#8c8c8c" stroke-width="1"/>
<text x="59.80" y="630.20" font-family="'Liberation Sans', sans-serif" font-size="15.6" font-weight="bold" text-anchor="start">30FeHA</text>
<rect x="49.50" y="700.60" width="71.00" height="19.60" fill="#fff" stroke="#8c8c8c" stroke-width="1"/>
<text x="59.80" y="716.80" font-family="'Liberation Sans', sans-serif" font-size="15.6" font-weight="bold" text-anchor="start">20FeHA</text>
<rect x="49.50" y="787.40" width="71.00" height="19.60" fill="#fff" stroke="#8c8c8c" stroke-width="1"/>
<text x="59.80" y="803.60" font-family="'Liberation Sans', sans-serif" font-size="15.6" font-weight="bold" text-anchor="start">10FeHA</text>
<line x1="48.90" y1="527.00" x2="361.50" y2="527.00" stroke="#1e1e1e" stroke-width="1.25"/>
<line x1="49.50" y1="614.00" x2="360.90" y2="614.00" stroke="#1e1e1e" stroke-width="1.25"/>
<line x1="49.50" y1="700.60" x2="360.90" y2="700.60" stroke="#1e1e1e" stroke-width="1.25"/>
<line x1="49.50" y1="787.40" x2="360.90" y2="787.40" stroke="#1e1e1e" stroke-width="1.25"/>
<line x1="49.50" y1="874.40" x2="360.90" y2="874.40" stroke="#1e1e1e" stroke-width="1.25"/>
<line x1="48.90" y1="961.40" x2="361.50" y2="961.40" stroke="#1e1e1e" stroke-width="1.25"/>
<text x="41.90" y="531.80" font-family="'Liberation Sans', sans-serif" font-size="15.3" font-weight="bold" text-anchor="end">0.3</text>
<text x="41.90" y="556.80" font-family="'Liberation Sans', sans-serif" font-size="15.3" font-weight="bold" text-anchor="end">0.2</text>
<text x="41.90" y="581.80" font-family="'Liberation Sans', sans-serif" font-size="15.3" font-weight="bold" text-anchor="end">0.1</text>
<text x="41.90" y="606.80" font-family="'Liberation Sans', sans-serif" font-size="15.3" font-weight="bold" text-anchor="end">0.0</text>
<text x="41.90" y="618.80" font-family="'Liberation Sans', sans-serif" font-size="15.3" font-weight="bold" text-anchor="end">0.3</text>
<text x="41.90" y="643.80" font-family="'Liberation Sans', sans-serif" font-size="15.3" font-weight="bold" text-anchor="end">0.2</text>
<text x="41.90" y="668.80" font-family="'Liberation Sans', sans-serif" font-size="15.3" font-weight="bold" text-anchor="end">0.1</text>
<text x="41.90" y="693.80" font-family="'Liberation Sans', sans-serif" font-size="15.3" font-weight="bold" text-anchor="end">0.0</text>
<text x="41.90" y="705.40" font-family="'Liberation Sans', sans-serif" font-size="15.3" font-weight="bold" text-anchor="end">0.3</text>
<text x="41.90" y="730.40" font-family="'Liberation Sans', sans-serif" font-size="15.3" font-weight="bold" text-anchor="end">0.2</text>
<text x="41.90" y="755.40" font-family="'Liberation Sans', sans-serif" font-size="15.3" font-weight="bold" text-anchor="end">0.1</text>
<text x="41.90" y="780.40" font-family="'Liberation Sans', sans-serif" font-size="15.3" font-weight="bold" text-anchor="end">0.0</text>
<text x="41.90" y="792.20" font-family="'Liberation Sans', sans-serif" font-size="15.3" font-weight="bold" text-anchor="end">0.3</text>
<text x="41.90" y="817.20" font-family="'Liberation Sans', sans-serif" font-size="15.3" font-weight="bold" text-anchor="end">0.2</text>
<text x="41.90" y="842.20" font-family="'Liberation Sans', sans-serif" font-size="15.3" font-weight="bold" text-anchor="end">0.1</text>
<text x="41.90" y="867.20" font-family="'Liberation Sans', sans-serif" font-size="15.3" font-weight="bold" text-anchor="end">0.0</text>
<text x="41.90" y="891.62" font-family="'Liberation Sans', sans-serif" font-size="15.3" font-weight="bold" text-anchor="end">0.6</text>
<text x="41.90" y="916.48" font-family="'Liberation Sans', sans-serif" font-size="15.3" font-weight="bold" text-anchor="end">0.4</text>
<text x="41.90" y="941.34" font-family="'Liberation Sans', sans-serif" font-size="15.3" font-weight="bold" text-anchor="end">0.2</text>
<text x="41.90" y="966.20" font-family="'Liberation Sans', sans-serif" font-size="15.3" font-weight="bold" text-anchor="end">0.0</text>
<text x="49.50" y="980.10" font-family="'Liberation Sans', sans-serif" font-size="15.3" font-weight="bold" text-anchor="middle">4000</text>
<text x="111.78" y="980.10" font-family="'Liberation Sans', sans-serif" font-size="15.3" font-weight="bold" text-anchor="middle">3800</text>
<text x="174.06" y="980.10" font-family="'Liberation Sans', sans-serif" font-size="15.3" font-weight="bold" text-anchor="middle">3600</text>
<text x="236.34" y="980.10" font-family="'Liberation Sans', sans-serif" font-size="15.3" font-weight="bold" text-anchor="middle">3400</text>
<text x="298.62" y="980.10" font-family="'Liberation Sans', sans-serif" font-size="15.3" font-weight="bold" text-anchor="middle">3200</text>
<text x="360.90" y="980.10" font-family="'Liberation Sans', sans-serif" font-size="15.3" font-weight="bold" text-anchor="middle">3000</text>
<line x1="472.70" y1="530.40" x2="472.70" y2="533.90" stroke="#1e1e1e" stroke-width="1.25"/>
<line x1="472.70" y1="616.60" x2="472.70" y2="613.10" stroke="#1e1e1e" stroke-width="1.25"/>
<line x1="501.10" y1="530.40" x2="501.10" y2="536.40" stroke="#1e1e1e" stroke-width="1.25"/>
<line x1="501.10" y1="616.60" x2="501.10" y2="610.60" stroke="#1e1e1e" stroke-width="1.25"/>
<line x1="529.50" y1="530.40" x2="529.50" y2="533.90" stroke="#1e1e1e" stroke-width="1.25"/>
<line x1="529.50" y1="616.60" x2="529.50" y2="613.10" stroke="#1e1e1e" stroke-width="1.25"/>
<line x1="557.90" y1="530.40" x2="557.90" y2="536.40" stroke="#1e1e1e" stroke-width="1.25"/>
<line x1="557.90" y1="616.60" x2="557.90" y2="610.60" stroke="#1e1e1e" stroke-width="1.25"/>
<line x1="586.30" y1="530.40" x2="586.30" y2="533.90" stroke="#1e1e1e" stroke-width="1.25"/>
<line x1="586.30" y1="616.60" x2="586.30" y2="613.10" stroke="#1e1e1e" stroke-width="1.25"/>
<line x1="614.70" y1="530.40" x2="614.70" y2="536.40" stroke="#1e1e1e" stroke-width="1.25"/>
<line x1="614.70" y1="616.60" x2="614.70" y2="610.60" stroke="#1e1e1e" stroke-width="1.25"/>
<line x1="643.10" y1="530.40" x2="643.10" y2="533.90" stroke="#1e1e1e" stroke-width="1.25"/>
<line x1="643.10" y1="616.60" x2="643.10" y2="613.10" stroke="#1e1e1e" stroke-width="1.25"/>
<line x1="671.50" y1="530.40" x2="671.50" y2="536.40" stroke="#1e1e1e" stroke-width="1.25"/>
<line x1="671.50" y1="616.60" x2="671.50" y2="610.60" stroke="#1e1e1e" stroke-width="1.25"/>
<line x1="699.90" y1="530.40" x2="699.90" y2="533.90" stroke="#1e1e1e" stroke-width="1.25"/>
<line x1="699.90" y1="616.60" x2="699.90" y2="613.10" stroke="#1e1e1e" stroke-width="1.25"/>
<line x1="444.30" y1="606.00" x2="447.80" y2="606.00" stroke="#1e1e1e" stroke-width="1.25"/>
<line x1="728.30" y1="606.00" x2="724.80" y2="606.00" stroke="#1e1e1e" stroke-width="1.25"/>
<line x1="444.30" y1="595.20" x2="450.30" y2="595.20" stroke="#1e1e1e" stroke-width="1.25"/>
<line x1="728.30" y1="595.20" x2="722.30" y2="595.20" stroke="#1e1e1e" stroke-width="1.25"/>
<line x1="444.30" y1="584.40" x2="447.80" y2="584.40" stroke="#1e1e1e" stroke-width="1.25"/>
<line x1="728.30" y1="584.40" x2="724.80" y2="584.40" stroke="#1e1e1e" stroke-width="1.25"/>
<line x1="444.30" y1="573.60" x2="450.30" y2="573.60" stroke="#1e1e1e" stroke-width="1.25"/>
<line x1="728.30" y1="573.60" x2="722.30" y2="573.60" stroke="#1e1e1e" stroke-width="1.25"/>
<line x1="444.30" y1="562.80" x2="447.80" y2="562.80" stroke="#1e1e1e" stroke-width="1.25"/>
<line x1="728.30" y1="562.80" x2="724.80" y2="562.80" stroke="#1e1e1e" stroke-width="1.25"/>
<line x1="444.30" y1="552.00" x2="450.30" y2="552.00" stroke="#1e1e1e" stroke-width="1.25"/>
<line x1="728.30" y1="552.00" x2="722.30" y2="552.00" stroke="#1e1e1e" stroke-width="1.25"/>
<line x1="444.30" y1="541.20" x2="447.80" y2="541.20" stroke="#1e1e1e" stroke-width="1.25"/>
<line x1="728.30" y1="541.20" x2="724.80" y2="541.20" stroke="#1e1e1e" stroke-width="1.25"/>
<line x1="472.70" y1="702.90" x2="472.70" y2="699.40" stroke="#1e1e1e" stroke-width="1.25"/>
<line x1="501.10" y1="702.90" x2="501.10" y2="696.90" stroke="#1e1e1e" stroke-width="1.25"/>
<line x1="529.50" y1="702.90" x2="529.50" y2="699.40" stroke="#1e1e1e" stroke-width="1.25"/>
<line x1="557.90" y1="702.90" x2="557.90" y2="696.90" stroke="#1e1e1e" stroke-width="1.25"/>
<line x1="586.30" y1="702.90" x2="586.30" y2="699.40" stroke="#1e1e1e" stroke-width="1.25"/>
<line x1="614.70" y1="702.90" x2="614.70" y2="696.90" stroke="#1e1e1e" stroke-width="1.25"/>
<line x1="643.10" y1="702.90" x2="643.10" y2="699.40" stroke="#1e1e1e" stroke-width="1.25"/>
<line x1="671.50" y1="702.90" x2="671.50" y2="696.90" stroke="#1e1e1e" stroke-width="1.25"/>
<line x1="699.90" y1="702.90" x2="699.90" y2="699.40" stroke="#1e1e1e" stroke-width="1.25"/>
<line x1="444.30" y1="690.55" x2="447.80" y2="690.55" stroke="#1e1e1e" stroke-width="1.25"/>
<line x1="728.30" y1="690.55" x2="724.80" y2="690.55" stroke="#1e1e1e" stroke-width="1.25"/>
<line x1="444.30" y1="678.20" x2="450.30" y2="678.20" stroke="#1e1e1e" stroke-width="1.25"/>
<line x1="728.30" y1="678.20" x2="722.30" y2="678.20" stroke="#1e1e1e" stroke-width="1.25"/>
<line x1="444.30" y1="665.85" x2="447.80" y2="665.85" stroke="#1e1e1e" stroke-width="1.25"/>
<line x1="728.30" y1="665.85" x2="724.80" y2="665.85" stroke="#1e1e1e" stroke-width="1.25"/>
<line x1="444.30" y1="653.50" x2="450.30" y2="653.50" stroke="#1e1e1e" stroke-width="1.25"/>
<line x1="728.30" y1="653.50" x2="722.30" y2="653.50" stroke="#1e1e1e" stroke-width="1.25"/>
<line x1="444.30" y1="641.15" x2="447.80" y2="641.15" stroke="#1e1e1e" stroke-width="1.25"/>
<line x1="728.30" y1="641.15" x2="724.80" y2="641.15" stroke="#1e1e1e" stroke-width="1.25"/>
<line x1="444.30" y1="628.80" x2="450.30" y2="628.80" stroke="#1e1e1e" stroke-width="1.25"/>
<line x1="728.30" y1="628.80" x2="722.30" y2="628.80" stroke="#1e1e1e" stroke-width="1.25"/>
<line x1="472.70" y1="789.50" x2="472.70" y2="786.00" stroke="#1e1e1e" stroke-width="1.25"/>
<line x1="501.10" y1="789.50" x2="501.10" y2="783.50" stroke="#1e1e1e" stroke-width="1.25"/>
<line x1="529.50" y1="789.50" x2="529.50" y2="786.00" stroke="#1e1e1e" stroke-width="1.25"/>
<line x1="557.90" y1="789.50" x2="557.90" y2="783.50" stroke="#1e1e1e" stroke-width="1.25"/>
<line x1="586.30" y1="789.50" x2="586.30" y2="786.00" stroke="#1e1e1e" stroke-width="1.25"/>
<line x1="614.70" y1="789.50" x2="614.70" y2="783.50" stroke="#1e1e1e" stroke-width="1.25"/>
<line x1="643.10" y1="789.50" x2="643.10" y2="786.00" stroke="#1e1e1e" stroke-width="1.25"/>
<line x1="671.50" y1="789.50" x2="671.50" y2="783.50" stroke="#1e1e1e" stroke-width="1.25"/>
<line x1="699.90" y1="789.50" x2="699.90" y2="786.00" stroke="#1e1e1e" stroke-width="1.25"/>
<line x1="444.30" y1="772.10" x2="450.30" y2="772.10" stroke="#1e1e1e" stroke-width="1.25"/>
<line x1="728.30" y1="772.10" x2="722.30" y2="772.10" stroke="#1e1e1e" stroke-width="1.25"/>
<line x1="444.30" y1="754.80" x2="447.80" y2="754.80" stroke="#1e1e1e" stroke-width="1.25"/>
<line x1="728.30" y1="754.80" x2="724.80" y2="754.80" stroke="#1e1e1e" stroke-width="1.25"/>
<line x1="444.30" y1="737.50" x2="450.30" y2="737.50" stroke="#1e1e1e" stroke-width="1.25"/>
<line x1="728.30" y1="737.50" x2="722.30" y2="737.50" stroke="#1e1e1e" stroke-width="1.25"/>
<line x1="444.30" y1="720.20" x2="447.80" y2="720.20" stroke="#1e1e1e" stroke-width="1.25"/>
<line x1="728.30" y1="720.20" x2="724.80" y2="720.20" stroke="#1e1e1e" stroke-width="1.25"/>
<line x1="472.70" y1="875.60" x2="472.70" y2="872.10" stroke="#1e1e1e" stroke-width="1.25"/>
<line x1="501.10" y1="875.60" x2="501.10" y2="869.60" stroke="#1e1e1e" stroke-width="1.25"/>
<line x1="529.50" y1="875.60" x2="529.50" y2="872.10" stroke="#1e1e1e" stroke-width="1.25"/>
<line x1="557.90" y1="875.60" x2="557.90" y2="869.60" stroke="#1e1e1e" stroke-width="1.25"/>
<line x1="586.30" y1="875.60" x2="586.30" y2="872.10" stroke="#1e1e1e" stroke-width="1.25"/>
<line x1="614.70" y1="875.60" x2="614.70" y2="869.60" stroke="#1e1e1e" stroke-width="1.25"/>
<line x1="643.10" y1="875.60" x2="643.10" y2="872.10" stroke="#1e1e1e" stroke-width="1.25"/>
<line x1="671.50" y1="875.60" x2="671.50" y2="869.60" stroke="#1e1e1e" stroke-width="1.25"/>
<line x1="699.90" y1="875.60" x2="699.90" y2="872.10" stroke="#1e1e1e" stroke-width="1.25"/>
<line x1="444.30" y1="863.25" x2="447.80" y2="863.25" stroke="#1e1e1e" stroke-width="1.25"/>
<line x1="728.30" y1="863.25" x2="724.80" y2="863.25" stroke="#1e1e1e" stroke-width="1.25"/>
<line x1="444.30" y1="850.90" x2="450.30" y2="850.90" stroke="#1e1e1e" stroke-width="1.25"/>
<line x1="728.30" y1="850.90" x2="722.30" y2="850.90" stroke="#1e1e1e" stroke-width="1.25"/>
<line x1="444.30" y1="838.55" x2="447.80" y2="838.55" stroke="#1e1e1e" stroke-width="1.25"/>
<line x1="728.30" y1="838.55" x2="724.80" y2="838.55" stroke="#1e1e1e" stroke-width="1.25"/>
<line x1="444.30" y1="826.20" x2="450.30" y2="826.20" stroke="#1e1e1e" stroke-width="1.25"/>
<line x1="728.30" y1="826.20" x2="722.30" y2="826.20" stroke="#1e1e1e" stroke-width="1.25"/>
<line x1="444.30" y1="813.85" x2="447.80" y2="813.85" stroke="#1e1e1e" stroke-width="1.25"/>
<line x1="728.30" y1="813.85" x2="724.80" y2="813.85" stroke="#1e1e1e" stroke-width="1.25"/>
<line x1="444.30" y1="801.50" x2="450.30" y2="801.50" stroke="#1e1e1e" stroke-width="1.25"/>
<line x1="728.30" y1="801.50" x2="722.30" y2="801.50" stroke="#1e1e1e" stroke-width="1.25"/>
<line x1="472.70" y1="962.20" x2="472.70" y2="958.70" stroke="#1e1e1e" stroke-width="1.25"/>
<line x1="501.10" y1="962.20" x2="501.10" y2="956.20" stroke="#1e1e1e" stroke-width="1.25"/>
<line x1="529.50" y1="962.20" x2="529.50" y2="958.70" stroke="#1e1e1e" stroke-width="1.25"/>
<line x1="557.90" y1="962.20" x2="557.90" y2="956.20" stroke="#1e1e1e" stroke-width="1.25"/>
<line x1="586.30" y1="962.20" x2="586.30" y2="958.70" stroke="#1e1e1e" stroke-width="1.25"/>
<line x1="614.70" y1="962.20" x2="614.70" y2="956.20" stroke="#1e1e1e" stroke-width="1.25"/>
<line x1="643.10" y1="962.20" x2="643.10" y2="958.70" stroke="#1e1e1e" stroke-width="1.25"/>
<line x1="671.50" y1="962.20" x2="671.50" y2="956.20" stroke="#1e1e1e" stroke-width="1.25"/>
<line x1="699.90" y1="962.20" x2="699.90" y2="958.70" stroke="#1e1e1e" stroke-width="1.25"/>
<line x1="444.30" y1="952.50" x2="447.80" y2="952.50" stroke="#1e1e1e" stroke-width="1.25"/>
<line x1="728.30" y1="952.50" x2="724.80" y2="952.50" stroke="#1e1e1e" stroke-width="1.25"/>
<line x1="444.30" y1="942.80" x2="450.30" y2="942.80" stroke="#1e1e1e" stroke-width="1.25"/>
<line x1="728.30" y1="942.80" x2="722.30" y2="942.80" stroke="#1e1e1e" stroke-width="1.25"/>
<line x1="444.30" y1="933.10" x2="447.80" y2="933.10" stroke="#1e1e1e" stroke-width="1.25"/>
<line x1="728.30" y1="933.10" x2="724.80" y2="933.10" stroke="#1e1e1e" stroke-width="1.25"/>
<line x1="444.30" y1="923.40" x2="450.30" y2="923.40" stroke="#1e1e1e" stroke-width="1.25"/>
<line x1="728.30" y1="923.40" x2="722.30" y2="923.40" stroke="#1e1e1e" stroke-width="1.25"/>
<line x1="444.30" y1="913.70" x2="447.80" y2="913.70" stroke="#1e1e1e" stroke-width="1.25"/>
<line x1="728.30" y1="913.70" x2="724.80" y2="913.70" stroke="#1e1e1e" stroke-width="1.25"/>
<line x1="444.30" y1="904.00" x2="450.30" y2="904.00" stroke="#1e1e1e" stroke-width="1.25"/>
<line x1="728.30" y1="904.00" x2="722.30" y2="904.00" stroke="#1e1e1e" stroke-width="1.25"/>
<line x1="444.30" y1="894.30" x2="447.80" y2="894.30" stroke="#1e1e1e" stroke-width="1.25"/>
<line x1="728.30" y1="894.30" x2="724.80" y2="894.30" stroke="#1e1e1e" stroke-width="1.25"/>
<line x1="444.30" y1="884.60" x2="450.30" y2="884.60" stroke="#1e1e1e" stroke-width="1.25"/>
<line x1="728.30" y1="884.60" x2="722.30" y2="884.60" stroke="#1e1e1e" stroke-width="1.25"/>
<path d="M444.3,541.7 L444.6,541.7 L444.8,541.7 L445.1,541.7 L445.4,541.7 L445.7,541.7 L446.0,541.7 L446.4,541.7 L446.7,541.7 L447.0,541.7 L447.4,541.7 L447.8,541.7 L448.2,541.7 L448.6,541.7 L449.0,541.7 L449.4,541.7 L449.8,541.7 L450.2,541.7 L450.7,541.7 L451.1,541.7 L451.6,541.7 L452.0,541.7 L452.5,541.7 L453.0,541.7 L453.5,541.7 L454.0,541.7 L454.5,541.7 L455.0,541.7 L455.5,541.7 L456.0,541.7 L456.5,541.7 L457.1,541.7 L457.6,541.7 L458.1,541.7 L458.7,541.7 L459.2,541.7 L459.8,541.7 L460.3,541.7 L460.9,541.7 L461.5,541.7 L462.0,541.7 L462.6,541.7 L463.2,541.7 L463.8,541.7 L464.3,541.7 L464.9,541.7 L465.5,541.7 L466.1,541.7 L466.7,541.7 L467.2,541.7 L467.8,541.7 L468.4,541.7 L469.0,541.7 L469.6,541.7 L470.2,541.7 L470.7,541.7 L471.3,541.7 L471.9,541.7 L472.5,541.7 L473.1,541.7 L473.6,541.7 L474.2,541.7 L474.8,541.7 L475.4,541.7 L475.9,541.7 L476.5,541.7 L477.0,541.7 L477.6,541.7 L478.1,541.7 L478.7,541.7 L479.2,541.7 L479.8,541.7 L480.3,541.7 L480.8,541.7 L481.3,541.7 L481.7,541.7 L482.2,541.7 L482.7,541.7 L483.2,541.7 L483.7,541.7 L484.2,541.7 L484.7,541.7 L485.2,541.7 L485.7,541.7 L486.2,541.7 L486.7,541.7 L487.2,541.7 L487.7,541.7 L488.2,541.7 L488.7,541.6 L489.3,541.6 L489.8,541.6 L490.3,541.6 L490.8,541.6 L491.3,541.6 L491.8,541.6 L492.4,541.6 L492.9,541.6 L493.4,541.6 L493.9,541.6 L494.5,541.6 L495.0,541.6 L495.5,541.6 L496.0,541.6 L496.6,541.6 L497.1,541.6 L497.6,541.6 L498.1,541.6 L498.7,541.6 L499.2,541.6 L499.7,541.5 L500.2,541.5 L500.8,541.5 L501.3,541.5 L501.8,541.5 L502.3,541.5 L502.9,541.5 L503.4,541.5 L503.9,541.5 L504.4,541.5 L504.9,541.5 L505.5,541.5 L506.0,541.5 L506.5,541.5 L507.0,541.5 L507.5,541.5 L508.0,541.5 L508.5,541.5 L509.0,541.5 L509.5,541.5 L510.1,541.5 L510.6,541.5 L511.1,541.5 L511.6,541.5 L512.0,541.5 L512.5,541.5 L513.0,541.5 L513.5,541.5 L514.0,541.5 L514.5,541.5 L515.0,541.5 L515.4,541.5 L515.9,541.5 L516.4,541.5 L516.9,541.5 L517.3,541.5 L517.8,541.5 L518.3,541.5 L518.7,541.5 L519.2,541.5 L519.6,541.5 L520.1,541.5 L520.5,541.5 L521.1,541.5 L521.7,541.5 L522.3,541.5 L522.8,541.5 L523.4,541.5 L524.0,541.6 L524.6,541.6 L525.2,541.6 L525.7,541.6 L526.3,541.6 L526.9,541.6 L527.4,541.6 L528.0,541.6 L528.6,541.6 L529.1,541.7 L529.7,541.7 L530.2,541.7 L530.8,541.7 L531.4,541.7 L531.9,541.7 L532.5,541.8 L533.0,541.8 L533.5,541.8 L534.1,541.8 L534.6,541.8 L535.1,541.8 L535.7,541.9 L536.2,541.9 L536.7,541.9 L537.2,541.9 L537.7,541.9 L538.3,542.0 L538.8,542.0 L539.3,542.0 L539.8,542.0 L540.3,542.0 L540.7,542.0 L541.2,542.1 L541.7,542.1 L542.2,542.1 L542.7,542.1 L543.1,542.1 L543.6,542.2 L544.1,542.2 L544.5,542.2 L545.0,542.2 L545.4,542.2 L545.9,542.3 L546.3,542.3 L546.7,542.3 L547.1,542.3 L547.6,542.3 L548.0,542.4 L548.4,542.4 L548.8,542.4 L549.2,542.4 L549.6,542.4 L549.9,542.5 L550.3,542.5 L550.7,542.5 L551.5,542.5 L552.2,542.6 L552.9,542.6 L553.6,542.7 L554.2,542.7 L554.8,542.8 L555.4,542.8 L556.0,542.9 L556.5,542.9 L557.0,543.0 L557.5,543.0 L558.0,543.1 L558.4,543.1 L558.9,543.2 L559.3,543.3 L559.7,543.3 L560.2,543.3 L560.6,543.4 L561.0,543.4 L561.4,543.5 L561.8,543.5 L562.2,543.6 L562.6,543.6 L563.0,543.6 L563.5,543.6 L563.9,543.7 L564.3,543.7 L564.8,543.7 L565.3,543.7 L565.9,543.7 L566.4,543.7 L566.9,543.7 L567.4,543.7 L567.9,543.7 L568.4,543.6 L568.9,543.6 L569.4,543.6 L569.9,543.5 L570.4,543.5 L570.9,543.5 L571.4,543.4 L571.9,543.4 L572.4,543.3 L572.9,543.3 L573.4,543.3 L573.9,543.2 L574.3,543.2 L574.8,543.2 L575.4,543.1 L575.9,543.1 L576.4,543.1 L576.9,543.1 L577.4,543.1 L577.9,543.1 L578.4,543.1 L578.8,543.1 L579.3,543.1 L579.8,543.1 L580.3,543.1 L580.8,543.1 L581.3,543.1 L581.8,543.1 L582.3,543.1 L582.8,543.1 L583.3,543.2 L583.8,543.2 L584.3,543.2 L584.8,543.2 L585.3,543.2 L585.8,543.2 L586.3,543.2 L586.8,543.2 L587.3,543.2 L587.9,543.3 L588.4,543.3 L588.9,543.3 L589.5,543.3 L590.0,543.3 L590.5,543.3 L590.9,543.3 L591.4,543.3 L591.8,543.3 L592.2,543.4 L592.7,543.4 L593.1,543.4 L593.5,543.4 L593.9,543.4 L594.3,543.4 L594.7,543.4 L595.2,543.5 L595.6,543.5 L596.0,543.5 L596.5,543.5 L596.9,543.5 L597.4,543.5 L597.9,543.5 L598.4,543.5 L598.9,543.6 L599.4,543.6 L599.9,543.6 L600.5,543.6 L601.1,543.6 L601.7,543.6 L602.3,543.6 L603.0,543.5 L603.7,543.5 L604.4,543.5 L605.1,543.5 L605.5,543.5 L605.9,543.5 L606.3,543.5 L606.7,543.5 L607.1,543.4 L607.5,543.4 L607.9,543.4 L608.3,543.4 L608.7,543.4 L609.1,543.4 L609.6,543.3 L610.0,543.3 L610.5,543.3 L610.9,543.3 L611.4,543.3 L611.8,543.2 L612.3,543.2 L612.7,543.2 L613.2,543.2 L613.7,543.2 L614.2,543.1 L614.6,543.1 L615.1,543.1 L615.6,543.1 L616.1,543.0 L616.6,543.0 L617.1,543.0 L617.6,543.0 L618.1,542.9 L618.6,542.9 L619.1,542.9 L619.7,542.9 L620.2,542.8 L620.7,542.8 L621.2,542.8 L621.8,542.8 L622.3,542.7 L622.8,542.7 L623.4,542.7 L623.9,542.6 L624.5,542.6 L625.0,542.6 L625.6,542.6 L626.1,542.5 L626.7,542.5 L627.2,542.5 L627.8,542.4 L628.4,542.4 L628.9,542.4 L629.5,542.4 L630.1,542.3 L630.7,542.3 L631.2,542.3 L631.8,542.3 L632.4,542.2 L633.0,542.2 L633.5,542.2 L634.1,542.2 L634.7,542.1 L635.3,542.1 L635.7,542.1 L636.2,542.1 L636.6,542.0 L637.1,542.0 L637.6,542.0 L638.0,542.0 L638.5,542.0 L639.0,541.9 L639.4,541.9 L639.9,541.9 L640.4,541.9 L640.9,541.9 L641.4,541.8 L641.9,541.8 L642.4,541.8 L642.9,541.8 L643.4,541.8 L643.9,541.7 L644.4,541.7 L644.9,541.7 L645.4,541.7 L645.9,541.7 L646.4,541.6 L647.0,541.6 L647.5,541.6 L648.0,541.6 L648.5,541.6 L649.1,541.5 L649.6,541.5 L650.1,541.5 L650.6,541.5 L651.2,541.4 L651.7,541.4 L652.2,541.4 L652.8,541.4 L653.3,541.4 L653.8,541.3 L654.4,541.3 L654.9,541.3 L655.4,541.3 L656.0,541.3 L656.5,541.2 L657.1,541.2 L657.6,541.2 L658.1,541.2 L658.7,541.1 L659.2,541.1 L659.7,541.1 L660.3,541.1 L660.8,541.1 L661.3,541.0 L661.8,541.0 L662.4,541.0 L662.9,541.0 L663.4,541.0 L663.9,540.9 L664.5,540.9 L665.0,540.9 L665.5,540.9 L666.0,540.9 L666.5,540.8 L667.0,540.8 L667.5,540.8 L668.0,540.8 L668.5,540.8 L669.0,540.7 L669.5,540.7 L670.0,540.7 L670.5,540.7 L671.0,540.7 L671.5,540.7 L671.9,540.6 L672.4,540.6 L672.9,540.6 L673.3,540.6 L673.8,540.6 L674.3,540.5 L674.7,540.5 L675.2,540.5 L675.6,540.5 L676.2,540.5 L676.8,540.5 L677.3,540.4 L677.9,540.4 L678.5,540.4 L679.1,540.4 L679.6,540.4 L680.2,540.3 L680.8,540.3 L681.3,540.3 L681.9,540.3 L682.4,540.3 L683.0,540.2 L683.5,540.2 L684.0,540.2 L684.6,540.2 L685.1,540.2 L685.6,540.1 L686.2,540.1 L686.7,540.1 L687.2,540.1 L687.7,540.1 L688.3,540.0 L688.8,540.0 L689.3,540.0 L689.8,540.0 L690.3,540.0 L690.8,540.0 L691.3,539.9 L691.8,539.9 L692.3,539.9 L692.8,539.9 L693.3,539.9 L693.8,539.9 L694.3,539.8 L694.8,539.8 L695.2,539.8 L695.7,539.8 L696.2,539.8 L696.7,539.8 L697.2,539.8 L697.6,539.7 L698.1,539.7 L698.6,539.7 L699.0,539.7 L699.5,539.7 L700.0,539.7 L700.4,539.7 L700.9,539.6 L701.3,539.6 L701.8,539.6 L702.2,539.6 L702.7,539.6 L703.1,539.6 L703.6,539.6 L704.0,539.5 L704.5,539.5 L704.9,539.5 L705.4,539.5 L705.8,539.5 L706.4,539.5 L707.0,539.5 L707.6,539.5 L708.2,539.4 L708.8,539.4 L709.4,539.4 L710.0,539.4 L710.6,539.4 L711.2,539.4 L711.7,539.4 L712.3,539.4 L712.9,539.3 L713.5,539.3 L714.1,539.3 L714.7,539.3 L715.3,539.3 L715.9,539.3 L716.4,539.3 L717.0,539.3 L717.6,539.3 L718.1,539.3 L718.7,539.2 L719.2,539.2 L719.7,539.2 L720.3,539.2 L720.8,539.2 L721.3,539.2 L721.8,539.2 L722.3,539.2 L722.8,539.2 L723.2,539.2 L723.7,539.2 L724.1,539.2 L724.5,539.2 L725.0,539.2 L725.4,539.1 L725.8,539.1 L726.1,539.1 L726.5,539.1 L726.8,539.1 L727.2,539.1 L727.5,539.1 L727.8,539.1 L728.0,539.1 L728.3,539.1" fill="none" stroke="#111" stroke-width="1.7" stroke-linejoin="round"/>
<path d="M444.3,629.1 L444.6,629.1 L444.8,629.1 L445.1,629.1 L445.4,629.1 L445.7,629.1 L446.0,629.1 L446.4,629.1 L446.7,629.1 L447.0,629.1 L447.4,629.1 L447.8,629.1 L448.2,629.1 L448.6,629.1 L449.0,629.1 L449.4,629.0 L449.8,629.0 L450.2,629.0 L450.7,629.0 L451.1,629.0 L451.6,629.0 L452.0,629.0 L452.5,629.0 L453.0,629.0 L453.5,629.0 L454.0,629.0 L454.5,629.0 L455.0,629.0 L455.5,629.0 L456.0,629.0 L456.5,629.0 L457.1,629.0 L457.6,629.0 L458.1,629.0 L458.7,629.0 L459.2,629.0 L459.8,629.0 L460.3,628.9 L460.9,628.9 L461.5,628.9 L462.0,628.9 L462.6,628.9 L463.2,628.9 L463.8,628.9 L464.3,628.9 L464.9,628.9 L465.5,628.9 L466.1,628.9 L466.7,628.9 L467.2,628.9 L467.8,628.9 L468.4,628.9 L469.0,628.9 L469.6,628.8 L470.2,628.8 L470.7,628.8 L471.3,628.8 L471.9,628.8 L472.5,628.8 L473.1,628.8 L473.6,628.8 L474.2,628.8 L474.8,628.8 L475.4,628.8 L475.9,628.8 L476.5,628.8 L477.0,628.7 L477.6,628.7 L478.1,628.7 L478.7,628.7 L479.2,628.7 L479.8,628.7 L480.3,628.7 L480.8,628.7 L481.3,628.7 L481.7,628.7 L482.2,628.7 L482.7,628.7 L483.2,628.7 L483.7,628.6 L484.2,628.6 L484.7,628.6 L485.2,628.6 L485.6,628.6 L486.1,628.6 L486.6,628.6 L487.1,628.6 L487.6,628.6 L488.1,628.6 L488.6,628.5 L489.1,628.5 L489.6,628.5 L490.1,628.5 L490.7,628.5 L491.2,628.5 L491.7,628.5 L492.2,628.5 L492.7,628.5 L493.2,628.4 L493.7,628.4 L494.2,628.4 L494.7,628.4 L495.2,628.4 L495.8,628.4 L496.3,628.4 L496.8,628.4 L497.3,628.4 L497.8,628.3 L498.3,628.3 L498.8,628.3 L499.4,628.3 L499.9,628.3 L500.4,628.3 L500.9,628.3 L501.4,628.3 L501.9,628.3 L502.4,628.2 L503.0,628.2 L503.5,628.2 L504.0,628.2 L504.5,628.2 L505.0,628.2 L505.5,628.2 L506.0,628.2 L506.6,628.2 L507.1,628.1 L507.6,628.1 L508.1,628.1 L508.6,628.1 L509.1,628.1 L509.6,628.1 L510.1,628.1 L510.6,628.1 L511.1,628.1 L511.6,628.0 L512.1,628.0 L512.6,628.0 L513.1,628.0 L513.6,628.0 L514.1,628.0 L514.6,628.0 L515.1,628.0 L515.6,628.0 L516.1,628.0 L516.6,628.0 L517.1,627.9 L517.6,627.9 L518.1,627.9 L518.6,627.9 L519.1,627.9 L519.5,627.9 L520.0,627.9 L520.5,627.9 L521.0,627.9 L521.6,627.9 L522.1,627.9 L522.7,627.9 L523.2,627.9 L523.8,627.9 L524.3,627.9 L524.9,627.8 L525.4,627.8 L526.0,627.8 L526.6,627.8 L527.1,627.8 L527.7,627.8 L528.3,627.8 L528.8,627.8 L529.4,627.8 L530.0,627.8 L530.6,627.8 L531.1,627.8 L531.7,627.8 L532.3,627.8 L532.9,627.8 L533.4,627.8 L534.0,627.8 L534.6,627.8 L535.2,627.8 L535.7,627.8 L536.3,627.7 L536.9,627.7 L537.4,627.7 L538.0,627.7 L538.6,627.7 L539.1,627.7 L539.7,627.7 L540.2,627.7 L540.8,627.7 L541.3,627.7 L541.9,627.7 L542.4,627.7 L543.0,627.7 L543.5,627.7 L544.0,627.7 L544.5,627.7 L545.1,627.7 L545.6,627.7 L546.1,627.7 L546.6,627.7 L547.1,627.7 L547.6,627.7 L548.1,627.7 L548.5,627.7 L549.0,627.7 L549.5,627.7 L549.9,627.7 L550.4,627.7 L550.8,627.7 L551.3,627.7 L551.7,627.7 L552.1,627.7 L552.5,627.7 L553.0,627.7 L553.4,627.7 L553.7,627.7 L554.1,627.7 L554.5,627.7 L554.8,627.7 L555.2,627.7 L555.5,627.7 L555.9,627.7 L556.2,627.7 L556.5,627.7 L556.8,627.7 L558.4,627.7 L559.6,627.7 L560.5,627.7 L561.2,627.8 L561.6,627.8 L561.9,627.8 L562.0,627.9 L562.1,627.9 L562.2,628.0 L562.3,628.0 L562.5,628.1 L562.8,628.2 L563.5,628.5 L564.0,628.9 L564.5,629.3 L564.9,629.7 L565.3,630.0 L565.8,630.1 L566.2,630.0 L566.3,629.7 L566.5,629.3 L566.9,628.9 L567.6,628.5 L568.9,628.2 L569.2,628.2 L569.5,628.1 L569.9,628.1 L570.2,628.1 L570.6,628.0 L571.0,628.0 L571.4,628.0 L571.8,627.9 L572.3,627.9 L572.7,627.9 L573.2,627.9 L573.6,627.9 L574.1,627.8 L574.6,627.8 L575.1,627.8 L575.6,627.8 L576.2,627.8 L576.7,627.8 L577.2,627.7 L577.8,627.7 L578.4,627.7 L578.9,627.7 L579.5,627.7 L580.1,627.7 L580.7,627.7 L581.3,627.6 L581.9,627.6 L582.5,627.6 L583.1,627.6 L583.7,627.5 L584.4,627.5 L585.0,627.5 L585.4,627.5 L585.9,627.5 L586.3,627.4 L586.7,627.4 L587.2,627.4 L587.6,627.4 L588.1,627.4 L588.5,627.3 L589.0,627.3 L589.5,627.3 L590.0,627.3 L590.4,627.2 L590.9,627.2 L591.4,627.2 L591.9,627.1 L592.4,627.1 L592.9,627.1 L593.4,627.1 L593.9,627.0 L594.4,627.0 L594.9,627.0 L595.4,626.9 L596.0,626.9 L596.5,626.9 L597.0,626.9 L597.5,626.8 L598.0,626.8 L598.6,626.8 L599.1,626.8 L599.6,626.7 L600.2,626.7 L600.7,626.7 L601.2,626.7 L601.8,626.7 L602.3,626.6 L602.8,626.6 L603.4,626.6 L603.9,626.6 L604.4,626.6 L605.0,626.6 L605.5,626.5 L606.0,626.5 L606.6,626.5 L607.1,626.5 L607.6,626.5 L608.1,626.5 L608.7,626.5 L609.2,626.5 L609.7,626.5 L610.2,626.5 L610.7,626.5 L611.1,626.5 L611.6,626.5 L612.1,626.5 L612.6,626.5 L613.1,626.6 L613.6,626.6 L614.0,626.6 L614.5,626.6 L615.0,626.6 L615.5,626.6 L616.0,626.7 L616.5,626.7 L617.0,626.7 L617.4,626.7 L617.9,626.8 L618.4,626.8 L618.9,626.8 L619.4,626.8 L619.9,626.9 L620.4,626.9 L620.9,626.9 L621.4,626.9 L621.9,627.0 L622.4,627.0 L622.9,627.0 L623.4,627.0 L623.9,627.1 L624.4,627.1 L624.9,627.1 L625.4,627.2 L625.9,627.2 L626.4,627.2 L626.9,627.2 L627.4,627.3 L627.9,627.3 L628.4,627.3 L629.0,627.3 L629.5,627.3 L630.0,627.4 L630.5,627.4 L631.0,627.4 L631.6,627.4 L632.1,627.4 L632.6,627.5 L633.2,627.5 L633.7,627.5 L634.2,627.5 L634.8,627.5 L635.3,627.5 L635.8,627.5 L636.2,627.5 L636.7,627.5 L637.2,627.5 L637.7,627.5 L638.2,627.5 L638.6,627.5 L639.1,627.5 L639.6,627.5 L640.1,627.5 L640.6,627.5 L641.1,627.5 L641.6,627.5 L642.1,627.5 L642.6,627.5 L643.1,627.5 L643.6,627.5 L644.1,627.5 L644.6,627.5 L645.1,627.5 L645.6,627.5 L646.1,627.5 L646.6,627.5 L647.1,627.5 L647.6,627.5 L648.1,627.5 L648.6,627.4 L649.1,627.4 L649.6,627.4 L650.1,627.4 L650.7,627.4 L651.2,627.4 L651.7,627.4 L652.2,627.4 L652.7,627.4 L653.2,627.4 L653.7,627.4 L654.3,627.4 L654.8,627.3 L655.3,627.3 L655.8,627.3 L656.3,627.3 L656.8,627.3 L657.3,627.3 L657.9,627.3 L658.4,627.3 L658.9,627.3 L659.4,627.2 L659.9,627.2 L660.4,627.2 L660.9,627.2 L661.4,627.2 L662.0,627.2 L662.5,627.2 L663.0,627.2 L663.5,627.1 L664.0,627.1 L664.5,627.1 L665.0,627.1 L665.5,627.1 L666.0,627.1 L666.5,627.1 L667.0,627.1 L667.5,627.1 L668.0,627.0 L668.5,627.0 L669.0,627.0 L669.5,627.0 L670.0,627.0 L670.5,627.0 L671.0,627.0 L671.5,626.9 L672.0,626.9 L672.5,626.9 L673.0,626.9 L673.5,626.9 L674.0,626.9 L674.5,626.8 L675.0,626.8 L675.5,626.8 L676.0,626.8 L676.5,626.8 L677.0,626.8 L677.5,626.7 L678.0,626.7 L678.5,626.7 L679.0,626.7 L679.5,626.7 L680.0,626.7 L680.5,626.6 L680.9,626.6 L681.4,626.6 L681.9,626.6 L682.4,626.6 L682.9,626.5 L683.4,626.5 L683.9,626.5 L684.5,626.5 L685.0,626.5 L685.5,626.5 L686.0,626.4 L686.5,626.4 L687.0,626.4 L687.5,626.4 L688.0,626.4 L688.5,626.3 L689.0,626.3 L689.5,626.3 L690.0,626.3 L690.5,626.3 L691.0,626.3 L691.6,626.2 L692.1,626.2 L692.6,626.2 L693.1,626.2 L693.6,626.2 L694.1,626.2 L694.7,626.1 L695.2,626.1 L695.7,626.1 L696.2,626.1 L696.7,626.1 L697.2,626.1 L697.7,626.0 L698.2,626.0 L698.7,626.0 L699.3,626.0 L699.8,626.0 L700.4,626.0 L700.9,625.9 L701.5,625.9 L702.0,625.9 L702.6,625.9 L703.2,625.9 L703.7,625.8 L704.3,625.8 L704.9,625.8 L705.5,625.8 L706.0,625.8 L706.6,625.8 L707.2,625.7 L707.8,625.7 L708.4,625.7 L709.0,625.7 L709.5,625.7 L710.1,625.7 L710.7,625.6 L711.3,625.6 L711.9,625.6 L712.5,625.6 L713.0,625.6 L713.6,625.5 L714.2,625.5 L714.7,625.5 L715.3,625.5 L715.9,625.5 L716.4,625.5 L717.0,625.4 L717.5,625.4 L718.0,625.4 L718.6,625.4 L719.1,625.4 L719.6,625.4 L720.1,625.3 L720.6,625.3 L721.1,625.3 L721.6,625.3 L722.0,625.3 L722.5,625.3 L723.0,625.3 L723.4,625.2 L723.8,625.2 L724.2,625.2 L724.7,625.2 L725.1,625.2 L725.4,625.2 L725.8,625.2 L726.2,625.2 L726.5,625.2 L726.9,625.1 L727.2,625.1 L727.5,625.1 L727.8,625.1 L728.0,625.1 L728.3,625.1" fill="none" stroke="#111" stroke-width="1.7" stroke-linejoin="round"/>
<path d="M444.3,713.5 L444.6,713.5 L444.8,713.5 L445.1,713.5 L445.4,713.5 L445.7,713.5 L446.0,713.5 L446.3,713.5 L446.6,713.5 L446.9,713.5 L447.3,713.5 L447.6,713.5 L447.9,713.5 L448.3,713.5 L448.7,713.5 L449.0,713.6 L449.4,713.6 L449.8,713.6 L450.2,713.6 L450.6,713.6 L451.0,713.6 L451.4,713.6 L451.9,713.6 L452.3,713.6 L452.7,713.6 L453.2,713.6 L453.6,713.6 L454.1,713.6 L454.5,713.6 L455.0,713.6 L455.5,713.6 L455.9,713.6 L456.4,713.6 L456.9,713.6 L457.4,713.6 L457.9,713.6 L458.4,713.6 L458.9,713.7 L459.4,713.7 L459.9,713.7 L460.4,713.7 L461.0,713.7 L461.5,713.7 L462.0,713.7 L462.5,713.7 L463.1,713.7 L463.6,713.7 L464.2,713.7 L464.7,713.7 L465.3,713.7 L465.8,713.7 L466.4,713.7 L466.9,713.7 L467.5,713.7 L468.1,713.8 L468.6,713.8 L469.2,713.8 L469.8,713.8 L470.4,713.8 L470.9,713.8 L471.5,713.8 L472.1,713.8 L472.7,713.8 L473.2,713.8 L473.8,713.8 L474.4,713.8 L475.0,713.8 L475.6,713.8 L476.2,713.8 L476.7,713.8 L477.3,713.8 L477.9,713.9 L478.5,713.9 L479.1,713.9 L479.7,713.9 L480.2,713.9 L480.8,713.9 L481.4,713.9 L482.0,713.9 L482.6,713.9 L483.2,713.9 L483.7,713.9 L484.3,713.9 L484.9,713.9 L485.5,713.9 L486.0,713.9 L486.6,713.9 L487.2,714.0 L487.8,714.0 L488.3,714.0 L488.9,714.0 L489.4,714.0 L490.0,714.0 L490.6,714.0 L491.1,714.0 L491.7,714.0 L492.2,714.0 L492.7,714.0 L493.3,714.0 L493.8,714.0 L494.3,714.0 L494.9,714.0 L495.4,714.0 L495.9,714.1 L496.4,714.1 L497.0,714.1 L497.5,714.1 L498.0,714.1 L498.5,714.1 L499.0,714.1 L499.4,714.1 L499.9,714.1 L500.4,714.1 L500.9,714.1 L501.5,714.1 L502.0,714.1 L502.5,714.1 L503.1,714.1 L503.6,714.1 L504.2,714.1 L504.7,714.1 L505.3,714.2 L505.8,714.2 L506.4,714.2 L506.9,714.2 L507.5,714.2 L508.0,714.2 L508.6,714.2 L509.2,714.2 L509.7,714.2 L510.3,714.2 L510.8,714.2 L511.4,714.2 L512.0,714.2 L512.5,714.2 L513.1,714.2 L513.7,714.2 L514.2,714.2 L514.8,714.2 L515.4,714.3 L515.9,714.3 L516.5,714.3 L517.1,714.3 L517.6,714.3 L518.2,714.3 L518.7,714.3 L519.3,714.3 L519.9,714.3 L520.4,714.3 L521.0,714.3 L521.6,714.3 L522.1,714.3 L522.7,714.3 L523.2,714.3 L523.8,714.3 L524.3,714.3 L524.9,714.3 L525.4,714.3 L526.0,714.4 L526.5,714.4 L527.1,714.4 L527.6,714.4 L528.2,714.4 L528.7,714.4 L529.3,714.4 L529.8,714.4 L530.3,714.4 L530.9,714.4 L531.4,714.4 L531.9,714.4 L532.4,714.4 L532.9,714.4 L533.5,714.4 L534.0,714.4 L534.5,714.4 L535.0,714.4 L535.5,714.5 L536.0,714.5 L536.5,714.5 L537.0,714.5 L537.5,714.5 L538.0,714.5 L538.5,714.5 L538.9,714.5 L539.4,714.5 L539.9,714.5 L540.3,714.5 L540.8,714.5 L541.3,714.5 L541.7,714.5 L542.2,714.5 L542.6,714.5 L543.0,714.6 L543.5,714.6 L543.9,714.6 L544.3,714.6 L544.8,714.6 L545.2,714.6 L545.6,714.6 L546.0,714.6 L546.4,714.6 L546.8,714.6 L547.2,714.6 L547.5,714.6 L547.9,714.6 L548.3,714.6 L548.7,714.7 L549.0,714.7 L549.4,714.7 L549.7,714.7 L550.0,714.7 L550.4,714.7 L550.7,714.7 L551.8,714.7 L552.8,714.8 L553.7,714.8 L554.5,714.8 L555.3,714.9 L555.9,714.9 L556.5,715.0 L557.0,715.0 L557.5,715.0 L558.0,715.1 L558.3,715.1 L558.7,715.2 L559.0,715.2 L559.3,715.2 L559.6,715.3 L559.9,715.3 L560.2,715.4 L560.4,715.4 L560.7,715.5 L561.0,715.5 L561.3,715.5 L561.7,715.6 L562.1,715.6 L562.5,715.6 L563.0,715.6 L563.5,715.7 L564.1,715.7 L564.8,715.7 L565.2,715.7 L565.6,715.7 L566.0,715.7 L566.5,715.7 L566.9,715.7 L567.3,715.7 L567.8,715.7 L568.3,715.7 L568.7,715.7 L569.2,715.7 L569.7,715.7 L570.2,715.7 L570.7,715.7 L571.2,715.7 L571.7,715.7 L572.3,715.7 L572.8,715.7 L573.3,715.7 L573.8,715.7 L574.4,715.7 L574.9,715.7 L575.4,715.7 L576.0,715.6 L576.5,715.6 L577.1,715.6 L577.6,715.6 L578.2,715.6 L578.7,715.6 L579.3,715.6 L579.8,715.6 L580.4,715.6 L580.9,715.6 L581.5,715.6 L582.0,715.5 L582.5,715.5 L583.1,715.5 L583.6,715.5 L584.1,715.5 L584.6,715.5 L585.2,715.5 L585.7,715.5 L586.2,715.5 L586.7,715.5 L587.2,715.5 L587.7,715.5 L588.2,715.5 L588.6,715.5 L589.1,715.5 L589.6,715.5 L590.0,715.5 L590.6,715.5 L591.1,715.5 L591.7,715.5 L592.2,715.5 L592.8,715.6 L593.3,715.6 L593.8,715.6 L594.3,715.6 L594.8,715.6 L595.3,715.6 L595.8,715.7 L596.3,715.7 L596.7,715.7 L597.2,715.7 L597.7,715.8 L598.2,715.8 L598.6,715.8 L599.1,715.8 L599.5,715.9 L600.0,715.9 L600.5,715.9 L600.9,715.9 L601.4,715.9 L601.9,716.0 L602.4,716.0 L602.8,716.0 L603.3,716.0 L603.8,716.0 L604.3,716.1 L604.8,716.1 L605.3,716.1 L605.8,716.1 L606.4,716.1 L606.9,716.1 L607.5,716.1 L608.0,716.1 L608.6,716.1 L609.2,716.1 L609.6,716.1 L610.1,716.1 L610.5,716.1 L610.9,716.1 L611.4,716.1 L611.8,716.1 L612.3,716.0 L612.7,716.0 L613.1,716.0 L613.6,716.0 L614.0,716.0 L614.5,716.0 L614.9,715.9 L615.4,715.9 L615.8,715.9 L616.3,715.9 L616.7,715.9 L617.2,715.8 L617.6,715.8 L618.1,715.8 L618.6,715.8 L619.0,715.8 L619.5,715.7 L620.0,715.7 L620.4,715.7 L620.9,715.7 L621.4,715.6 L621.9,715.6 L622.4,715.6 L622.9,715.6 L623.4,715.5 L623.9,715.5 L624.4,715.5 L624.9,715.5 L625.5,715.4 L626.0,715.4 L626.5,715.4 L627.1,715.4 L627.6,715.3 L628.2,715.3 L628.7,715.3 L629.3,715.3 L629.9,715.3 L630.4,715.2 L631.0,715.2 L631.6,715.2 L632.2,715.2 L632.8,715.2 L633.4,715.1 L634.0,715.1 L634.7,715.1 L635.3,715.1 L635.7,715.1 L636.1,715.1 L636.6,715.1 L637.0,715.1 L637.4,715.1 L637.8,715.0 L638.3,715.0 L638.7,715.0 L639.1,715.0 L639.6,715.0 L640.0,715.0 L640.5,715.0 L640.9,715.0 L641.4,715.0 L641.8,715.0 L642.3,715.0 L642.7,715.0 L643.2,715.0 L643.6,715.0 L644.1,714.9 L644.5,714.9 L645.0,714.9 L645.5,714.9 L646.0,714.9 L646.4,714.9 L646.9,714.9 L647.4,714.9 L647.9,714.9 L648.3,714.9 L648.8,714.9 L649.3,714.9 L649.8,714.9 L650.3,714.9 L650.8,714.9 L651.3,714.9 L651.8,714.9 L652.3,714.9 L652.8,714.8 L653.3,714.8 L653.8,714.8 L654.3,714.8 L654.8,714.8 L655.3,714.8 L655.8,714.8 L656.3,714.8 L656.9,714.8 L657.4,714.8 L657.9,714.8 L658.4,714.8 L659.0,714.8 L659.5,714.8 L660.0,714.8 L660.5,714.8 L661.1,714.8 L661.6,714.8 L662.2,714.8 L662.7,714.8 L663.2,714.8 L663.8,714.8 L664.3,714.8 L664.9,714.8 L665.4,714.8 L666.0,714.7 L666.5,714.7 L667.1,714.7 L667.6,714.7 L668.2,714.7 L668.7,714.7 L669.3,714.7 L669.9,714.7 L670.4,714.7 L671.0,714.7 L671.6,714.7 L672.1,714.7 L672.7,714.7 L673.3,714.7 L673.9,714.7 L674.4,714.7 L675.0,714.7 L675.6,714.7 L676.0,714.7 L676.5,714.7 L677.0,714.7 L677.4,714.7 L677.9,714.7 L678.4,714.7 L678.9,714.7 L679.4,714.7 L679.8,714.7 L680.4,714.7 L680.9,714.7 L681.4,714.7 L681.9,714.7 L682.4,714.7 L682.9,714.7 L683.5,714.7 L684.0,714.7 L684.5,714.7 L685.1,714.7 L685.6,714.7 L686.2,714.7 L686.7,714.7 L687.3,714.7 L687.9,714.7 L688.4,714.7 L689.0,714.7 L689.6,714.7 L690.1,714.7 L690.7,714.7 L691.3,714.7 L691.9,714.7 L692.4,714.7 L693.0,714.7 L693.6,714.7 L694.2,714.7 L694.8,714.7 L695.4,714.7 L696.0,714.7 L696.5,714.7 L697.1,714.7 L697.7,714.7 L698.3,714.7 L698.9,714.7 L699.5,714.7 L700.1,714.7 L700.7,714.7 L701.3,714.7 L701.8,714.7 L702.4,714.7 L703.0,714.7 L703.6,714.7 L704.2,714.7 L704.8,714.7 L705.3,714.7 L705.9,714.7 L706.5,714.7 L707.1,714.7 L707.6,714.7 L708.2,714.7 L708.8,714.7 L709.3,714.7 L709.9,714.7 L710.4,714.7 L711.0,714.7 L711.5,714.7 L712.1,714.7 L712.6,714.7 L713.1,714.7 L713.7,714.7 L714.2,714.7 L714.7,714.7 L715.2,714.7 L715.7,714.7 L716.2,714.7 L716.7,714.7 L717.2,714.7 L717.7,714.7 L718.2,714.7 L718.7,714.7 L719.1,714.7 L719.6,714.7 L720.0,714.7 L720.5,714.7 L720.9,714.7 L721.4,714.7 L721.8,714.7 L722.2,714.7 L722.6,714.7 L723.0,714.7 L723.4,714.7 L723.8,714.7 L724.2,714.7 L724.6,714.7 L724.9,714.7 L725.3,714.7 L725.6,714.7 L726.0,714.7 L726.3,714.7 L726.6,714.7 L726.9,714.7 L727.2,714.7 L727.5,714.7 L727.8,714.7 L728.0,714.7 L728.3,714.7" fill="none" stroke="#111" stroke-width="1.7" stroke-linejoin="round"/>
<path d="M444.3,831.5 L444.6,831.5 L444.8,831.5 L445.1,831.5 L445.4,831.5 L445.7,831.5 L446.0,831.5 L446.4,831.5 L446.7,831.4 L447.0,831.4 L447.4,831.4 L447.8,831.4 L448.2,831.4 L448.6,831.4 L449.0,831.4 L449.4,831.4 L449.8,831.4 L450.2,831.4 L450.7,831.4 L451.1,831.3 L451.6,831.3 L452.0,831.3 L452.5,831.3 L453.0,831.3 L453.5,831.3 L454.0,831.3 L454.5,831.3 L455.0,831.2 L455.5,831.2 L456.0,831.2 L456.5,831.2 L457.1,831.2 L457.6,831.2 L458.1,831.2 L458.7,831.2 L459.2,831.2 L459.8,831.1 L460.3,831.1 L460.9,831.1 L461.5,831.1 L462.0,831.1 L462.6,831.1 L463.2,831.1 L463.8,831.0 L464.3,831.0 L464.9,831.0 L465.5,831.0 L466.1,831.0 L466.7,831.0 L467.2,831.0 L467.8,831.0 L468.4,830.9 L469.0,830.9 L469.6,830.9 L470.2,830.9 L470.7,830.9 L471.3,830.9 L471.9,830.9 L472.5,830.9 L473.1,830.8 L473.6,830.8 L474.2,830.8 L474.8,830.8 L475.4,830.8 L475.9,830.8 L476.5,830.8 L477.0,830.8 L477.6,830.8 L478.1,830.7 L478.7,830.7 L479.2,830.7 L479.8,830.7 L480.3,830.7 L480.8,830.7 L481.3,830.7 L481.8,830.7 L482.2,830.7 L482.7,830.7 L483.2,830.6 L483.8,830.6 L484.3,830.6 L484.8,830.6 L485.3,830.6 L485.8,830.6 L486.4,830.6 L486.9,830.6 L487.4,830.6 L488.0,830.6 L488.5,830.6 L489.0,830.6 L489.6,830.5 L490.1,830.5 L490.7,830.5 L491.2,830.5 L491.8,830.5 L492.3,830.5 L492.9,830.5 L493.4,830.5 L494.0,830.5 L494.5,830.5 L495.1,830.5 L495.7,830.5 L496.2,830.5 L496.8,830.4 L497.3,830.4 L497.9,830.4 L498.4,830.4 L499.0,830.4 L499.6,830.4 L500.1,830.4 L500.7,830.4 L501.2,830.4 L501.8,830.4 L502.3,830.4 L502.9,830.4 L503.4,830.4 L504.0,830.3 L504.5,830.3 L505.0,830.3 L505.6,830.3 L506.1,830.3 L506.6,830.3 L507.2,830.3 L507.7,830.3 L508.2,830.3 L508.7,830.3 L509.2,830.3 L509.7,830.3 L510.2,830.3 L510.7,830.3 L511.2,830.2 L511.7,830.2 L512.2,830.2 L512.7,830.2 L513.1,830.2 L513.6,830.2 L514.1,830.2 L514.5,830.2 L515.0,830.2 L515.4,830.2 L515.8,830.2 L516.3,830.2 L516.7,830.2 L517.1,830.2 L517.5,830.2 L517.9,830.1 L518.3,830.1 L518.7,830.1 L519.1,830.1 L519.4,830.1 L519.8,830.1 L520.2,830.1 L520.5,830.1 L521.4,830.1 L522.3,830.1 L523.1,830.0 L523.9,830.0 L524.6,830.0 L525.2,830.0 L525.8,829.9 L526.4,829.9 L526.9,829.9 L527.4,829.9 L527.8,829.8 L528.3,829.8 L528.7,829.8 L529.1,829.8 L529.4,829.8 L529.8,829.7 L530.1,829.7 L530.5,829.7 L530.8,829.7 L531.2,829.7 L531.5,829.7 L531.9,829.7 L532.3,829.7 L532.7,829.7 L533.1,829.7 L533.6,829.7 L534.1,829.7 L534.6,829.7 L535.1,829.7 L535.6,829.7 L536.1,829.8 L536.6,829.8 L537.1,829.8 L537.6,829.8 L538.1,829.9 L538.6,829.9 L539.2,830.0 L539.7,830.0 L540.2,830.0 L540.8,830.1 L541.3,830.1 L541.8,830.2 L542.4,830.2 L542.9,830.3 L543.4,830.3 L544.0,830.4 L544.5,830.4 L545.0,830.5 L545.5,830.5 L546.0,830.6 L546.6,830.6 L547.1,830.7 L547.5,830.7 L548.0,830.8 L548.5,830.9 L549.0,830.9 L549.4,831.0 L549.9,831.0 L550.3,831.1 L550.7,831.1 L551.3,831.2 L552.0,831.3 L552.6,831.3 L553.2,831.4 L553.8,831.5 L554.4,831.6 L555.0,831.6 L555.5,831.7 L556.1,831.8 L556.6,831.9 L557.1,832.0 L557.6,832.0 L558.1,832.1 L558.5,832.2 L558.9,832.3 L559.3,832.4 L559.7,832.4 L560.1,832.5 L560.5,832.6 L560.8,832.7 L561.8,833.0 L562.4,833.3 L562.8,833.7 L563.1,834.1 L563.5,834.5 L564.1,835.3 L564.7,836.3 L565.2,837.1 L565.8,837.5 L566.4,837.1 L566.9,836.2 L567.5,835.2 L568.0,834.5 L568.0,834.0 L567.9,833.7 L569.9,833.5 L570.2,833.5 L570.5,833.5 L570.8,833.5 L571.2,833.5 L571.6,833.5 L572.0,833.4 L572.4,833.4 L572.8,833.4 L573.3,833.4 L573.8,833.4 L574.2,833.4 L574.7,833.4 L575.3,833.4 L575.8,833.4 L576.3,833.4 L576.9,833.4 L577.4,833.4 L578.0,833.4 L578.6,833.4 L579.1,833.4 L579.7,833.4 L580.3,833.4 L580.9,833.4 L581.4,833.5 L582.0,833.5 L582.6,833.5 L583.2,833.5 L583.8,833.5 L584.3,833.5 L584.9,833.5 L585.5,833.5 L586.0,833.5 L586.6,833.5 L587.1,833.5 L587.6,833.5 L588.1,833.5 L588.6,833.5 L589.1,833.5 L589.6,833.5 L590.0,833.5 L590.6,833.5 L591.1,833.5 L591.6,833.5 L592.1,833.5 L592.5,833.5 L592.9,833.5 L593.3,833.5 L593.7,833.5 L594.1,833.5 L594.5,833.6 L594.8,833.6 L595.2,833.6 L595.6,833.6 L595.9,833.6 L596.3,833.6 L596.7,833.6 L597.1,833.6 L597.5,833.6 L597.9,833.6 L598.4,833.6 L598.9,833.6 L599.4,833.6 L600.0,833.6 L600.5,833.6 L601.2,833.6 L601.9,833.6 L602.6,833.6 L603.4,833.5 L604.2,833.5 L605.1,833.5 L605.5,833.5 L605.8,833.5 L606.2,833.5 L606.5,833.5 L606.9,833.5 L607.3,833.4 L607.7,833.4 L608.1,833.4 L608.5,833.4 L608.9,833.4 L609.4,833.4 L609.8,833.4 L610.2,833.4 L610.7,833.3 L611.1,833.3 L611.5,833.3 L612.0,833.3 L612.5,833.3 L612.9,833.3 L613.4,833.3 L613.9,833.2 L614.4,833.2 L614.8,833.2 L615.3,833.2 L615.8,833.2 L616.3,833.2 L616.8,833.2 L617.3,833.1 L617.9,833.1 L618.4,833.1 L618.9,833.1 L619.4,833.1 L619.9,833.1 L620.5,833.0 L621.0,833.0 L621.5,833.0 L622.1,833.0 L622.6,833.0 L623.1,832.9 L623.7,832.9 L624.2,832.9 L624.8,832.9 L625.3,832.9 L625.9,832.8 L626.4,832.8 L627.0,832.8 L627.5,832.8 L628.1,832.8 L628.6,832.8 L629.2,832.7 L629.7,832.7 L630.3,832.7 L630.8,832.7 L631.4,832.6 L632.0,832.6 L632.5,832.6 L633.1,832.6 L633.6,832.6 L634.2,832.5 L634.7,832.5 L635.3,832.5 L635.8,832.5 L636.4,832.5 L636.9,832.4 L637.5,832.4 L638.0,832.4 L638.6,832.4 L639.1,832.4 L639.7,832.3 L640.2,832.3 L640.7,832.3 L641.3,832.3 L641.8,832.2 L642.3,832.2 L642.8,832.2 L643.4,832.2 L643.9,832.2 L644.4,832.1 L644.9,832.1 L645.4,832.1 L645.9,832.1 L646.4,832.1 L646.9,832.0 L647.4,832.0 L647.9,832.0 L648.4,832.0 L648.9,831.9 L649.4,831.9 L649.9,831.9 L650.4,831.9 L650.9,831.9 L651.4,831.8 L651.9,831.8 L652.4,831.8 L652.9,831.8 L653.4,831.7 L653.9,831.7 L654.4,831.7 L654.9,831.7 L655.4,831.6 L655.9,831.6 L656.4,831.6 L656.9,831.6 L657.4,831.5 L657.9,831.5 L658.4,831.5 L658.9,831.5 L659.4,831.4 L659.9,831.4 L660.4,831.4 L660.9,831.4 L661.4,831.3 L661.9,831.3 L662.4,831.3 L662.9,831.2 L663.4,831.2 L663.9,831.2 L664.4,831.2 L664.9,831.1 L665.4,831.1 L665.9,831.1 L666.4,831.1 L666.9,831.0 L667.4,831.0 L667.9,831.0 L668.4,831.0 L668.9,830.9 L669.4,830.9 L669.9,830.9 L670.4,830.8 L670.9,830.8 L671.4,830.8 L671.9,830.8 L672.4,830.7 L672.9,830.7 L673.4,830.7 L673.9,830.7 L674.5,830.6 L675.0,830.6 L675.5,830.6 L676.0,830.6 L676.5,830.5 L677.0,830.5 L677.5,830.5 L678.0,830.5 L678.5,830.4 L679.0,830.4 L679.5,830.4 L680.0,830.4 L680.6,830.3 L681.1,830.3 L681.6,830.3 L682.1,830.3 L682.6,830.2 L683.1,830.2 L683.6,830.2 L684.1,830.2 L684.7,830.1 L685.2,830.1 L685.7,830.1 L686.2,830.1 L686.7,830.1 L687.2,830.0 L687.7,830.0 L688.2,830.0 L688.7,830.0 L689.3,829.9 L689.8,829.9 L690.3,829.9 L690.9,829.9 L691.4,829.9 L692.0,829.8 L692.5,829.8 L693.1,829.8 L693.6,829.8 L694.2,829.8 L694.8,829.7 L695.3,829.7 L695.9,829.7 L696.5,829.7 L697.0,829.6 L697.6,829.6 L698.2,829.6 L698.8,829.6 L699.4,829.6 L699.9,829.5 L700.5,829.5 L701.1,829.5 L701.7,829.5 L702.3,829.4 L702.9,829.4 L703.5,829.4 L704.0,829.4 L704.6,829.4 L705.2,829.3 L705.8,829.3 L706.4,829.3 L706.9,829.3 L707.5,829.2 L708.1,829.2 L708.7,829.2 L709.2,829.2 L709.8,829.2 L710.4,829.1 L710.9,829.1 L711.5,829.1 L712.0,829.1 L712.6,829.1 L713.1,829.0 L713.7,829.0 L714.2,829.0 L714.8,829.0 L715.3,829.0 L715.8,828.9 L716.3,828.9 L716.8,828.9 L717.3,828.9 L717.8,828.9 L718.3,828.9 L718.8,828.8 L719.3,828.8 L719.8,828.8 L720.2,828.8 L720.7,828.8 L721.2,828.8 L721.6,828.7 L722.0,828.7 L722.5,828.7 L722.9,828.7 L723.3,828.7 L723.7,828.7 L724.1,828.7 L724.5,828.6 L724.9,828.6 L725.2,828.6 L725.6,828.6 L725.9,828.6 L726.3,828.6 L726.6,828.6 L726.9,828.6 L727.2,828.5 L727.5,828.5 L727.8,828.5 L728.0,828.5 L728.3,828.5" fill="none" stroke="#111" stroke-width="1.7" stroke-linejoin="round"/>
<path d="M444.3,884.1 L444.6,884.1 L444.8,884.1 L445.1,884.1 L445.5,884.1 L445.8,884.1 L446.1,884.1 L446.5,884.1 L446.9,884.1 L447.3,884.1 L447.7,884.1 L448.1,884.2 L448.5,884.2 L449.0,884.2 L449.4,884.2 L449.9,884.2 L450.4,884.2 L450.9,884.2 L451.4,884.2 L451.9,884.2 L452.4,884.2 L452.9,884.2 L453.4,884.2 L454.0,884.2 L454.5,884.3 L455.1,884.3 L455.6,884.3 L456.2,884.3 L456.8,884.3 L457.4,884.3 L457.9,884.3 L458.5,884.3 L459.1,884.3 L459.7,884.3 L460.3,884.3 L460.9,884.3 L461.5,884.4 L462.1,884.4 L462.7,884.4 L463.3,884.4 L463.9,884.4 L464.4,884.4 L465.0,884.4 L465.6,884.4 L466.2,884.4 L466.8,884.4 L467.4,884.5 L468.0,884.5 L468.5,884.5 L469.1,884.5 L469.6,884.5 L470.2,884.5 L470.7,884.5 L471.1,884.5 L471.6,884.5 L472.1,884.5 L472.6,884.5 L473.1,884.6 L473.6,884.6 L474.1,884.6 L474.6,884.6 L475.1,884.6 L475.7,884.6 L476.2,884.6 L476.7,884.6 L477.2,884.6 L477.8,884.6 L478.3,884.6 L478.8,884.6 L479.4,884.7 L479.9,884.7 L480.5,884.7 L481.0,884.7 L481.6,884.7 L482.1,884.7 L482.6,884.7 L483.2,884.7 L483.7,884.7 L484.3,884.7 L484.8,884.7 L485.4,884.8 L485.9,884.8 L486.5,884.8 L487.0,884.8 L487.5,884.8 L488.1,884.8 L488.6,884.8 L489.1,884.8 L489.7,884.8 L490.2,884.8 L490.7,884.9 L491.2,884.9 L491.7,884.9 L492.2,884.9 L492.7,884.9 L493.2,884.9 L493.7,884.9 L494.2,884.9 L494.7,884.9 L495.2,885.0 L495.7,885.0 L496.1,885.0 L496.6,885.0 L497.0,885.0 L497.5,885.0 L497.9,885.0 L498.4,885.0 L498.8,885.0 L499.2,885.1 L499.6,885.1 L500.0,885.1 L500.4,885.1 L501.1,885.1 L501.8,885.2 L502.5,885.2 L503.1,885.2 L503.7,885.3 L504.3,885.3 L504.9,885.3 L505.5,885.4 L506.0,885.4 L506.6,885.5 L507.1,885.5 L507.6,885.5 L508.1,885.6 L508.6,885.6 L509.0,885.7 L509.5,885.7 L509.9,885.7 L510.4,885.8 L510.8,885.8 L511.3,885.9 L511.7,885.9 L512.1,885.9 L512.6,886.0 L513.0,886.0 L513.4,886.0 L513.8,886.0 L514.3,886.1 L514.7,886.1 L515.1,886.1 L515.6,886.1 L516.0,886.1 L516.5,886.1 L517.1,886.1 L517.6,886.1 L518.2,886.1 L518.7,886.0 L519.3,886.0 L519.9,886.0 L520.4,885.9 L521.0,885.9 L521.5,885.9 L522.1,885.8 L522.7,885.8 L523.2,885.7 L523.7,885.7 L524.3,885.6 L524.8,885.6 L525.3,885.5 L525.8,885.5 L526.3,885.4 L526.8,885.4 L527.2,885.3 L527.7,885.3 L528.1,885.2 L528.5,885.2 L528.9,885.2 L529.3,885.1 L529.7,885.1 L530.0,885.1 L531.0,885.1 L531.7,885.1 L532.2,885.1 L532.6,885.2 L533.0,885.3 L533.3,885.3 L533.6,885.4 L534.0,885.5 L534.6,885.6 L535.1,885.8 L535.6,886.0 L536.2,886.1 L536.7,886.3 L537.2,886.3 L537.7,886.2 L538.3,886.0 L538.8,885.8 L539.3,885.6 L539.9,885.5 L540.5,885.5 L541.0,885.7 L541.5,886.0 L542.0,886.4 L542.5,886.8 L543.0,887.2 L543.5,887.6 L544.0,887.9 L544.5,888.1 L545.0,888.1 L545.5,888.0 L545.9,887.7 L546.4,887.5 L547.0,887.2 L547.7,887.1 L548.1,887.1 L548.5,887.1 L549.0,887.1 L549.5,887.1 L550.0,887.1 L550.5,887.2 L551.1,887.2 L551.6,887.2 L552.2,887.3 L552.7,887.3 L553.2,887.4 L553.7,887.4 L554.2,887.5 L554.8,887.6 L555.3,887.6 L555.9,887.7 L556.4,887.8 L557.0,887.9 L557.5,888.0 L558.0,888.1 L558.5,888.2 L559.0,888.3 L559.4,888.4 L559.8,888.5 L560.6,888.7 L561.2,888.9 L561.7,889.2 L562.2,889.6 L562.6,890.3 L563.2,892.1 L563.7,894.4 L564.2,896.7 L564.9,901.0 L565.6,903.6 L566.2,902.1 L566.8,898.9 L567.4,896.0 L567.8,894.3 L568.3,892.7 L568.8,891.3 L569.5,890.3 L569.9,890.0 L570.3,889.9 L570.8,889.8 L571.3,889.8 L571.8,889.8 L572.4,889.9 L573.0,890.0 L573.6,890.0 L574.3,890.1 L574.7,890.1 L575.1,890.2 L575.6,890.2 L576.1,890.3 L576.6,890.3 L577.1,890.4 L577.6,890.5 L578.1,890.5 L578.6,890.6 L579.2,890.7 L579.7,890.7 L580.2,890.8 L580.8,890.9 L581.3,891.0 L581.8,891.0 L582.3,891.1 L582.8,891.2 L583.3,891.2 L583.7,891.3 L584.2,891.4 L584.6,891.4 L585.0,891.5 L585.5,891.6 L585.9,891.7 L586.4,891.7 L586.9,891.8 L587.4,891.9 L588.0,891.9 L588.6,892.0 L589.3,892.0 L590.0,892.1 L590.4,892.1 L590.8,892.2 L591.1,892.2 L591.5,892.2 L591.9,892.3 L592.3,892.3 L592.7,892.3 L593.1,892.4 L593.5,892.4 L593.9,892.4 L594.3,892.5 L594.8,892.5 L595.2,892.5 L595.7,892.6 L596.1,892.6 L596.6,892.6 L597.1,892.6 L597.6,892.7 L598.1,892.7 L598.7,892.7 L599.2,892.7 L599.8,892.7 L600.4,892.7 L601.0,892.8 L601.6,892.8 L602.3,892.8 L602.9,892.7 L603.6,892.7 L604.4,892.7 L605.1,892.7 L605.5,892.7 L605.9,892.7 L606.3,892.7 L606.7,892.6 L607.1,892.6 L607.5,892.6 L607.9,892.6 L608.3,892.6 L608.7,892.5 L609.1,892.5 L609.6,892.5 L610.0,892.5 L610.5,892.4 L610.9,892.4 L611.4,892.4 L611.8,892.3 L612.3,892.3 L612.7,892.3 L613.2,892.2 L613.7,892.2 L614.2,892.2 L614.6,892.1 L615.1,892.1 L615.6,892.0 L616.1,892.0 L616.6,892.0 L617.1,891.9 L617.6,891.9 L618.1,891.8 L618.6,891.8 L619.1,891.8 L619.7,891.7 L620.2,891.7 L620.7,891.6 L621.2,891.6 L621.8,891.6 L622.3,891.5 L622.8,891.5 L623.4,891.4 L623.9,891.4 L624.5,891.3 L625.0,891.3 L625.6,891.3 L626.1,891.2 L626.7,891.2 L627.2,891.2 L627.8,891.1 L628.4,891.1 L628.9,891.0 L629.5,891.0 L630.1,891.0 L630.7,890.9 L631.2,890.9 L631.8,890.9 L632.4,890.8 L633.0,890.8 L633.5,890.8 L634.1,890.8 L634.7,890.7 L635.3,890.7 L635.7,890.7 L636.2,890.7 L636.6,890.6 L637.1,890.6 L637.5,890.6 L638.0,890.6 L638.4,890.6 L638.9,890.6 L639.3,890.5 L639.8,890.5 L640.2,890.5 L640.7,890.5 L641.1,890.5 L641.6,890.5 L642.1,890.4 L642.5,890.4 L643.0,890.4 L643.4,890.4 L643.9,890.4 L644.4,890.4 L644.8,890.4 L645.3,890.3 L645.8,890.3 L646.3,890.3 L646.7,890.3 L647.2,890.3 L647.7,890.3 L648.2,890.3 L648.6,890.2 L649.1,890.2 L649.6,890.2 L650.1,890.2 L650.6,890.2 L651.1,890.2 L651.6,890.2 L652.1,890.2 L652.6,890.1 L653.0,890.1 L653.5,890.1 L654.0,890.1 L654.5,890.1 L655.0,890.1 L655.6,890.1 L656.1,890.1 L656.6,890.1 L657.1,890.0 L657.6,890.0 L658.1,890.0 L658.6,890.0 L659.1,890.0 L659.7,890.0 L660.2,890.0 L660.7,890.0 L661.2,890.0 L661.8,889.9 L662.3,889.9 L662.8,889.9 L663.3,889.9 L663.9,889.9 L664.4,889.9 L665.0,889.9 L665.5,889.9 L666.0,889.9 L666.6,889.9 L667.1,889.8 L667.7,889.8 L668.2,889.8 L668.8,889.8 L669.3,889.8 L669.9,889.8 L670.5,889.8 L671.0,889.8 L671.6,889.8 L672.2,889.8 L672.7,889.7 L673.3,889.7 L673.9,889.7 L674.4,889.7 L675.0,889.7 L675.6,889.7 L676.0,889.7 L676.5,889.7 L677.0,889.7 L677.4,889.7 L677.9,889.7 L678.4,889.7 L678.9,889.6 L679.4,889.6 L679.8,889.6 L680.4,889.6 L680.9,889.6 L681.4,889.6 L681.9,889.6 L682.4,889.6 L682.9,889.6 L683.5,889.6 L684.0,889.6 L684.5,889.6 L685.1,889.6 L685.6,889.6 L686.2,889.5 L686.7,889.5 L687.3,889.5 L687.9,889.5 L688.4,889.5 L689.0,889.5 L689.6,889.5 L690.1,889.5 L690.7,889.5 L691.3,889.5 L691.9,889.5 L692.4,889.5 L693.0,889.5 L693.6,889.5 L694.2,889.4 L694.8,889.4 L695.4,889.4 L696.0,889.4 L696.5,889.4 L697.1,889.4 L697.7,889.4 L698.3,889.4 L698.9,889.4 L699.5,889.4 L700.1,889.4 L700.7,889.4 L701.3,889.4 L701.8,889.4 L702.4,889.4 L703.0,889.4 L703.6,889.3 L704.2,889.3 L704.8,889.3 L705.3,889.3 L705.9,889.3 L706.5,889.3 L707.1,889.3 L707.6,889.3 L708.2,889.3 L708.8,889.3 L709.3,889.3 L709.9,889.3 L710.4,889.3 L711.0,889.3 L711.5,889.3 L712.1,889.3 L712.6,889.3 L713.1,889.3 L713.7,889.2 L714.2,889.2 L714.7,889.2 L715.2,889.2 L715.7,889.2 L716.2,889.2 L716.7,889.2 L717.2,889.2 L717.7,889.2 L718.2,889.2 L718.7,889.2 L719.1,889.2 L719.6,889.2 L720.0,889.2 L720.5,889.2 L720.9,889.2 L721.4,889.2 L721.8,889.2 L722.2,889.2 L722.6,889.2 L723.0,889.2 L723.4,889.2 L723.8,889.1 L724.2,889.1 L724.6,889.1 L724.9,889.1 L725.3,889.1 L725.6,889.1 L726.0,889.1 L726.3,889.1 L726.6,889.1 L726.9,889.1 L727.2,889.1 L727.5,889.1 L727.8,889.1 L728.0,889.1 L728.3,889.1" fill="none" stroke="#111" stroke-width="1.7" stroke-linejoin="round"/>
<rect x="453.20" y="590.70" width="66.40" height="21.70" fill="#fff" stroke="#8c8c8c" stroke-width="1"/>
<text x="464.50" y="606.20" font-family="'Liberation Sans', sans-serif" font-size="13.2" font-weight="bold" text-anchor="start">40FeHA</text>
<rect x="453.20" y="675.60" width="66.40" height="21.80" fill="#fff" stroke="#8c8c8c" stroke-width="1"/>
<text x="464.50" y="691.10" font-family="'Liberation Sans', sans-serif" font-size="13.2" font-weight="bold" text-anchor="start">30FeHA</text>
<rect x="450.00" y="761.00" width="66.50" height="21.70" fill="#fff" stroke="#8c8c8c" stroke-width="1"/>
<text x="461.30" y="776.50" font-family="'Liberation Sans', sans-serif" font-size="13.2" font-weight="bold" text-anchor="start">20FeHA</text>
<rect x="449.60" y="851.80" width="65.90" height="20.70" fill="#fff" stroke="#8c8c8c" stroke-width="1"/>
<text x="460.90" y="867.30" font-family="'Liberation Sans', sans-serif" font-size="13.2" font-weight="bold" text-anchor="start">10FeHA</text>
<rect x="452.50" y="936.30" width="58.00" height="21.70" fill="#fff" stroke="#8c8c8c" stroke-width="1"/>
<text x="463.80" y="951.80" font-family="'Liberation Sans', sans-serif" font-size="13.2" font-weight="bold" text-anchor="start">0FeHA</text>
<line x1="444.30" y1="530.40" x2="444.30" y2="962.20" stroke="#555" stroke-width="1.25"/>
<line x1="728.30" y1="530.40" x2="728.30" y2="962.20" stroke="#555" stroke-width="1.25"/>
<line x1="443.70" y1="530.40" x2="728.90" y2="530.40" stroke="#1e1e1e" stroke-width="1.25"/>
<line x1="444.30" y1="616.60" x2="728.30" y2="616.60" stroke="#1e1e1e" stroke-width="1.25"/>
<line x1="444.30" y1="702.90" x2="728.30" y2="702.90" stroke="#1e1e1e" stroke-width="1.25"/>
<line x1="444.30" y1="789.50" x2="728.30" y2="789.50" stroke="#1e1e1e" stroke-width="1.25"/>
<line x1="444.30" y1="875.60" x2="728.30" y2="875.60" stroke="#1e1e1e" stroke-width="1.25"/>
<line x1="443.70" y1="962.20" x2="728.90" y2="962.20" stroke="#1e1e1e" stroke-width="1.25"/>
<text x="437.80" y="534.80" font-family="'Liberation Sans', sans-serif" font-size="14.2" font-weight="bold" text-anchor="end">100</text>
<text x="437.80" y="556.40" font-family="'Liberation Sans', sans-serif" font-size="14.2" font-weight="bold" text-anchor="end">90</text>
<text x="437.80" y="578.00" font-family="'Liberation Sans', sans-serif" font-size="14.2" font-weight="bold" text-anchor="end">80</text>
<text x="437.80" y="599.60" font-family="'Liberation Sans', sans-serif" font-size="14.2" font-weight="bold" text-anchor="end">70</text>
<text x="437.80" y="621.20" font-family="'Liberation Sans', sans-serif" font-size="14.2" font-weight="bold" text-anchor="end">60</text>
<text x="437.80" y="633.20" font-family="'Liberation Sans', sans-serif" font-size="14.2" font-weight="bold" text-anchor="end">90</text>
<text x="437.80" y="657.90" font-family="'Liberation Sans', sans-serif" font-size="14.2" font-weight="bold" text-anchor="end">80</text>
<text x="437.80" y="682.60" font-family="'Liberation Sans', sans-serif" font-size="14.2" font-weight="bold" text-anchor="end">70</text>
<text x="437.80" y="707.30" font-family="'Liberation Sans', sans-serif" font-size="14.2" font-weight="bold" text-anchor="end">60</text>
<text x="437.80" y="707.30" font-family="'Liberation Sans', sans-serif" font-size="14.2" font-weight="bold" text-anchor="end">100</text>
<text x="437.80" y="741.90" font-family="'Liberation Sans', sans-serif" font-size="14.2" font-weight="bold" text-anchor="end">80</text>
<text x="437.80" y="776.50" font-family="'Liberation Sans', sans-serif" font-size="14.2" font-weight="bold" text-anchor="end">60</text>
<text x="437.80" y="805.90" font-family="'Liberation Sans', sans-serif" font-size="14.2" font-weight="bold" text-anchor="end">90</text>
<text x="437.80" y="830.60" font-family="'Liberation Sans', sans-serif" font-size="14.2" font-weight="bold" text-anchor="end">80</text>
<text x="437.80" y="855.30" font-family="'Liberation Sans', sans-serif" font-size="14.2" font-weight="bold" text-anchor="end">70</text>
<text x="437.80" y="880.00" font-family="'Liberation Sans', sans-serif" font-size="14.2" font-weight="bold" text-anchor="end">60</text>
<text x="437.80" y="889.00" font-family="'Liberation Sans', sans-serif" font-size="14.2" font-weight="bold" text-anchor="end">90</text>
<text x="437.80" y="908.40" font-family="'Liberation Sans', sans-serif" font-size="14.2" font-weight="bold" text-anchor="end">80</text>
<text x="437.80" y="927.80" font-family="'Liberation Sans', sans-serif" font-size="14.2" font-weight="bold" text-anchor="end">70</text>
<text x="437.80" y="947.20" font-family="'Liberation Sans', sans-serif" font-size="14.2" font-weight="bold" text-anchor="end">60</text>
<text x="437.80" y="966.60" font-family="'Liberation Sans', sans-serif" font-size="14.2" font-weight="bold" text-anchor="end">50</text>
<text x="444.30" y="979.20" font-family="'Liberation Sans', sans-serif" font-size="14.2" font-weight="bold" text-anchor="middle">4000</text>
<text x="501.10" y="979.20" font-family="'Liberation Sans', sans-serif" font-size="14.2" font-weight="bold" text-anchor="middle">3800</text>
<text x="557.90" y="979.20" font-family="'Liberation Sans', sans-serif" font-size="14.2" font-weight="bold" text-anchor="middle">3600</text>
<text x="614.70" y="979.20" font-family="'Liberation Sans', sans-serif" font-size="14.2" font-weight="bold" text-anchor="middle">3400</text>
<text x="671.50" y="979.20" font-family="'Liberation Sans', sans-serif" font-size="14.2" font-weight="bold" text-anchor="middle">3200</text>
<text x="728.30" y="979.20" font-family="'Liberation Sans', sans-serif" font-size="14.2" font-weight="bold" text-anchor="middle">3000</text>
<text x="61.60" y="58.80" font-family="'Liberation Serif', serif" font-size="23.5" font-weight="bold" text-anchor="start">(e)</text>
<text x="455.10" y="58.80" font-family="'Liberation Serif', serif" font-size="23.5" font-weight="bold" text-anchor="start">(f)</text>
<text x="65.20" y="577.70" font-family="'Liberation Serif', serif" font-size="23.5" font-weight="bold" text-anchor="start">(g)</text>
<text x="459.60" y="577.70" font-family="'Liberation Serif', serif" font-size="23.5" font-weight="bold" text-anchor="start">(h)</text>
<text x="206.00" y="498.00" font-family="'Liberation Sans', sans-serif" font-size="15.6" font-weight="bold" text-anchor="middle">Wavenumber (cm<tspan dy="-6.5" font-size="8.0" dx="1">-1</tspan><tspan dy="6.5">)</tspan></text>
<text x="587.20" y="495.10" font-family="'Liberation Sans', sans-serif" font-size="14.7" font-weight="bold" text-anchor="middle">Wavenumber (cm<tspan dy="-6.5" font-size="8.0" dx="1">-1</tspan><tspan dy="6.5">)</tspan></text>
<text x="205.30" y="1010.40" font-family="'Liberation Sans', sans-serif" font-size="15.6" font-weight="bold" text-anchor="middle">Wavenumber (cm<tspan dy="-6.5" font-size="8.0" dx="1">-1</tspan><tspan dy="6.5">)</tspan></text>
<text x="586.40" y="1006.70" font-family="'Liberation Sans', sans-serif" font-size="14.4" font-weight="bold" text-anchor="middle">Wavenumber (cm<tspan dy="-6.5" font-size="8.0" dx="1">-1</tspan><tspan dy="6.5">)</tspan></text>
<text transform="translate(15.80,236.10) rotate(-90)" x="0" y="0" font-family="'Liberation Sans', sans-serif" font-size="15.6" font-weight="bold" text-anchor="middle">Intensity (×10<tspan dy="-8.2" font-size="9.6">16</tspan><tspan dy="8.2">) (a.u)</tspan></text>
<text transform="translate(15.80,748.80) rotate(-90)" x="0" y="0" font-family="'Liberation Sans', sans-serif" font-size="15.6" font-weight="bold" text-anchor="middle">Intensity (×10<tspan dy="-8.2" font-size="9.6">16</tspan><tspan dy="8.2">) (a.u)</tspan></text>
<text transform="translate(403.20,237.80) rotate(-90)" x="0" y="0" font-family="'Liberation Sans', sans-serif" font-size="14.9" font-weight="bold" text-anchor="middle">Intensity  (a.u)</text>
<text transform="translate(407.20,755.60) rotate(-90)" x="0" y="0" font-family="'Liberation Sans', sans-serif" font-size="14.6" font-weight="bold" text-anchor="middle">Intensity  (a.u)</text>
</svg>
</body></html>
